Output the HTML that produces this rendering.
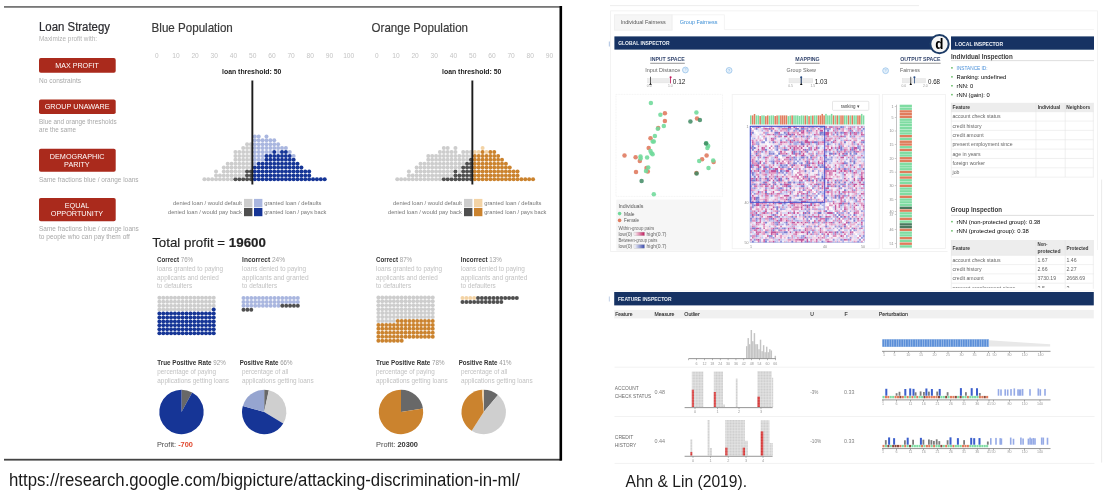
<!DOCTYPE html>
<html><head><meta charset="utf-8"><title>Fairness visualizations</title>
<style>
html,body{margin:0;padding:0;background:#fff;}
body{width:1115px;height:496px;overflow:hidden;}
svg{display:block;font-family:"Liberation Sans",Arial,sans-serif;}
</style></head><body>
<svg width="1115" height="496" viewBox="0 0 1115 496">
<rect x="4.00" y="6.00" width="557.50" height="1.80" fill="#777"/>
<rect x="4.00" y="458.80" width="557.50" height="1.80" fill="#444"/>
<rect x="559.50" y="6.00" width="2.60" height="454.60" fill="#000"/>
<defs><filter id="bL" x="-2%" y="-2%" width="104%" height="104%"><feGaussianBlur stdDeviation="0.22"/></filter><filter id="bR" x="-2%" y="-2%" width="104%" height="104%"><feGaussianBlur stdDeviation="0.32"/></filter></defs><g filter="url(#bL)">
<text x="39.0" y="31.4" font-size="12.3" fill="#2c2c30" textLength="71.0" lengthAdjust="spacingAndGlyphs" stroke="#2c2c30" stroke-width="0.22">Loan Strategy</text>
<text x="39.0" y="40.5" font-size="6.7" fill="#b0b0b0" textLength="58.0" lengthAdjust="spacingAndGlyphs">Maximize profit with:</text>
<rect x="39" y="58.1" width="76.7" height="14.7" rx="1.8" fill="#aa291b"/>
<text x="55.2" y="68.2" font-size="7.8" fill="#fff" textLength="43.7" lengthAdjust="spacingAndGlyphs">MAX PROFIT</text>
<text x="39.0" y="83.0" font-size="6.6" fill="#a8a8a8" textLength="42.0" lengthAdjust="spacingAndGlyphs">No constraints</text>
<rect x="39" y="99.6" width="76.7" height="14.5" rx="1.8" fill="#aa291b"/>
<text x="44.7" y="109.3" font-size="7.8" fill="#fff" textLength="65.0" lengthAdjust="spacingAndGlyphs">GROUP UNAWARE</text>
<text x="39.0" y="123.8" font-size="6.4" fill="#a8a8a8" textLength="77.6" lengthAdjust="spacingAndGlyphs">Blue and orange thresholds</text>
<text x="39.0" y="131.5" font-size="6.4" fill="#a8a8a8" textLength="37.0" lengthAdjust="spacingAndGlyphs">are the same</text>
<rect x="39" y="148.7" width="76.7" height="23.1" rx="1.8" fill="#aa291b"/>
<text x="49.8" y="158.8" font-size="7.8" fill="#fff" textLength="54.7" lengthAdjust="spacingAndGlyphs">DEMOGRAPHIC</text>
<text x="64.1" y="166.9" font-size="7.8" fill="#fff" textLength="25.6" lengthAdjust="spacingAndGlyphs">PARITY</text>
<text x="39.0" y="181.7" font-size="6.6" fill="#a8a8a8" textLength="99.6" lengthAdjust="spacingAndGlyphs">Same fractions blue / orange loans</text>
<rect x="39" y="198" width="76.7" height="23.3" rx="1.8" fill="#aa291b"/>
<text x="64.8" y="208.0" font-size="7.8" fill="#fff" textLength="24.5" lengthAdjust="spacingAndGlyphs">EQUAL</text>
<text x="50.8" y="216.4" font-size="7.8" fill="#fff" textLength="52.4" lengthAdjust="spacingAndGlyphs">OPPORTUNITY</text>
<text x="39.0" y="231.0" font-size="6.6" fill="#a8a8a8" textLength="99.8" lengthAdjust="spacingAndGlyphs">Same fractions blue / orange loans</text>
<text x="39.0" y="238.8" font-size="6.6" fill="#a8a8a8" textLength="90.8" lengthAdjust="spacingAndGlyphs">to people who can pay them off</text>
<text x="151.6" y="32.1" font-size="12.2" fill="#3a3a3a" textLength="81.2" lengthAdjust="spacingAndGlyphs" stroke="#3a3a3a" stroke-width="0.2">Blue Population</text>
<text x="156.7" y="57.9" font-size="7.4" fill="#c4c4c4" text-anchor="middle" textLength="3.6" lengthAdjust="spacingAndGlyphs">0</text>
<text x="175.9" y="57.9" font-size="7.4" fill="#c4c4c4" text-anchor="middle" textLength="7.4" lengthAdjust="spacingAndGlyphs">10</text>
<text x="195.1" y="57.9" font-size="7.4" fill="#c4c4c4" text-anchor="middle" textLength="7.4" lengthAdjust="spacingAndGlyphs">20</text>
<text x="214.3" y="57.9" font-size="7.4" fill="#c4c4c4" text-anchor="middle" textLength="7.4" lengthAdjust="spacingAndGlyphs">30</text>
<text x="233.5" y="57.9" font-size="7.4" fill="#c4c4c4" text-anchor="middle" textLength="7.4" lengthAdjust="spacingAndGlyphs">40</text>
<text x="252.7" y="57.9" font-size="7.4" fill="#c4c4c4" text-anchor="middle" textLength="7.4" lengthAdjust="spacingAndGlyphs">50</text>
<text x="271.9" y="57.9" font-size="7.4" fill="#c4c4c4" text-anchor="middle" textLength="7.4" lengthAdjust="spacingAndGlyphs">60</text>
<text x="291.1" y="57.9" font-size="7.4" fill="#c4c4c4" text-anchor="middle" textLength="7.4" lengthAdjust="spacingAndGlyphs">70</text>
<text x="310.3" y="57.9" font-size="7.4" fill="#c4c4c4" text-anchor="middle" textLength="7.4" lengthAdjust="spacingAndGlyphs">80</text>
<text x="329.5" y="57.9" font-size="7.4" fill="#c4c4c4" text-anchor="middle" textLength="7.4" lengthAdjust="spacingAndGlyphs">90</text>
<text x="348.7" y="57.9" font-size="7.4" fill="#c4c4c4" text-anchor="middle" textLength="11.0" lengthAdjust="spacingAndGlyphs">100</text>
<text x="251.7" y="74.1" font-size="7.4" fill="#222" font-weight="bold" text-anchor="middle" textLength="59.4" lengthAdjust="spacingAndGlyphs">loan threshold: 50</text>
<circle cx="204.40" cy="179.30" r="2.0" fill="#cdcdcd"/>
<circle cx="208.28" cy="179.30" r="2.0" fill="#cdcdcd"/>
<circle cx="212.16" cy="179.30" r="2.0" fill="#cdcdcd"/>
<circle cx="216.04" cy="179.30" r="2.0" fill="#cdcdcd"/>
<circle cx="216.04" cy="175.40" r="2.0" fill="#cdcdcd"/>
<circle cx="216.04" cy="171.50" r="2.0" fill="#cdcdcd"/>
<circle cx="219.92" cy="179.30" r="2.0" fill="#cdcdcd"/>
<circle cx="219.92" cy="175.40" r="2.0" fill="#cdcdcd"/>
<circle cx="223.80" cy="179.30" r="2.0" fill="#cdcdcd"/>
<circle cx="223.80" cy="175.40" r="2.0" fill="#cdcdcd"/>
<circle cx="223.80" cy="171.50" r="2.0" fill="#cdcdcd"/>
<circle cx="223.80" cy="167.60" r="2.0" fill="#cdcdcd"/>
<circle cx="227.68" cy="179.30" r="2.0" fill="#cdcdcd"/>
<circle cx="227.68" cy="175.40" r="2.0" fill="#cdcdcd"/>
<circle cx="227.68" cy="171.50" r="2.0" fill="#cdcdcd"/>
<circle cx="227.68" cy="167.60" r="2.0" fill="#cdcdcd"/>
<circle cx="227.68" cy="163.70" r="2.0" fill="#cdcdcd"/>
<circle cx="231.56" cy="179.30" r="2.0" fill="#cdcdcd"/>
<circle cx="231.56" cy="175.40" r="2.0" fill="#cdcdcd"/>
<circle cx="231.56" cy="171.50" r="2.0" fill="#cdcdcd"/>
<circle cx="231.56" cy="167.60" r="2.0" fill="#cdcdcd"/>
<circle cx="231.56" cy="163.70" r="2.0" fill="#cdcdcd"/>
<circle cx="235.44" cy="179.30" r="2.0" fill="#505050"/>
<circle cx="235.44" cy="175.40" r="2.0" fill="#cdcdcd"/>
<circle cx="235.44" cy="171.50" r="2.0" fill="#cdcdcd"/>
<circle cx="235.44" cy="167.60" r="2.0" fill="#cdcdcd"/>
<circle cx="235.44" cy="163.70" r="2.0" fill="#cdcdcd"/>
<circle cx="235.44" cy="159.80" r="2.0" fill="#cdcdcd"/>
<circle cx="235.44" cy="155.90" r="2.0" fill="#cdcdcd"/>
<circle cx="235.44" cy="152.00" r="2.0" fill="#cdcdcd"/>
<circle cx="239.32" cy="179.30" r="2.0" fill="#505050"/>
<circle cx="239.32" cy="175.40" r="2.0" fill="#cdcdcd"/>
<circle cx="239.32" cy="171.50" r="2.0" fill="#cdcdcd"/>
<circle cx="239.32" cy="167.60" r="2.0" fill="#cdcdcd"/>
<circle cx="239.32" cy="163.70" r="2.0" fill="#cdcdcd"/>
<circle cx="239.32" cy="159.80" r="2.0" fill="#cdcdcd"/>
<circle cx="239.32" cy="155.90" r="2.0" fill="#cdcdcd"/>
<circle cx="239.32" cy="152.00" r="2.0" fill="#cdcdcd"/>
<circle cx="243.20" cy="179.30" r="2.0" fill="#505050"/>
<circle cx="243.20" cy="175.40" r="2.0" fill="#cdcdcd"/>
<circle cx="243.20" cy="171.50" r="2.0" fill="#cdcdcd"/>
<circle cx="243.20" cy="167.60" r="2.0" fill="#cdcdcd"/>
<circle cx="243.20" cy="163.70" r="2.0" fill="#cdcdcd"/>
<circle cx="243.20" cy="159.80" r="2.0" fill="#cdcdcd"/>
<circle cx="243.20" cy="155.90" r="2.0" fill="#cdcdcd"/>
<circle cx="243.20" cy="152.00" r="2.0" fill="#cdcdcd"/>
<circle cx="243.20" cy="148.10" r="2.0" fill="#cdcdcd"/>
<circle cx="247.08" cy="179.30" r="2.0" fill="#505050"/>
<circle cx="247.08" cy="175.40" r="2.0" fill="#505050"/>
<circle cx="247.08" cy="171.50" r="2.0" fill="#505050"/>
<circle cx="247.08" cy="167.60" r="2.0" fill="#cdcdcd"/>
<circle cx="247.08" cy="163.70" r="2.0" fill="#cdcdcd"/>
<circle cx="247.08" cy="159.80" r="2.0" fill="#cdcdcd"/>
<circle cx="247.08" cy="155.90" r="2.0" fill="#cdcdcd"/>
<circle cx="247.08" cy="152.00" r="2.0" fill="#cdcdcd"/>
<circle cx="247.08" cy="148.10" r="2.0" fill="#cdcdcd"/>
<circle cx="247.08" cy="144.20" r="2.0" fill="#cdcdcd"/>
<circle cx="250.96" cy="179.30" r="2.0" fill="#505050"/>
<circle cx="250.96" cy="175.40" r="2.0" fill="#505050"/>
<circle cx="250.96" cy="171.50" r="2.0" fill="#505050"/>
<circle cx="250.96" cy="167.60" r="2.0" fill="#cdcdcd"/>
<circle cx="250.96" cy="163.70" r="2.0" fill="#cdcdcd"/>
<circle cx="250.96" cy="159.80" r="2.0" fill="#cdcdcd"/>
<circle cx="250.96" cy="155.90" r="2.0" fill="#cdcdcd"/>
<circle cx="250.96" cy="152.00" r="2.0" fill="#cdcdcd"/>
<circle cx="250.96" cy="148.10" r="2.0" fill="#cdcdcd"/>
<circle cx="250.96" cy="144.20" r="2.0" fill="#cdcdcd"/>
<circle cx="254.84" cy="179.30" r="2.0" fill="#143496"/>
<circle cx="254.84" cy="175.40" r="2.0" fill="#143496"/>
<circle cx="254.84" cy="171.50" r="2.0" fill="#143496"/>
<circle cx="254.84" cy="167.60" r="2.0" fill="#143496"/>
<circle cx="254.84" cy="163.70" r="2.0" fill="#a9b6df"/>
<circle cx="254.84" cy="159.80" r="2.0" fill="#a9b6df"/>
<circle cx="254.84" cy="155.90" r="2.0" fill="#a9b6df"/>
<circle cx="254.84" cy="152.00" r="2.0" fill="#a9b6df"/>
<circle cx="254.84" cy="148.10" r="2.0" fill="#a9b6df"/>
<circle cx="254.84" cy="144.20" r="2.0" fill="#a9b6df"/>
<circle cx="254.84" cy="140.30" r="2.0" fill="#a9b6df"/>
<circle cx="254.84" cy="136.40" r="2.0" fill="#a9b6df"/>
<circle cx="258.72" cy="179.30" r="2.0" fill="#143496"/>
<circle cx="258.72" cy="175.40" r="2.0" fill="#143496"/>
<circle cx="258.72" cy="171.50" r="2.0" fill="#143496"/>
<circle cx="258.72" cy="167.60" r="2.0" fill="#143496"/>
<circle cx="258.72" cy="163.70" r="2.0" fill="#143496"/>
<circle cx="258.72" cy="159.80" r="2.0" fill="#a9b6df"/>
<circle cx="258.72" cy="155.90" r="2.0" fill="#a9b6df"/>
<circle cx="258.72" cy="152.00" r="2.0" fill="#a9b6df"/>
<circle cx="258.72" cy="148.10" r="2.0" fill="#a9b6df"/>
<circle cx="258.72" cy="144.20" r="2.0" fill="#a9b6df"/>
<circle cx="258.72" cy="140.30" r="2.0" fill="#a9b6df"/>
<circle cx="258.72" cy="136.40" r="2.0" fill="#a9b6df"/>
<circle cx="262.60" cy="179.30" r="2.0" fill="#143496"/>
<circle cx="262.60" cy="175.40" r="2.0" fill="#143496"/>
<circle cx="262.60" cy="171.50" r="2.0" fill="#143496"/>
<circle cx="262.60" cy="167.60" r="2.0" fill="#143496"/>
<circle cx="262.60" cy="163.70" r="2.0" fill="#143496"/>
<circle cx="262.60" cy="159.80" r="2.0" fill="#a9b6df"/>
<circle cx="262.60" cy="155.90" r="2.0" fill="#a9b6df"/>
<circle cx="262.60" cy="152.00" r="2.0" fill="#a9b6df"/>
<circle cx="262.60" cy="148.10" r="2.0" fill="#a9b6df"/>
<circle cx="262.60" cy="144.20" r="2.0" fill="#a9b6df"/>
<circle cx="262.60" cy="140.30" r="2.0" fill="#a9b6df"/>
<circle cx="266.48" cy="179.30" r="2.0" fill="#143496"/>
<circle cx="266.48" cy="175.40" r="2.0" fill="#143496"/>
<circle cx="266.48" cy="171.50" r="2.0" fill="#143496"/>
<circle cx="266.48" cy="167.60" r="2.0" fill="#143496"/>
<circle cx="266.48" cy="163.70" r="2.0" fill="#143496"/>
<circle cx="266.48" cy="159.80" r="2.0" fill="#143496"/>
<circle cx="266.48" cy="155.90" r="2.0" fill="#143496"/>
<circle cx="266.48" cy="152.00" r="2.0" fill="#a9b6df"/>
<circle cx="266.48" cy="148.10" r="2.0" fill="#a9b6df"/>
<circle cx="266.48" cy="144.20" r="2.0" fill="#a9b6df"/>
<circle cx="266.48" cy="140.30" r="2.0" fill="#a9b6df"/>
<circle cx="266.48" cy="136.40" r="2.0" fill="#a9b6df"/>
<circle cx="270.36" cy="179.30" r="2.0" fill="#143496"/>
<circle cx="270.36" cy="175.40" r="2.0" fill="#143496"/>
<circle cx="270.36" cy="171.50" r="2.0" fill="#143496"/>
<circle cx="270.36" cy="167.60" r="2.0" fill="#143496"/>
<circle cx="270.36" cy="163.70" r="2.0" fill="#143496"/>
<circle cx="270.36" cy="159.80" r="2.0" fill="#143496"/>
<circle cx="270.36" cy="155.90" r="2.0" fill="#143496"/>
<circle cx="270.36" cy="152.00" r="2.0" fill="#a9b6df"/>
<circle cx="270.36" cy="148.10" r="2.0" fill="#a9b6df"/>
<circle cx="270.36" cy="144.20" r="2.0" fill="#a9b6df"/>
<circle cx="270.36" cy="140.30" r="2.0" fill="#a9b6df"/>
<circle cx="274.24" cy="179.30" r="2.0" fill="#143496"/>
<circle cx="274.24" cy="175.40" r="2.0" fill="#143496"/>
<circle cx="274.24" cy="171.50" r="2.0" fill="#143496"/>
<circle cx="274.24" cy="167.60" r="2.0" fill="#143496"/>
<circle cx="274.24" cy="163.70" r="2.0" fill="#143496"/>
<circle cx="274.24" cy="159.80" r="2.0" fill="#143496"/>
<circle cx="274.24" cy="155.90" r="2.0" fill="#143496"/>
<circle cx="274.24" cy="152.00" r="2.0" fill="#143496"/>
<circle cx="274.24" cy="148.10" r="2.0" fill="#a9b6df"/>
<circle cx="274.24" cy="144.20" r="2.0" fill="#a9b6df"/>
<circle cx="274.24" cy="140.30" r="2.0" fill="#a9b6df"/>
<circle cx="278.12" cy="179.30" r="2.0" fill="#143496"/>
<circle cx="278.12" cy="175.40" r="2.0" fill="#143496"/>
<circle cx="278.12" cy="171.50" r="2.0" fill="#143496"/>
<circle cx="278.12" cy="167.60" r="2.0" fill="#143496"/>
<circle cx="278.12" cy="163.70" r="2.0" fill="#143496"/>
<circle cx="278.12" cy="159.80" r="2.0" fill="#143496"/>
<circle cx="278.12" cy="155.90" r="2.0" fill="#143496"/>
<circle cx="278.12" cy="152.00" r="2.0" fill="#a9b6df"/>
<circle cx="278.12" cy="148.10" r="2.0" fill="#a9b6df"/>
<circle cx="278.12" cy="144.20" r="2.0" fill="#a9b6df"/>
<circle cx="282.00" cy="179.30" r="2.0" fill="#143496"/>
<circle cx="282.00" cy="175.40" r="2.0" fill="#143496"/>
<circle cx="282.00" cy="171.50" r="2.0" fill="#143496"/>
<circle cx="282.00" cy="167.60" r="2.0" fill="#143496"/>
<circle cx="282.00" cy="163.70" r="2.0" fill="#143496"/>
<circle cx="282.00" cy="159.80" r="2.0" fill="#143496"/>
<circle cx="282.00" cy="155.90" r="2.0" fill="#143496"/>
<circle cx="282.00" cy="152.00" r="2.0" fill="#143496"/>
<circle cx="282.00" cy="148.10" r="2.0" fill="#a9b6df"/>
<circle cx="285.88" cy="179.30" r="2.0" fill="#143496"/>
<circle cx="285.88" cy="175.40" r="2.0" fill="#143496"/>
<circle cx="285.88" cy="171.50" r="2.0" fill="#143496"/>
<circle cx="285.88" cy="167.60" r="2.0" fill="#143496"/>
<circle cx="285.88" cy="163.70" r="2.0" fill="#143496"/>
<circle cx="285.88" cy="159.80" r="2.0" fill="#143496"/>
<circle cx="285.88" cy="155.90" r="2.0" fill="#143496"/>
<circle cx="285.88" cy="152.00" r="2.0" fill="#143496"/>
<circle cx="285.88" cy="148.10" r="2.0" fill="#a9b6df"/>
<circle cx="289.76" cy="179.30" r="2.0" fill="#143496"/>
<circle cx="289.76" cy="175.40" r="2.0" fill="#143496"/>
<circle cx="289.76" cy="171.50" r="2.0" fill="#143496"/>
<circle cx="289.76" cy="167.60" r="2.0" fill="#143496"/>
<circle cx="289.76" cy="163.70" r="2.0" fill="#143496"/>
<circle cx="289.76" cy="159.80" r="2.0" fill="#143496"/>
<circle cx="289.76" cy="155.90" r="2.0" fill="#143496"/>
<circle cx="289.76" cy="152.00" r="2.0" fill="#a9b6df"/>
<circle cx="293.64" cy="179.30" r="2.0" fill="#143496"/>
<circle cx="293.64" cy="175.40" r="2.0" fill="#143496"/>
<circle cx="293.64" cy="171.50" r="2.0" fill="#143496"/>
<circle cx="293.64" cy="167.60" r="2.0" fill="#143496"/>
<circle cx="293.64" cy="163.70" r="2.0" fill="#143496"/>
<circle cx="293.64" cy="159.80" r="2.0" fill="#143496"/>
<circle cx="293.64" cy="155.90" r="2.0" fill="#a9b6df"/>
<circle cx="297.52" cy="179.30" r="2.0" fill="#143496"/>
<circle cx="297.52" cy="175.40" r="2.0" fill="#143496"/>
<circle cx="297.52" cy="171.50" r="2.0" fill="#143496"/>
<circle cx="297.52" cy="167.60" r="2.0" fill="#143496"/>
<circle cx="297.52" cy="163.70" r="2.0" fill="#143496"/>
<circle cx="301.40" cy="179.30" r="2.0" fill="#143496"/>
<circle cx="301.40" cy="175.40" r="2.0" fill="#143496"/>
<circle cx="301.40" cy="171.50" r="2.0" fill="#143496"/>
<circle cx="301.40" cy="167.60" r="2.0" fill="#143496"/>
<circle cx="305.28" cy="179.30" r="2.0" fill="#143496"/>
<circle cx="305.28" cy="175.40" r="2.0" fill="#143496"/>
<circle cx="305.28" cy="171.50" r="2.0" fill="#143496"/>
<circle cx="309.16" cy="179.30" r="2.0" fill="#143496"/>
<circle cx="309.16" cy="175.40" r="2.0" fill="#143496"/>
<circle cx="309.16" cy="171.50" r="2.0" fill="#143496"/>
<circle cx="313.04" cy="179.30" r="2.0" fill="#143496"/>
<circle cx="316.92" cy="179.30" r="2.0" fill="#143496"/>
<circle cx="320.80" cy="179.30" r="2.0" fill="#143496"/>
<circle cx="324.68" cy="179.30" r="2.0" fill="#143496"/>
<rect x="251.40" y="80.50" width="1.90" height="104.00" fill="#1e1e1e"/>
<text x="241.8" y="205.2" font-size="6.1" fill="#777" text-anchor="end" textLength="68.7" lengthAdjust="spacingAndGlyphs">denied loan / would default</text>
<text x="241.8" y="214.1" font-size="6.1" fill="#777" text-anchor="end" textLength="73.8" lengthAdjust="spacingAndGlyphs">denied loan / would pay back</text>
<rect x="244.00" y="198.90" width="8.40" height="8.10" fill="#cdcdcd"/>
<rect x="254.00" y="198.90" width="8.40" height="8.10" fill="#a9b6df"/>
<rect x="244.00" y="207.90" width="8.40" height="8.30" fill="#505050"/>
<rect x="254.00" y="207.90" width="8.40" height="8.30" fill="#143496"/>
<text x="264.2" y="205.2" font-size="6.1" fill="#777" textLength="57.3" lengthAdjust="spacingAndGlyphs">granted loan / defaults</text>
<text x="264.2" y="214.1" font-size="6.1" fill="#777" textLength="62.2" lengthAdjust="spacingAndGlyphs">granted loan / pays back</text>
<text x="371.6" y="32.1" font-size="12.2" fill="#3a3a3a" textLength="96.4" lengthAdjust="spacingAndGlyphs" stroke="#3a3a3a" stroke-width="0.2">Orange Population</text>
<text x="376.7" y="57.9" font-size="7.4" fill="#c4c4c4" text-anchor="middle" textLength="3.6" lengthAdjust="spacingAndGlyphs">0</text>
<text x="395.9" y="57.9" font-size="7.4" fill="#c4c4c4" text-anchor="middle" textLength="7.4" lengthAdjust="spacingAndGlyphs">10</text>
<text x="415.1" y="57.9" font-size="7.4" fill="#c4c4c4" text-anchor="middle" textLength="7.4" lengthAdjust="spacingAndGlyphs">20</text>
<text x="434.3" y="57.9" font-size="7.4" fill="#c4c4c4" text-anchor="middle" textLength="7.4" lengthAdjust="spacingAndGlyphs">30</text>
<text x="453.5" y="57.9" font-size="7.4" fill="#c4c4c4" text-anchor="middle" textLength="7.4" lengthAdjust="spacingAndGlyphs">40</text>
<text x="472.7" y="57.9" font-size="7.4" fill="#c4c4c4" text-anchor="middle" textLength="7.4" lengthAdjust="spacingAndGlyphs">50</text>
<text x="491.9" y="57.9" font-size="7.4" fill="#c4c4c4" text-anchor="middle" textLength="7.4" lengthAdjust="spacingAndGlyphs">60</text>
<text x="511.1" y="57.9" font-size="7.4" fill="#c4c4c4" text-anchor="middle" textLength="7.4" lengthAdjust="spacingAndGlyphs">70</text>
<text x="530.3" y="57.9" font-size="7.4" fill="#c4c4c4" text-anchor="middle" textLength="7.4" lengthAdjust="spacingAndGlyphs">80</text>
<text x="549.5" y="57.9" font-size="7.4" fill="#c4c4c4" text-anchor="middle" textLength="7.4" lengthAdjust="spacingAndGlyphs">90</text>
<text x="471.7" y="74.1" font-size="7.4" fill="#222" font-weight="bold" text-anchor="middle" textLength="59.4" lengthAdjust="spacingAndGlyphs">loan threshold: 50</text>
<circle cx="397.24" cy="179.30" r="2.0" fill="#cdcdcd"/>
<circle cx="401.12" cy="179.30" r="2.0" fill="#cdcdcd"/>
<circle cx="405.00" cy="179.30" r="2.0" fill="#cdcdcd"/>
<circle cx="408.88" cy="179.30" r="2.0" fill="#cdcdcd"/>
<circle cx="408.88" cy="175.40" r="2.0" fill="#cdcdcd"/>
<circle cx="408.88" cy="171.50" r="2.0" fill="#cdcdcd"/>
<circle cx="412.76" cy="179.30" r="2.0" fill="#cdcdcd"/>
<circle cx="412.76" cy="175.40" r="2.0" fill="#cdcdcd"/>
<circle cx="416.64" cy="179.30" r="2.0" fill="#cdcdcd"/>
<circle cx="416.64" cy="175.40" r="2.0" fill="#cdcdcd"/>
<circle cx="416.64" cy="171.50" r="2.0" fill="#cdcdcd"/>
<circle cx="416.64" cy="167.60" r="2.0" fill="#cdcdcd"/>
<circle cx="420.52" cy="179.30" r="2.0" fill="#cdcdcd"/>
<circle cx="420.52" cy="175.40" r="2.0" fill="#cdcdcd"/>
<circle cx="420.52" cy="171.50" r="2.0" fill="#cdcdcd"/>
<circle cx="420.52" cy="167.60" r="2.0" fill="#cdcdcd"/>
<circle cx="420.52" cy="163.70" r="2.0" fill="#cdcdcd"/>
<circle cx="424.40" cy="179.30" r="2.0" fill="#cdcdcd"/>
<circle cx="424.40" cy="175.40" r="2.0" fill="#cdcdcd"/>
<circle cx="424.40" cy="171.50" r="2.0" fill="#cdcdcd"/>
<circle cx="424.40" cy="167.60" r="2.0" fill="#cdcdcd"/>
<circle cx="424.40" cy="163.70" r="2.0" fill="#cdcdcd"/>
<circle cx="428.28" cy="179.30" r="2.0" fill="#cdcdcd"/>
<circle cx="428.28" cy="175.40" r="2.0" fill="#cdcdcd"/>
<circle cx="428.28" cy="171.50" r="2.0" fill="#cdcdcd"/>
<circle cx="428.28" cy="167.60" r="2.0" fill="#cdcdcd"/>
<circle cx="428.28" cy="163.70" r="2.0" fill="#cdcdcd"/>
<circle cx="428.28" cy="159.80" r="2.0" fill="#cdcdcd"/>
<circle cx="428.28" cy="155.90" r="2.0" fill="#cdcdcd"/>
<circle cx="432.16" cy="179.30" r="2.0" fill="#cdcdcd"/>
<circle cx="432.16" cy="175.40" r="2.0" fill="#cdcdcd"/>
<circle cx="432.16" cy="171.50" r="2.0" fill="#cdcdcd"/>
<circle cx="432.16" cy="167.60" r="2.0" fill="#cdcdcd"/>
<circle cx="432.16" cy="163.70" r="2.0" fill="#cdcdcd"/>
<circle cx="432.16" cy="159.80" r="2.0" fill="#cdcdcd"/>
<circle cx="432.16" cy="155.90" r="2.0" fill="#cdcdcd"/>
<circle cx="436.04" cy="179.30" r="2.0" fill="#cdcdcd"/>
<circle cx="436.04" cy="175.40" r="2.0" fill="#cdcdcd"/>
<circle cx="436.04" cy="171.50" r="2.0" fill="#cdcdcd"/>
<circle cx="436.04" cy="167.60" r="2.0" fill="#cdcdcd"/>
<circle cx="436.04" cy="163.70" r="2.0" fill="#cdcdcd"/>
<circle cx="436.04" cy="159.80" r="2.0" fill="#cdcdcd"/>
<circle cx="436.04" cy="155.90" r="2.0" fill="#cdcdcd"/>
<circle cx="439.92" cy="179.30" r="2.0" fill="#cdcdcd"/>
<circle cx="439.92" cy="175.40" r="2.0" fill="#cdcdcd"/>
<circle cx="439.92" cy="171.50" r="2.0" fill="#cdcdcd"/>
<circle cx="439.92" cy="167.60" r="2.0" fill="#cdcdcd"/>
<circle cx="439.92" cy="163.70" r="2.0" fill="#cdcdcd"/>
<circle cx="439.92" cy="159.80" r="2.0" fill="#cdcdcd"/>
<circle cx="439.92" cy="155.90" r="2.0" fill="#cdcdcd"/>
<circle cx="439.92" cy="152.00" r="2.0" fill="#cdcdcd"/>
<circle cx="443.80" cy="179.30" r="2.0" fill="#505050"/>
<circle cx="443.80" cy="175.40" r="2.0" fill="#cdcdcd"/>
<circle cx="443.80" cy="171.50" r="2.0" fill="#cdcdcd"/>
<circle cx="443.80" cy="167.60" r="2.0" fill="#cdcdcd"/>
<circle cx="443.80" cy="163.70" r="2.0" fill="#cdcdcd"/>
<circle cx="443.80" cy="159.80" r="2.0" fill="#cdcdcd"/>
<circle cx="443.80" cy="155.90" r="2.0" fill="#cdcdcd"/>
<circle cx="443.80" cy="152.00" r="2.0" fill="#cdcdcd"/>
<circle cx="443.80" cy="148.10" r="2.0" fill="#cdcdcd"/>
<circle cx="447.68" cy="179.30" r="2.0" fill="#505050"/>
<circle cx="447.68" cy="175.40" r="2.0" fill="#cdcdcd"/>
<circle cx="447.68" cy="171.50" r="2.0" fill="#cdcdcd"/>
<circle cx="447.68" cy="167.60" r="2.0" fill="#cdcdcd"/>
<circle cx="447.68" cy="163.70" r="2.0" fill="#cdcdcd"/>
<circle cx="447.68" cy="159.80" r="2.0" fill="#cdcdcd"/>
<circle cx="447.68" cy="155.90" r="2.0" fill="#cdcdcd"/>
<circle cx="447.68" cy="152.00" r="2.0" fill="#cdcdcd"/>
<circle cx="447.68" cy="148.10" r="2.0" fill="#cdcdcd"/>
<circle cx="451.56" cy="179.30" r="2.0" fill="#505050"/>
<circle cx="451.56" cy="175.40" r="2.0" fill="#cdcdcd"/>
<circle cx="451.56" cy="171.50" r="2.0" fill="#cdcdcd"/>
<circle cx="451.56" cy="167.60" r="2.0" fill="#cdcdcd"/>
<circle cx="451.56" cy="163.70" r="2.0" fill="#cdcdcd"/>
<circle cx="451.56" cy="159.80" r="2.0" fill="#cdcdcd"/>
<circle cx="451.56" cy="155.90" r="2.0" fill="#cdcdcd"/>
<circle cx="451.56" cy="152.00" r="2.0" fill="#cdcdcd"/>
<circle cx="455.44" cy="179.30" r="2.0" fill="#505050"/>
<circle cx="455.44" cy="175.40" r="2.0" fill="#505050"/>
<circle cx="455.44" cy="171.50" r="2.0" fill="#505050"/>
<circle cx="455.44" cy="167.60" r="2.0" fill="#cdcdcd"/>
<circle cx="455.44" cy="163.70" r="2.0" fill="#cdcdcd"/>
<circle cx="455.44" cy="159.80" r="2.0" fill="#cdcdcd"/>
<circle cx="455.44" cy="155.90" r="2.0" fill="#cdcdcd"/>
<circle cx="455.44" cy="152.00" r="2.0" fill="#cdcdcd"/>
<circle cx="455.44" cy="148.10" r="2.0" fill="#cdcdcd"/>
<circle cx="459.32" cy="179.30" r="2.0" fill="#505050"/>
<circle cx="459.32" cy="175.40" r="2.0" fill="#505050"/>
<circle cx="459.32" cy="171.50" r="2.0" fill="#cdcdcd"/>
<circle cx="459.32" cy="167.60" r="2.0" fill="#cdcdcd"/>
<circle cx="459.32" cy="163.70" r="2.0" fill="#cdcdcd"/>
<circle cx="459.32" cy="159.80" r="2.0" fill="#cdcdcd"/>
<circle cx="459.32" cy="155.90" r="2.0" fill="#cdcdcd"/>
<circle cx="463.20" cy="179.30" r="2.0" fill="#505050"/>
<circle cx="463.20" cy="175.40" r="2.0" fill="#505050"/>
<circle cx="463.20" cy="171.50" r="2.0" fill="#505050"/>
<circle cx="463.20" cy="167.60" r="2.0" fill="#505050"/>
<circle cx="463.20" cy="163.70" r="2.0" fill="#cdcdcd"/>
<circle cx="463.20" cy="159.80" r="2.0" fill="#cdcdcd"/>
<circle cx="463.20" cy="155.90" r="2.0" fill="#cdcdcd"/>
<circle cx="463.20" cy="152.00" r="2.0" fill="#cdcdcd"/>
<circle cx="467.08" cy="179.30" r="2.0" fill="#505050"/>
<circle cx="467.08" cy="175.40" r="2.0" fill="#505050"/>
<circle cx="467.08" cy="171.50" r="2.0" fill="#505050"/>
<circle cx="467.08" cy="167.60" r="2.0" fill="#505050"/>
<circle cx="467.08" cy="163.70" r="2.0" fill="#505050"/>
<circle cx="467.08" cy="159.80" r="2.0" fill="#cdcdcd"/>
<circle cx="467.08" cy="155.90" r="2.0" fill="#cdcdcd"/>
<circle cx="467.08" cy="152.00" r="2.0" fill="#cdcdcd"/>
<circle cx="470.96" cy="179.30" r="2.0" fill="#505050"/>
<circle cx="470.96" cy="175.40" r="2.0" fill="#505050"/>
<circle cx="470.96" cy="171.50" r="2.0" fill="#505050"/>
<circle cx="470.96" cy="167.60" r="2.0" fill="#505050"/>
<circle cx="470.96" cy="163.70" r="2.0" fill="#505050"/>
<circle cx="470.96" cy="159.80" r="2.0" fill="#505050"/>
<circle cx="470.96" cy="155.90" r="2.0" fill="#cdcdcd"/>
<circle cx="470.96" cy="152.00" r="2.0" fill="#cdcdcd"/>
<circle cx="474.84" cy="179.30" r="2.0" fill="#cb832e"/>
<circle cx="474.84" cy="175.40" r="2.0" fill="#cb832e"/>
<circle cx="474.84" cy="171.50" r="2.0" fill="#cb832e"/>
<circle cx="474.84" cy="167.60" r="2.0" fill="#cb832e"/>
<circle cx="474.84" cy="163.70" r="2.0" fill="#cb832e"/>
<circle cx="474.84" cy="159.80" r="2.0" fill="#cb832e"/>
<circle cx="474.84" cy="155.90" r="2.0" fill="#cb832e"/>
<circle cx="474.84" cy="152.00" r="2.0" fill="#f3d3a5"/>
<circle cx="478.72" cy="179.30" r="2.0" fill="#cb832e"/>
<circle cx="478.72" cy="175.40" r="2.0" fill="#cb832e"/>
<circle cx="478.72" cy="171.50" r="2.0" fill="#cb832e"/>
<circle cx="478.72" cy="167.60" r="2.0" fill="#cb832e"/>
<circle cx="478.72" cy="163.70" r="2.0" fill="#cb832e"/>
<circle cx="478.72" cy="159.80" r="2.0" fill="#cb832e"/>
<circle cx="478.72" cy="155.90" r="2.0" fill="#cb832e"/>
<circle cx="478.72" cy="152.00" r="2.0" fill="#f3d3a5"/>
<circle cx="482.60" cy="179.30" r="2.0" fill="#cb832e"/>
<circle cx="482.60" cy="175.40" r="2.0" fill="#cb832e"/>
<circle cx="482.60" cy="171.50" r="2.0" fill="#cb832e"/>
<circle cx="482.60" cy="167.60" r="2.0" fill="#cb832e"/>
<circle cx="482.60" cy="163.70" r="2.0" fill="#cb832e"/>
<circle cx="482.60" cy="159.80" r="2.0" fill="#cb832e"/>
<circle cx="482.60" cy="155.90" r="2.0" fill="#cb832e"/>
<circle cx="482.60" cy="152.00" r="2.0" fill="#cb832e"/>
<circle cx="482.60" cy="148.10" r="2.0" fill="#f3d3a5"/>
<circle cx="486.48" cy="179.30" r="2.0" fill="#cb832e"/>
<circle cx="486.48" cy="175.40" r="2.0" fill="#cb832e"/>
<circle cx="486.48" cy="171.50" r="2.0" fill="#cb832e"/>
<circle cx="486.48" cy="167.60" r="2.0" fill="#cb832e"/>
<circle cx="486.48" cy="163.70" r="2.0" fill="#cb832e"/>
<circle cx="486.48" cy="159.80" r="2.0" fill="#cb832e"/>
<circle cx="486.48" cy="155.90" r="2.0" fill="#cb832e"/>
<circle cx="486.48" cy="152.00" r="2.0" fill="#f3d3a5"/>
<circle cx="490.36" cy="179.30" r="2.0" fill="#cb832e"/>
<circle cx="490.36" cy="175.40" r="2.0" fill="#cb832e"/>
<circle cx="490.36" cy="171.50" r="2.0" fill="#cb832e"/>
<circle cx="490.36" cy="167.60" r="2.0" fill="#cb832e"/>
<circle cx="490.36" cy="163.70" r="2.0" fill="#cb832e"/>
<circle cx="490.36" cy="159.80" r="2.0" fill="#cb832e"/>
<circle cx="490.36" cy="155.90" r="2.0" fill="#cb832e"/>
<circle cx="490.36" cy="152.00" r="2.0" fill="#cb832e"/>
<circle cx="494.24" cy="179.30" r="2.0" fill="#cb832e"/>
<circle cx="494.24" cy="175.40" r="2.0" fill="#cb832e"/>
<circle cx="494.24" cy="171.50" r="2.0" fill="#cb832e"/>
<circle cx="494.24" cy="167.60" r="2.0" fill="#cb832e"/>
<circle cx="494.24" cy="163.70" r="2.0" fill="#cb832e"/>
<circle cx="494.24" cy="159.80" r="2.0" fill="#cb832e"/>
<circle cx="494.24" cy="155.90" r="2.0" fill="#cb832e"/>
<circle cx="494.24" cy="152.00" r="2.0" fill="#cb832e"/>
<circle cx="498.12" cy="179.30" r="2.0" fill="#cb832e"/>
<circle cx="498.12" cy="175.40" r="2.0" fill="#cb832e"/>
<circle cx="498.12" cy="171.50" r="2.0" fill="#cb832e"/>
<circle cx="498.12" cy="167.60" r="2.0" fill="#cb832e"/>
<circle cx="498.12" cy="163.70" r="2.0" fill="#cb832e"/>
<circle cx="498.12" cy="159.80" r="2.0" fill="#cb832e"/>
<circle cx="498.12" cy="155.90" r="2.0" fill="#cb832e"/>
<circle cx="502.00" cy="179.30" r="2.0" fill="#cb832e"/>
<circle cx="502.00" cy="175.40" r="2.0" fill="#cb832e"/>
<circle cx="502.00" cy="171.50" r="2.0" fill="#cb832e"/>
<circle cx="502.00" cy="167.60" r="2.0" fill="#cb832e"/>
<circle cx="502.00" cy="163.70" r="2.0" fill="#cb832e"/>
<circle cx="502.00" cy="159.80" r="2.0" fill="#cb832e"/>
<circle cx="505.88" cy="179.30" r="2.0" fill="#cb832e"/>
<circle cx="505.88" cy="175.40" r="2.0" fill="#cb832e"/>
<circle cx="505.88" cy="171.50" r="2.0" fill="#cb832e"/>
<circle cx="505.88" cy="167.60" r="2.0" fill="#cb832e"/>
<circle cx="505.88" cy="163.70" r="2.0" fill="#cb832e"/>
<circle cx="509.76" cy="179.30" r="2.0" fill="#cb832e"/>
<circle cx="509.76" cy="175.40" r="2.0" fill="#cb832e"/>
<circle cx="509.76" cy="171.50" r="2.0" fill="#cb832e"/>
<circle cx="509.76" cy="167.60" r="2.0" fill="#cb832e"/>
<circle cx="513.64" cy="179.30" r="2.0" fill="#cb832e"/>
<circle cx="513.64" cy="175.40" r="2.0" fill="#cb832e"/>
<circle cx="513.64" cy="171.50" r="2.0" fill="#cb832e"/>
<circle cx="517.52" cy="179.30" r="2.0" fill="#cb832e"/>
<circle cx="517.52" cy="175.40" r="2.0" fill="#cb832e"/>
<circle cx="517.52" cy="171.50" r="2.0" fill="#cb832e"/>
<circle cx="521.40" cy="179.30" r="2.0" fill="#cb832e"/>
<circle cx="525.28" cy="179.30" r="2.0" fill="#cb832e"/>
<circle cx="529.16" cy="179.30" r="2.0" fill="#cb832e"/>
<circle cx="533.04" cy="179.30" r="2.0" fill="#cb832e"/>
<rect x="471.40" y="80.50" width="1.90" height="104.00" fill="#1e1e1e"/>
<text x="461.8" y="205.2" font-size="6.1" fill="#777" text-anchor="end" textLength="68.7" lengthAdjust="spacingAndGlyphs">denied loan / would default</text>
<text x="461.8" y="214.1" font-size="6.1" fill="#777" text-anchor="end" textLength="73.8" lengthAdjust="spacingAndGlyphs">denied loan / would pay back</text>
<rect x="464.00" y="198.90" width="8.40" height="8.10" fill="#cdcdcd"/>
<rect x="474.00" y="198.90" width="8.40" height="8.10" fill="#f3d3a5"/>
<rect x="464.00" y="207.90" width="8.40" height="8.30" fill="#505050"/>
<rect x="474.00" y="207.90" width="8.40" height="8.30" fill="#cb832e"/>
<text x="484.2" y="205.2" font-size="6.1" fill="#777" textLength="57.3" lengthAdjust="spacingAndGlyphs">granted loan / defaults</text>
<text x="484.2" y="214.1" font-size="6.1" fill="#777" textLength="62.2" lengthAdjust="spacingAndGlyphs">granted loan / pays back</text>
<text x="152.2" y="246.6" font-size="13" fill="#222" textLength="113.7" lengthAdjust="spacingAndGlyphs" stroke="#222" stroke-width="0.15">Total profit = <tspan font-weight="bold">19600</tspan></text>
<text x="157.1" y="262.0" font-size="6.4" fill="#a0a0a0" textLength="36.0" lengthAdjust="spacingAndGlyphs"><tspan font-weight="bold" fill="#333">Correct</tspan> 76%</text>
<text x="157.1" y="271.3" font-size="6.6" fill="#c2c2c2" textLength="66.0" lengthAdjust="spacingAndGlyphs">loans granted to paying</text>
<text x="157.1" y="279.6" font-size="6.6" fill="#c2c2c2" textLength="61.7" lengthAdjust="spacingAndGlyphs">applicants and denied</text>
<text x="157.1" y="287.9" font-size="6.6" fill="#c2c2c2" textLength="35.0" lengthAdjust="spacingAndGlyphs">to defaulters</text>
<text x="242.1" y="262.0" font-size="6.4" fill="#a0a0a0" textLength="43.0" lengthAdjust="spacingAndGlyphs"><tspan font-weight="bold" fill="#333">Incorrect</tspan> 24%</text>
<text x="242.1" y="271.3" font-size="6.6" fill="#c2c2c2" textLength="64.0" lengthAdjust="spacingAndGlyphs">loans denied to paying</text>
<text x="242.1" y="279.6" font-size="6.6" fill="#c2c2c2" textLength="66.5" lengthAdjust="spacingAndGlyphs">applicants and granted</text>
<text x="242.1" y="287.9" font-size="6.6" fill="#c2c2c2" textLength="35.0" lengthAdjust="spacingAndGlyphs">to defaulters</text>
<text x="376.1" y="262.0" font-size="6.4" fill="#a0a0a0" textLength="36.0" lengthAdjust="spacingAndGlyphs"><tspan font-weight="bold" fill="#333">Correct</tspan> 87%</text>
<text x="376.1" y="271.3" font-size="6.6" fill="#c2c2c2" textLength="66.0" lengthAdjust="spacingAndGlyphs">loans granted to paying</text>
<text x="376.1" y="279.6" font-size="6.6" fill="#c2c2c2" textLength="61.7" lengthAdjust="spacingAndGlyphs">applicants and denied</text>
<text x="376.1" y="287.9" font-size="6.6" fill="#c2c2c2" textLength="35.0" lengthAdjust="spacingAndGlyphs">to defaulters</text>
<text x="460.8" y="262.0" font-size="6.4" fill="#a0a0a0" textLength="41.0" lengthAdjust="spacingAndGlyphs"><tspan font-weight="bold" fill="#333">Incorrect</tspan> 13%</text>
<text x="460.8" y="271.3" font-size="6.6" fill="#c2c2c2" textLength="64.0" lengthAdjust="spacingAndGlyphs">loans denied to paying</text>
<text x="460.8" y="279.6" font-size="6.6" fill="#c2c2c2" textLength="66.5" lengthAdjust="spacingAndGlyphs">applicants and granted</text>
<text x="460.8" y="287.9" font-size="6.6" fill="#c2c2c2" textLength="35.0" lengthAdjust="spacingAndGlyphs">to defaulters</text>
<circle cx="159.40" cy="297.80" r="2.0" fill="#cdcdcd"/>
<circle cx="163.28" cy="297.80" r="2.0" fill="#cdcdcd"/>
<circle cx="167.16" cy="297.80" r="2.0" fill="#cdcdcd"/>
<circle cx="171.04" cy="297.80" r="2.0" fill="#cdcdcd"/>
<circle cx="174.92" cy="297.80" r="2.0" fill="#cdcdcd"/>
<circle cx="178.80" cy="297.80" r="2.0" fill="#cdcdcd"/>
<circle cx="182.68" cy="297.80" r="2.0" fill="#cdcdcd"/>
<circle cx="186.56" cy="297.80" r="2.0" fill="#cdcdcd"/>
<circle cx="190.44" cy="297.80" r="2.0" fill="#cdcdcd"/>
<circle cx="194.32" cy="297.80" r="2.0" fill="#cdcdcd"/>
<circle cx="198.20" cy="297.80" r="2.0" fill="#cdcdcd"/>
<circle cx="202.08" cy="297.80" r="2.0" fill="#cdcdcd"/>
<circle cx="205.96" cy="297.80" r="2.0" fill="#cdcdcd"/>
<circle cx="209.84" cy="297.80" r="2.0" fill="#cdcdcd"/>
<circle cx="213.72" cy="297.80" r="2.0" fill="#cdcdcd"/>
<circle cx="159.40" cy="301.73" r="2.0" fill="#cdcdcd"/>
<circle cx="163.28" cy="301.73" r="2.0" fill="#cdcdcd"/>
<circle cx="167.16" cy="301.73" r="2.0" fill="#cdcdcd"/>
<circle cx="171.04" cy="301.73" r="2.0" fill="#cdcdcd"/>
<circle cx="174.92" cy="301.73" r="2.0" fill="#cdcdcd"/>
<circle cx="178.80" cy="301.73" r="2.0" fill="#cdcdcd"/>
<circle cx="182.68" cy="301.73" r="2.0" fill="#cdcdcd"/>
<circle cx="186.56" cy="301.73" r="2.0" fill="#cdcdcd"/>
<circle cx="190.44" cy="301.73" r="2.0" fill="#cdcdcd"/>
<circle cx="194.32" cy="301.73" r="2.0" fill="#cdcdcd"/>
<circle cx="198.20" cy="301.73" r="2.0" fill="#cdcdcd"/>
<circle cx="202.08" cy="301.73" r="2.0" fill="#cdcdcd"/>
<circle cx="205.96" cy="301.73" r="2.0" fill="#cdcdcd"/>
<circle cx="209.84" cy="301.73" r="2.0" fill="#cdcdcd"/>
<circle cx="213.72" cy="301.73" r="2.0" fill="#cdcdcd"/>
<circle cx="159.40" cy="305.66" r="2.0" fill="#cdcdcd"/>
<circle cx="163.28" cy="305.66" r="2.0" fill="#cdcdcd"/>
<circle cx="167.16" cy="305.66" r="2.0" fill="#cdcdcd"/>
<circle cx="171.04" cy="305.66" r="2.0" fill="#cdcdcd"/>
<circle cx="174.92" cy="305.66" r="2.0" fill="#cdcdcd"/>
<circle cx="178.80" cy="305.66" r="2.0" fill="#cdcdcd"/>
<circle cx="182.68" cy="305.66" r="2.0" fill="#cdcdcd"/>
<circle cx="186.56" cy="305.66" r="2.0" fill="#cdcdcd"/>
<circle cx="190.44" cy="305.66" r="2.0" fill="#cdcdcd"/>
<circle cx="194.32" cy="305.66" r="2.0" fill="#cdcdcd"/>
<circle cx="198.20" cy="305.66" r="2.0" fill="#cdcdcd"/>
<circle cx="202.08" cy="305.66" r="2.0" fill="#cdcdcd"/>
<circle cx="205.96" cy="305.66" r="2.0" fill="#cdcdcd"/>
<circle cx="209.84" cy="305.66" r="2.0" fill="#cdcdcd"/>
<circle cx="213.72" cy="305.66" r="2.0" fill="#cdcdcd"/>
<circle cx="159.40" cy="309.59" r="2.0" fill="#cdcdcd"/>
<circle cx="163.28" cy="309.59" r="2.0" fill="#cdcdcd"/>
<circle cx="167.16" cy="309.59" r="2.0" fill="#cdcdcd"/>
<circle cx="171.04" cy="309.59" r="2.0" fill="#cdcdcd"/>
<circle cx="174.92" cy="309.59" r="2.0" fill="#cdcdcd"/>
<circle cx="178.80" cy="309.59" r="2.0" fill="#cdcdcd"/>
<circle cx="182.68" cy="309.59" r="2.0" fill="#cdcdcd"/>
<circle cx="186.56" cy="309.59" r="2.0" fill="#cdcdcd"/>
<circle cx="190.44" cy="309.59" r="2.0" fill="#cdcdcd"/>
<circle cx="194.32" cy="309.59" r="2.0" fill="#cdcdcd"/>
<circle cx="198.20" cy="309.59" r="2.0" fill="#cdcdcd"/>
<circle cx="202.08" cy="309.59" r="2.0" fill="#cdcdcd"/>
<circle cx="205.96" cy="309.59" r="2.0" fill="#cdcdcd"/>
<circle cx="209.84" cy="309.59" r="2.0" fill="#cdcdcd"/>
<circle cx="213.72" cy="309.59" r="2.0" fill="#143496"/>
<circle cx="159.40" cy="313.52" r="2.0" fill="#143496"/>
<circle cx="163.28" cy="313.52" r="2.0" fill="#143496"/>
<circle cx="167.16" cy="313.52" r="2.0" fill="#143496"/>
<circle cx="171.04" cy="313.52" r="2.0" fill="#143496"/>
<circle cx="174.92" cy="313.52" r="2.0" fill="#143496"/>
<circle cx="178.80" cy="313.52" r="2.0" fill="#143496"/>
<circle cx="182.68" cy="313.52" r="2.0" fill="#143496"/>
<circle cx="186.56" cy="313.52" r="2.0" fill="#143496"/>
<circle cx="190.44" cy="313.52" r="2.0" fill="#143496"/>
<circle cx="194.32" cy="313.52" r="2.0" fill="#143496"/>
<circle cx="198.20" cy="313.52" r="2.0" fill="#143496"/>
<circle cx="202.08" cy="313.52" r="2.0" fill="#143496"/>
<circle cx="205.96" cy="313.52" r="2.0" fill="#143496"/>
<circle cx="209.84" cy="313.52" r="2.0" fill="#143496"/>
<circle cx="213.72" cy="313.52" r="2.0" fill="#143496"/>
<circle cx="159.40" cy="317.45" r="2.0" fill="#143496"/>
<circle cx="163.28" cy="317.45" r="2.0" fill="#143496"/>
<circle cx="167.16" cy="317.45" r="2.0" fill="#143496"/>
<circle cx="171.04" cy="317.45" r="2.0" fill="#143496"/>
<circle cx="174.92" cy="317.45" r="2.0" fill="#143496"/>
<circle cx="178.80" cy="317.45" r="2.0" fill="#143496"/>
<circle cx="182.68" cy="317.45" r="2.0" fill="#143496"/>
<circle cx="186.56" cy="317.45" r="2.0" fill="#143496"/>
<circle cx="190.44" cy="317.45" r="2.0" fill="#143496"/>
<circle cx="194.32" cy="317.45" r="2.0" fill="#143496"/>
<circle cx="198.20" cy="317.45" r="2.0" fill="#143496"/>
<circle cx="202.08" cy="317.45" r="2.0" fill="#143496"/>
<circle cx="205.96" cy="317.45" r="2.0" fill="#143496"/>
<circle cx="209.84" cy="317.45" r="2.0" fill="#143496"/>
<circle cx="213.72" cy="317.45" r="2.0" fill="#143496"/>
<circle cx="159.40" cy="321.38" r="2.0" fill="#143496"/>
<circle cx="163.28" cy="321.38" r="2.0" fill="#143496"/>
<circle cx="167.16" cy="321.38" r="2.0" fill="#143496"/>
<circle cx="171.04" cy="321.38" r="2.0" fill="#143496"/>
<circle cx="174.92" cy="321.38" r="2.0" fill="#143496"/>
<circle cx="178.80" cy="321.38" r="2.0" fill="#143496"/>
<circle cx="182.68" cy="321.38" r="2.0" fill="#143496"/>
<circle cx="186.56" cy="321.38" r="2.0" fill="#143496"/>
<circle cx="190.44" cy="321.38" r="2.0" fill="#143496"/>
<circle cx="194.32" cy="321.38" r="2.0" fill="#143496"/>
<circle cx="198.20" cy="321.38" r="2.0" fill="#143496"/>
<circle cx="202.08" cy="321.38" r="2.0" fill="#143496"/>
<circle cx="205.96" cy="321.38" r="2.0" fill="#143496"/>
<circle cx="209.84" cy="321.38" r="2.0" fill="#143496"/>
<circle cx="213.72" cy="321.38" r="2.0" fill="#143496"/>
<circle cx="159.40" cy="325.31" r="2.0" fill="#143496"/>
<circle cx="163.28" cy="325.31" r="2.0" fill="#143496"/>
<circle cx="167.16" cy="325.31" r="2.0" fill="#143496"/>
<circle cx="171.04" cy="325.31" r="2.0" fill="#143496"/>
<circle cx="174.92" cy="325.31" r="2.0" fill="#143496"/>
<circle cx="178.80" cy="325.31" r="2.0" fill="#143496"/>
<circle cx="182.68" cy="325.31" r="2.0" fill="#143496"/>
<circle cx="186.56" cy="325.31" r="2.0" fill="#143496"/>
<circle cx="190.44" cy="325.31" r="2.0" fill="#143496"/>
<circle cx="194.32" cy="325.31" r="2.0" fill="#143496"/>
<circle cx="198.20" cy="325.31" r="2.0" fill="#143496"/>
<circle cx="202.08" cy="325.31" r="2.0" fill="#143496"/>
<circle cx="205.96" cy="325.31" r="2.0" fill="#143496"/>
<circle cx="209.84" cy="325.31" r="2.0" fill="#143496"/>
<circle cx="213.72" cy="325.31" r="2.0" fill="#143496"/>
<circle cx="159.40" cy="329.24" r="2.0" fill="#143496"/>
<circle cx="163.28" cy="329.24" r="2.0" fill="#143496"/>
<circle cx="167.16" cy="329.24" r="2.0" fill="#143496"/>
<circle cx="171.04" cy="329.24" r="2.0" fill="#143496"/>
<circle cx="174.92" cy="329.24" r="2.0" fill="#143496"/>
<circle cx="178.80" cy="329.24" r="2.0" fill="#143496"/>
<circle cx="182.68" cy="329.24" r="2.0" fill="#143496"/>
<circle cx="186.56" cy="329.24" r="2.0" fill="#143496"/>
<circle cx="190.44" cy="329.24" r="2.0" fill="#143496"/>
<circle cx="194.32" cy="329.24" r="2.0" fill="#143496"/>
<circle cx="198.20" cy="329.24" r="2.0" fill="#143496"/>
<circle cx="202.08" cy="329.24" r="2.0" fill="#143496"/>
<circle cx="205.96" cy="329.24" r="2.0" fill="#143496"/>
<circle cx="209.84" cy="329.24" r="2.0" fill="#143496"/>
<circle cx="213.72" cy="329.24" r="2.0" fill="#143496"/>
<circle cx="159.40" cy="333.17" r="2.0" fill="#143496"/>
<circle cx="163.28" cy="333.17" r="2.0" fill="#143496"/>
<circle cx="167.16" cy="333.17" r="2.0" fill="#143496"/>
<circle cx="171.04" cy="333.17" r="2.0" fill="#143496"/>
<circle cx="174.92" cy="333.17" r="2.0" fill="#143496"/>
<circle cx="178.80" cy="333.17" r="2.0" fill="#143496"/>
<circle cx="182.68" cy="333.17" r="2.0" fill="#143496"/>
<circle cx="186.56" cy="333.17" r="2.0" fill="#143496"/>
<circle cx="190.44" cy="333.17" r="2.0" fill="#143496"/>
<circle cx="194.32" cy="333.17" r="2.0" fill="#143496"/>
<circle cx="198.20" cy="333.17" r="2.0" fill="#143496"/>
<circle cx="202.08" cy="333.17" r="2.0" fill="#143496"/>
<circle cx="205.96" cy="333.17" r="2.0" fill="#143496"/>
<circle cx="209.84" cy="333.17" r="2.0" fill="#143496"/>
<circle cx="213.72" cy="333.17" r="2.0" fill="#143496"/>
<circle cx="243.50" cy="298.00" r="2.0" fill="#a9b6df"/>
<circle cx="247.38" cy="298.00" r="2.0" fill="#a9b6df"/>
<circle cx="251.26" cy="298.00" r="2.0" fill="#a9b6df"/>
<circle cx="255.14" cy="298.00" r="2.0" fill="#a9b6df"/>
<circle cx="259.02" cy="298.00" r="2.0" fill="#a9b6df"/>
<circle cx="262.90" cy="298.00" r="2.0" fill="#a9b6df"/>
<circle cx="266.78" cy="298.00" r="2.0" fill="#a9b6df"/>
<circle cx="270.66" cy="298.00" r="2.0" fill="#a9b6df"/>
<circle cx="274.54" cy="298.00" r="2.0" fill="#a9b6df"/>
<circle cx="278.42" cy="298.00" r="2.0" fill="#a9b6df"/>
<circle cx="282.30" cy="298.00" r="2.0" fill="#a9b6df"/>
<circle cx="286.18" cy="298.00" r="2.0" fill="#a9b6df"/>
<circle cx="290.06" cy="298.00" r="2.0" fill="#a9b6df"/>
<circle cx="293.94" cy="298.00" r="2.0" fill="#a9b6df"/>
<circle cx="297.82" cy="298.00" r="2.0" fill="#a9b6df"/>
<circle cx="243.50" cy="301.93" r="2.0" fill="#a9b6df"/>
<circle cx="247.38" cy="301.93" r="2.0" fill="#a9b6df"/>
<circle cx="251.26" cy="301.93" r="2.0" fill="#a9b6df"/>
<circle cx="255.14" cy="301.93" r="2.0" fill="#a9b6df"/>
<circle cx="259.02" cy="301.93" r="2.0" fill="#a9b6df"/>
<circle cx="262.90" cy="301.93" r="2.0" fill="#a9b6df"/>
<circle cx="266.78" cy="301.93" r="2.0" fill="#a9b6df"/>
<circle cx="270.66" cy="301.93" r="2.0" fill="#a9b6df"/>
<circle cx="274.54" cy="301.93" r="2.0" fill="#a9b6df"/>
<circle cx="278.42" cy="301.93" r="2.0" fill="#a9b6df"/>
<circle cx="282.30" cy="301.93" r="2.0" fill="#a9b6df"/>
<circle cx="286.18" cy="301.93" r="2.0" fill="#a9b6df"/>
<circle cx="290.06" cy="301.93" r="2.0" fill="#a9b6df"/>
<circle cx="293.94" cy="301.93" r="2.0" fill="#a9b6df"/>
<circle cx="297.82" cy="301.93" r="2.0" fill="#a9b6df"/>
<circle cx="243.50" cy="305.86" r="2.0" fill="#a9b6df"/>
<circle cx="247.38" cy="305.86" r="2.0" fill="#a9b6df"/>
<circle cx="251.26" cy="305.86" r="2.0" fill="#a9b6df"/>
<circle cx="255.14" cy="305.86" r="2.0" fill="#a9b6df"/>
<circle cx="259.02" cy="305.86" r="2.0" fill="#a9b6df"/>
<circle cx="262.90" cy="305.86" r="2.0" fill="#a9b6df"/>
<circle cx="266.78" cy="305.86" r="2.0" fill="#a9b6df"/>
<circle cx="270.66" cy="305.86" r="2.0" fill="#a9b6df"/>
<circle cx="274.54" cy="305.86" r="2.0" fill="#a9b6df"/>
<circle cx="278.42" cy="305.86" r="2.0" fill="#a9b6df"/>
<circle cx="282.30" cy="305.86" r="2.0" fill="#505050"/>
<circle cx="286.18" cy="305.86" r="2.0" fill="#505050"/>
<circle cx="290.06" cy="305.86" r="2.0" fill="#505050"/>
<circle cx="293.94" cy="305.86" r="2.0" fill="#505050"/>
<circle cx="297.82" cy="305.86" r="2.0" fill="#505050"/>
<circle cx="243.50" cy="309.79" r="2.0" fill="#505050"/>
<circle cx="247.38" cy="309.79" r="2.0" fill="#505050"/>
<circle cx="251.26" cy="309.79" r="2.0" fill="#505050"/>
<circle cx="378.40" cy="297.40" r="2.0" fill="#cdcdcd"/>
<circle cx="382.28" cy="297.40" r="2.0" fill="#cdcdcd"/>
<circle cx="386.16" cy="297.40" r="2.0" fill="#cdcdcd"/>
<circle cx="390.04" cy="297.40" r="2.0" fill="#cdcdcd"/>
<circle cx="393.92" cy="297.40" r="2.0" fill="#cdcdcd"/>
<circle cx="397.80" cy="297.40" r="2.0" fill="#cdcdcd"/>
<circle cx="401.68" cy="297.40" r="2.0" fill="#cdcdcd"/>
<circle cx="405.56" cy="297.40" r="2.0" fill="#cdcdcd"/>
<circle cx="409.44" cy="297.40" r="2.0" fill="#cdcdcd"/>
<circle cx="413.32" cy="297.40" r="2.0" fill="#cdcdcd"/>
<circle cx="417.20" cy="297.40" r="2.0" fill="#cdcdcd"/>
<circle cx="421.08" cy="297.40" r="2.0" fill="#cdcdcd"/>
<circle cx="424.96" cy="297.40" r="2.0" fill="#cdcdcd"/>
<circle cx="428.84" cy="297.40" r="2.0" fill="#cdcdcd"/>
<circle cx="432.72" cy="297.40" r="2.0" fill="#cdcdcd"/>
<circle cx="378.40" cy="301.33" r="2.0" fill="#cdcdcd"/>
<circle cx="382.28" cy="301.33" r="2.0" fill="#cdcdcd"/>
<circle cx="386.16" cy="301.33" r="2.0" fill="#cdcdcd"/>
<circle cx="390.04" cy="301.33" r="2.0" fill="#cdcdcd"/>
<circle cx="393.92" cy="301.33" r="2.0" fill="#cdcdcd"/>
<circle cx="397.80" cy="301.33" r="2.0" fill="#cdcdcd"/>
<circle cx="401.68" cy="301.33" r="2.0" fill="#cdcdcd"/>
<circle cx="405.56" cy="301.33" r="2.0" fill="#cdcdcd"/>
<circle cx="409.44" cy="301.33" r="2.0" fill="#cdcdcd"/>
<circle cx="413.32" cy="301.33" r="2.0" fill="#cdcdcd"/>
<circle cx="417.20" cy="301.33" r="2.0" fill="#cdcdcd"/>
<circle cx="421.08" cy="301.33" r="2.0" fill="#cdcdcd"/>
<circle cx="424.96" cy="301.33" r="2.0" fill="#cdcdcd"/>
<circle cx="428.84" cy="301.33" r="2.0" fill="#cdcdcd"/>
<circle cx="432.72" cy="301.33" r="2.0" fill="#cdcdcd"/>
<circle cx="378.40" cy="305.26" r="2.0" fill="#cdcdcd"/>
<circle cx="382.28" cy="305.26" r="2.0" fill="#cdcdcd"/>
<circle cx="386.16" cy="305.26" r="2.0" fill="#cdcdcd"/>
<circle cx="390.04" cy="305.26" r="2.0" fill="#cdcdcd"/>
<circle cx="393.92" cy="305.26" r="2.0" fill="#cdcdcd"/>
<circle cx="397.80" cy="305.26" r="2.0" fill="#cdcdcd"/>
<circle cx="401.68" cy="305.26" r="2.0" fill="#cdcdcd"/>
<circle cx="405.56" cy="305.26" r="2.0" fill="#cdcdcd"/>
<circle cx="409.44" cy="305.26" r="2.0" fill="#cdcdcd"/>
<circle cx="413.32" cy="305.26" r="2.0" fill="#cdcdcd"/>
<circle cx="417.20" cy="305.26" r="2.0" fill="#cdcdcd"/>
<circle cx="421.08" cy="305.26" r="2.0" fill="#cdcdcd"/>
<circle cx="424.96" cy="305.26" r="2.0" fill="#cdcdcd"/>
<circle cx="428.84" cy="305.26" r="2.0" fill="#cdcdcd"/>
<circle cx="432.72" cy="305.26" r="2.0" fill="#cdcdcd"/>
<circle cx="378.40" cy="309.19" r="2.0" fill="#cdcdcd"/>
<circle cx="382.28" cy="309.19" r="2.0" fill="#cdcdcd"/>
<circle cx="386.16" cy="309.19" r="2.0" fill="#cdcdcd"/>
<circle cx="390.04" cy="309.19" r="2.0" fill="#cdcdcd"/>
<circle cx="393.92" cy="309.19" r="2.0" fill="#cdcdcd"/>
<circle cx="397.80" cy="309.19" r="2.0" fill="#cdcdcd"/>
<circle cx="401.68" cy="309.19" r="2.0" fill="#cdcdcd"/>
<circle cx="405.56" cy="309.19" r="2.0" fill="#cdcdcd"/>
<circle cx="409.44" cy="309.19" r="2.0" fill="#cdcdcd"/>
<circle cx="413.32" cy="309.19" r="2.0" fill="#cdcdcd"/>
<circle cx="417.20" cy="309.19" r="2.0" fill="#cdcdcd"/>
<circle cx="421.08" cy="309.19" r="2.0" fill="#cdcdcd"/>
<circle cx="424.96" cy="309.19" r="2.0" fill="#cdcdcd"/>
<circle cx="428.84" cy="309.19" r="2.0" fill="#cdcdcd"/>
<circle cx="432.72" cy="309.19" r="2.0" fill="#cdcdcd"/>
<circle cx="378.40" cy="313.12" r="2.0" fill="#cdcdcd"/>
<circle cx="382.28" cy="313.12" r="2.0" fill="#cdcdcd"/>
<circle cx="386.16" cy="313.12" r="2.0" fill="#cdcdcd"/>
<circle cx="390.04" cy="313.12" r="2.0" fill="#cdcdcd"/>
<circle cx="393.92" cy="313.12" r="2.0" fill="#cdcdcd"/>
<circle cx="397.80" cy="313.12" r="2.0" fill="#cdcdcd"/>
<circle cx="401.68" cy="313.12" r="2.0" fill="#cdcdcd"/>
<circle cx="405.56" cy="313.12" r="2.0" fill="#cdcdcd"/>
<circle cx="409.44" cy="313.12" r="2.0" fill="#cdcdcd"/>
<circle cx="413.32" cy="313.12" r="2.0" fill="#cdcdcd"/>
<circle cx="417.20" cy="313.12" r="2.0" fill="#cdcdcd"/>
<circle cx="421.08" cy="313.12" r="2.0" fill="#cdcdcd"/>
<circle cx="424.96" cy="313.12" r="2.0" fill="#cdcdcd"/>
<circle cx="428.84" cy="313.12" r="2.0" fill="#cdcdcd"/>
<circle cx="432.72" cy="313.12" r="2.0" fill="#cdcdcd"/>
<circle cx="378.40" cy="317.05" r="2.0" fill="#cdcdcd"/>
<circle cx="382.28" cy="317.05" r="2.0" fill="#cdcdcd"/>
<circle cx="386.16" cy="317.05" r="2.0" fill="#cdcdcd"/>
<circle cx="390.04" cy="317.05" r="2.0" fill="#cdcdcd"/>
<circle cx="393.92" cy="317.05" r="2.0" fill="#cdcdcd"/>
<circle cx="397.80" cy="317.05" r="2.0" fill="#cdcdcd"/>
<circle cx="401.68" cy="317.05" r="2.0" fill="#cdcdcd"/>
<circle cx="405.56" cy="317.05" r="2.0" fill="#cdcdcd"/>
<circle cx="409.44" cy="317.05" r="2.0" fill="#cdcdcd"/>
<circle cx="413.32" cy="317.05" r="2.0" fill="#cdcdcd"/>
<circle cx="417.20" cy="317.05" r="2.0" fill="#cdcdcd"/>
<circle cx="421.08" cy="317.05" r="2.0" fill="#cdcdcd"/>
<circle cx="424.96" cy="317.05" r="2.0" fill="#cdcdcd"/>
<circle cx="428.84" cy="317.05" r="2.0" fill="#cdcdcd"/>
<circle cx="432.72" cy="317.05" r="2.0" fill="#cdcdcd"/>
<circle cx="378.40" cy="320.98" r="2.0" fill="#cdcdcd"/>
<circle cx="382.28" cy="320.98" r="2.0" fill="#cdcdcd"/>
<circle cx="386.16" cy="320.98" r="2.0" fill="#cdcdcd"/>
<circle cx="390.04" cy="320.98" r="2.0" fill="#cdcdcd"/>
<circle cx="393.92" cy="320.98" r="2.0" fill="#cdcdcd"/>
<circle cx="397.80" cy="320.98" r="2.0" fill="#cb832e"/>
<circle cx="401.68" cy="320.98" r="2.0" fill="#cb832e"/>
<circle cx="405.56" cy="320.98" r="2.0" fill="#cb832e"/>
<circle cx="409.44" cy="320.98" r="2.0" fill="#cb832e"/>
<circle cx="413.32" cy="320.98" r="2.0" fill="#cb832e"/>
<circle cx="417.20" cy="320.98" r="2.0" fill="#cb832e"/>
<circle cx="421.08" cy="320.98" r="2.0" fill="#cb832e"/>
<circle cx="424.96" cy="320.98" r="2.0" fill="#cb832e"/>
<circle cx="428.84" cy="320.98" r="2.0" fill="#cb832e"/>
<circle cx="432.72" cy="320.98" r="2.0" fill="#cb832e"/>
<circle cx="378.40" cy="324.91" r="2.0" fill="#cb832e"/>
<circle cx="382.28" cy="324.91" r="2.0" fill="#cb832e"/>
<circle cx="386.16" cy="324.91" r="2.0" fill="#cb832e"/>
<circle cx="390.04" cy="324.91" r="2.0" fill="#cb832e"/>
<circle cx="393.92" cy="324.91" r="2.0" fill="#cb832e"/>
<circle cx="397.80" cy="324.91" r="2.0" fill="#cb832e"/>
<circle cx="401.68" cy="324.91" r="2.0" fill="#cb832e"/>
<circle cx="405.56" cy="324.91" r="2.0" fill="#cb832e"/>
<circle cx="409.44" cy="324.91" r="2.0" fill="#cb832e"/>
<circle cx="413.32" cy="324.91" r="2.0" fill="#cb832e"/>
<circle cx="417.20" cy="324.91" r="2.0" fill="#cb832e"/>
<circle cx="421.08" cy="324.91" r="2.0" fill="#cb832e"/>
<circle cx="424.96" cy="324.91" r="2.0" fill="#cb832e"/>
<circle cx="428.84" cy="324.91" r="2.0" fill="#cb832e"/>
<circle cx="432.72" cy="324.91" r="2.0" fill="#cb832e"/>
<circle cx="378.40" cy="328.84" r="2.0" fill="#cb832e"/>
<circle cx="382.28" cy="328.84" r="2.0" fill="#cb832e"/>
<circle cx="386.16" cy="328.84" r="2.0" fill="#cb832e"/>
<circle cx="390.04" cy="328.84" r="2.0" fill="#cb832e"/>
<circle cx="393.92" cy="328.84" r="2.0" fill="#cb832e"/>
<circle cx="397.80" cy="328.84" r="2.0" fill="#cb832e"/>
<circle cx="401.68" cy="328.84" r="2.0" fill="#cb832e"/>
<circle cx="405.56" cy="328.84" r="2.0" fill="#cb832e"/>
<circle cx="409.44" cy="328.84" r="2.0" fill="#cb832e"/>
<circle cx="413.32" cy="328.84" r="2.0" fill="#cb832e"/>
<circle cx="417.20" cy="328.84" r="2.0" fill="#cb832e"/>
<circle cx="421.08" cy="328.84" r="2.0" fill="#cb832e"/>
<circle cx="424.96" cy="328.84" r="2.0" fill="#cb832e"/>
<circle cx="428.84" cy="328.84" r="2.0" fill="#cb832e"/>
<circle cx="432.72" cy="328.84" r="2.0" fill="#cb832e"/>
<circle cx="378.40" cy="332.77" r="2.0" fill="#cb832e"/>
<circle cx="382.28" cy="332.77" r="2.0" fill="#cb832e"/>
<circle cx="386.16" cy="332.77" r="2.0" fill="#cb832e"/>
<circle cx="390.04" cy="332.77" r="2.0" fill="#cb832e"/>
<circle cx="393.92" cy="332.77" r="2.0" fill="#cb832e"/>
<circle cx="397.80" cy="332.77" r="2.0" fill="#cb832e"/>
<circle cx="401.68" cy="332.77" r="2.0" fill="#cb832e"/>
<circle cx="405.56" cy="332.77" r="2.0" fill="#cb832e"/>
<circle cx="409.44" cy="332.77" r="2.0" fill="#cb832e"/>
<circle cx="413.32" cy="332.77" r="2.0" fill="#cb832e"/>
<circle cx="417.20" cy="332.77" r="2.0" fill="#cb832e"/>
<circle cx="421.08" cy="332.77" r="2.0" fill="#cb832e"/>
<circle cx="424.96" cy="332.77" r="2.0" fill="#cb832e"/>
<circle cx="428.84" cy="332.77" r="2.0" fill="#cb832e"/>
<circle cx="432.72" cy="332.77" r="2.0" fill="#cb832e"/>
<circle cx="378.40" cy="336.70" r="2.0" fill="#cb832e"/>
<circle cx="382.28" cy="336.70" r="2.0" fill="#cb832e"/>
<circle cx="386.16" cy="336.70" r="2.0" fill="#cb832e"/>
<circle cx="390.04" cy="336.70" r="2.0" fill="#cb832e"/>
<circle cx="393.92" cy="336.70" r="2.0" fill="#cb832e"/>
<circle cx="397.80" cy="336.70" r="2.0" fill="#cb832e"/>
<circle cx="401.68" cy="336.70" r="2.0" fill="#cb832e"/>
<circle cx="405.56" cy="336.70" r="2.0" fill="#cb832e"/>
<circle cx="409.44" cy="336.70" r="2.0" fill="#cb832e"/>
<circle cx="413.32" cy="336.70" r="2.0" fill="#cb832e"/>
<circle cx="417.20" cy="336.70" r="2.0" fill="#cb832e"/>
<circle cx="421.08" cy="336.70" r="2.0" fill="#cb832e"/>
<circle cx="424.96" cy="336.70" r="2.0" fill="#cb832e"/>
<circle cx="428.84" cy="336.70" r="2.0" fill="#cb832e"/>
<circle cx="432.72" cy="336.70" r="2.0" fill="#cb832e"/>
<circle cx="378.40" cy="340.63" r="2.0" fill="#cb832e"/>
<circle cx="382.28" cy="340.63" r="2.0" fill="#cb832e"/>
<circle cx="386.16" cy="340.63" r="2.0" fill="#cb832e"/>
<circle cx="390.04" cy="340.63" r="2.0" fill="#cb832e"/>
<circle cx="393.92" cy="340.63" r="2.0" fill="#cb832e"/>
<circle cx="397.80" cy="340.63" r="2.0" fill="#cb832e"/>
<circle cx="401.68" cy="340.63" r="2.0" fill="#cb832e"/>
<circle cx="462.50" cy="298.00" r="2.0" fill="#f3d3a5"/>
<circle cx="466.38" cy="298.00" r="2.0" fill="#f3d3a5"/>
<circle cx="470.26" cy="298.00" r="2.0" fill="#f3d3a5"/>
<circle cx="474.14" cy="298.00" r="2.0" fill="#f3d3a5"/>
<circle cx="478.02" cy="298.00" r="2.0" fill="#505050"/>
<circle cx="481.90" cy="298.00" r="2.0" fill="#505050"/>
<circle cx="485.78" cy="298.00" r="2.0" fill="#505050"/>
<circle cx="489.66" cy="298.00" r="2.0" fill="#505050"/>
<circle cx="493.54" cy="298.00" r="2.0" fill="#505050"/>
<circle cx="497.42" cy="298.00" r="2.0" fill="#505050"/>
<circle cx="501.30" cy="298.00" r="2.0" fill="#505050"/>
<circle cx="505.18" cy="298.00" r="2.0" fill="#505050"/>
<circle cx="509.06" cy="298.00" r="2.0" fill="#505050"/>
<circle cx="512.94" cy="298.00" r="2.0" fill="#505050"/>
<circle cx="516.82" cy="298.00" r="2.0" fill="#505050"/>
<circle cx="462.50" cy="301.93" r="2.0" fill="#505050"/>
<circle cx="466.38" cy="301.93" r="2.0" fill="#505050"/>
<circle cx="470.26" cy="301.93" r="2.0" fill="#505050"/>
<circle cx="474.14" cy="301.93" r="2.0" fill="#505050"/>
<circle cx="478.02" cy="301.93" r="2.0" fill="#505050"/>
<circle cx="481.90" cy="301.93" r="2.0" fill="#505050"/>
<circle cx="485.78" cy="301.93" r="2.0" fill="#505050"/>
<circle cx="489.66" cy="301.93" r="2.0" fill="#505050"/>
<circle cx="493.54" cy="301.93" r="2.0" fill="#505050"/>
<circle cx="497.42" cy="301.93" r="2.0" fill="#505050"/>
<circle cx="501.30" cy="301.93" r="2.0" fill="#505050"/>
<text x="157.3" y="365.4" font-size="6.9" fill="#9a9a9a" textLength="68.6" lengthAdjust="spacingAndGlyphs"><tspan font-weight="bold" fill="#333">True Positive Rate</tspan> 92%</text>
<text x="157.3" y="374.1" font-size="6.8" fill="#c2c2c2" textLength="58.7" lengthAdjust="spacingAndGlyphs">percentage of paying</text>
<text x="157.3" y="382.5" font-size="6.8" fill="#c2c2c2" textLength="71.7" lengthAdjust="spacingAndGlyphs">applications getting loans</text>
<text x="239.7" y="365.4" font-size="6.9" fill="#9a9a9a" textLength="52.8" lengthAdjust="spacingAndGlyphs"><tspan font-weight="bold" fill="#333">Positive Rate</tspan> 66%</text>
<text x="241.9" y="374.1" font-size="6.8" fill="#c2c2c2" textLength="46.5" lengthAdjust="spacingAndGlyphs">percentage of all</text>
<text x="241.9" y="382.5" font-size="6.8" fill="#c2c2c2" textLength="71.7" lengthAdjust="spacingAndGlyphs">applications getting loans</text>
<text x="376.0" y="365.4" font-size="6.9" fill="#9a9a9a" textLength="68.6" lengthAdjust="spacingAndGlyphs"><tspan font-weight="bold" fill="#333">True Positive Rate</tspan> 78%</text>
<text x="376.0" y="374.1" font-size="6.8" fill="#c2c2c2" textLength="58.7" lengthAdjust="spacingAndGlyphs">percentage of paying</text>
<text x="376.0" y="382.5" font-size="6.8" fill="#c2c2c2" textLength="71.7" lengthAdjust="spacingAndGlyphs">applications getting loans</text>
<text x="458.7" y="365.4" font-size="6.9" fill="#9a9a9a" textLength="52.8" lengthAdjust="spacingAndGlyphs"><tspan font-weight="bold" fill="#333">Positive Rate</tspan> 41%</text>
<text x="460.9" y="374.1" font-size="6.8" fill="#c2c2c2" textLength="46.5" lengthAdjust="spacingAndGlyphs">percentage of all</text>
<text x="460.9" y="382.5" font-size="6.8" fill="#c2c2c2" textLength="71.7" lengthAdjust="spacingAndGlyphs">applications getting loans</text>
<path d="M181.50,412.00L181.50,389.80A22.2,22.2 0 0 1 192.19,392.55Z" fill="#686868"/>
<path d="M181.50,412.00L192.19,392.55A22.2,22.2 0 1 1 181.50,389.80Z" fill="#143496"/>
<path d="M264.20,412.00L264.20,389.80A22.2,22.2 0 0 1 268.82,390.29Z" fill="#686868"/>
<path d="M264.20,412.00L268.82,390.29A22.2,22.2 0 0 1 283.23,423.43Z" fill="#cfcfcf"/>
<path d="M264.20,412.00L283.23,423.43A22.2,22.2 0 0 1 242.86,405.88Z" fill="#143496"/>
<path d="M264.20,412.00L242.86,405.88A22.2,22.2 0 0 1 264.20,389.80Z" fill="#96a5d0"/>
<path d="M401.00,412.00L401.00,389.80A22.2,22.2 0 0 1 422.93,408.53Z" fill="#686868"/>
<path d="M401.00,412.00L422.93,408.53A22.2,22.2 0 1 1 401.00,389.80Z" fill="#cb832e"/>
<path d="M483.70,412.00L483.70,389.80A22.2,22.2 0 0 1 497.97,394.99Z" fill="#686868"/>
<path d="M483.70,412.00L497.97,394.99A22.2,22.2 0 0 1 471.74,430.70Z" fill="#cfcfcf"/>
<path d="M483.70,412.00L471.74,430.70A22.2,22.2 0 0 1 481.88,389.87Z" fill="#cb832e"/>
<path d="M483.70,412.00L481.88,389.87A22.2,22.2 0 0 1 483.70,389.80Z" fill="#f3d3a5"/>
<text x="156.9" y="446.7" font-size="8" fill="#4a4a4a" textLength="36.0" lengthAdjust="spacingAndGlyphs">Profit: <tspan font-weight="bold" fill="#e0472e">-700</tspan></text>
<text x="376.0" y="446.7" font-size="8" fill="#4a4a4a" textLength="42.0" lengthAdjust="spacingAndGlyphs">Profit: <tspan font-weight="bold" fill="#333">20300</tspan></text>
</g>
<text x="9.0" y="485.9" font-size="17.6" fill="#1a1a1a" textLength="511.0" lengthAdjust="spacingAndGlyphs">https://research.google.com/bigpicture/attacking-discrimination-in-ml/</text>
<text x="625.5" y="486.7" font-size="16.6" fill="#1a1a1a" textLength="121.5" lengthAdjust="spacingAndGlyphs">Ahn &amp; Lin (2019).</text>
<g filter="url(#bR)">
<defs><pattern id="cg" width="1.55" height="1.55" patternUnits="userSpaceOnUse"><rect width="1.55" height="1.55" fill="#ececec"/><rect width="1.15" height="1.15" fill="#cbcbcb"/></pattern><pattern id="cr" width="1.55" height="1.55" patternUnits="userSpaceOnUse"><rect width="1.55" height="1.55" fill="#e57373"/><rect width="1.15" height="1.15" fill="#d32f2f"/></pattern><filter id="bl" x="-5%" y="-5%" width="110%" height="110%"><feGaussianBlur stdDeviation="0.28"/></filter></defs>
<rect x="610.00" y="5.20" width="309.00" height="0.90" fill="#ececec"/>
<path d="M610.5,251.5V10.8H1097.5V250" fill="none" stroke="#f0f0f0" stroke-width="0.8"/>
<rect x="614.4" y="14.8" width="57.8" height="15.4" fill="#f6f6f6" stroke="#ebebeb" stroke-width="0.6"/>
<path d="M672.2,30.2V14.8H724.4V29.6H1094" fill="#fff" stroke="#ebebeb" stroke-width="0.6"/>
<text x="620.7" y="24.4" font-size="5.6" fill="#555" textLength="44.9" lengthAdjust="spacingAndGlyphs">Individual Fairness</text>
<text x="679.8" y="24.4" font-size="5.6" fill="#3d8fd6" textLength="37.7" lengthAdjust="spacingAndGlyphs">Group Fairness</text>
<rect x="614.40" y="36.40" width="326.00" height="13.20" fill="#163364"/>
<rect x="951.00" y="36.40" width="143.00" height="13.30" fill="#163364"/>
<rect x="608.80" y="41.50" width="1.20" height="5.00" fill="#b9cbe6"/>
<text x="618.2" y="45.4" font-size="5.6" fill="#eef1f6" font-weight="bold" textLength="51.3" lengthAdjust="spacingAndGlyphs">GLOBAL INSPECTOR</text>
<text x="955.1" y="45.6" font-size="5.6" fill="#eef1f6" font-weight="bold" textLength="48.0" lengthAdjust="spacingAndGlyphs">LOCAL INSPECTOR</text>
<circle cx="939.5" cy="44.1" r="9.2" fill="#f5f5f5" stroke="#1d3b66" stroke-width="2"/>
<text x="939.3" y="49.1" font-size="14" fill="#000" font-weight="bold" text-anchor="middle" textLength="8.2" lengthAdjust="spacingAndGlyphs">d</text>
<rect x="732.2" y="94.5" width="147" height="154.2" fill="none" stroke="#f1f1f1" stroke-width="0.8"/>
<rect x="882.5" y="94.5" width="63" height="154" fill="none" stroke="#f1f1f1" stroke-width="0.8"/>
<text x="650.2" y="60.6" font-size="5.8" fill="#34466e" font-weight="bold" textLength="34.6" lengthAdjust="spacingAndGlyphs">INPUT SPACE</text>
<rect x="650.20" y="62.80" width="34.60" height="0.90" fill="#8a8a8a"/>
<text x="795.3" y="60.6" font-size="5.8" fill="#34466e" font-weight="bold" textLength="24.4" lengthAdjust="spacingAndGlyphs">MAPPING</text>
<rect x="795.30" y="62.80" width="24.40" height="0.90" fill="#8a8a8a"/>
<text x="900.2" y="60.6" font-size="5.8" fill="#34466e" font-weight="bold" textLength="40.4" lengthAdjust="spacingAndGlyphs">OUTPUT SPACE</text>
<rect x="900.20" y="62.80" width="40.40" height="0.90" fill="#8a8a8a"/>
<text x="645.2" y="72.2" font-size="5.8" fill="#666" textLength="35.2" lengthAdjust="spacingAndGlyphs">Input Distance</text>
<text x="786.5" y="72.2" font-size="5.8" fill="#666" textLength="29.5" lengthAdjust="spacingAndGlyphs">Group Skew</text>
<text x="900.0" y="72.2" font-size="5.8" fill="#666" textLength="19.9" lengthAdjust="spacingAndGlyphs">Fairness</text>
<circle cx="685.4" cy="70" r="2.9" fill="#e4f0fb" stroke="#8cbbe6" stroke-width="0.7"/>
<text x="685.4" y="71.3" font-size="3.6" fill="#7fb3e3" text-anchor="middle">?</text>
<circle cx="729.1" cy="70.4" r="2.9" fill="#e4f0fb" stroke="#8cbbe6" stroke-width="0.7"/>
<text x="729.1" y="71.7" font-size="3.6" fill="#7fb3e3" text-anchor="middle">?</text>
<circle cx="885.6" cy="70.7" r="2.9" fill="#e4f0fb" stroke="#8cbbe6" stroke-width="0.7"/>
<text x="885.6" y="72.0" font-size="3.6" fill="#7fb3e3" text-anchor="middle">?</text>
<rect x="647.70" y="78.60" width="22.60" height="4.30" fill="#ececec" stroke="#dcdcdc" stroke-width="0.4"/>
<rect x="650.15" y="76.80" width="0.70" height="7.00" fill="#222"/>
<path d="M649.2,85L651.8,85L650.5,82.8Z" fill="#111"/>
<rect x="670.20" y="77.40" width="0.80" height="6.00" fill="#c2185b"/>
<circle cx="670.60" cy="77.20" r="1.05" fill="#c2185b"/>
<text x="672.8" y="83.6" font-size="6.8" fill="#1e1e1e" textLength="12.6" lengthAdjust="spacingAndGlyphs">0.12</text>
<text x="649.2" y="87.2" font-size="3.4" fill="#999" text-anchor="middle">0.0</text>
<text x="670.3" y="87.2" font-size="3.4" fill="#999" text-anchor="middle">1.0</text>
<rect x="789.00" y="78.60" width="23.80" height="4.30" fill="#ececec" stroke="#dcdcdc" stroke-width="0.4"/>
<rect x="800.85" y="76.80" width="0.70" height="7.00" fill="#222"/>
<path d="M799.9000000000001,85L802.5,85L801.2,82.8Z" fill="#111"/>
<rect x="800.80" y="77.40" width="0.80" height="6.00" fill="#2b4f86"/>
<circle cx="801.20" cy="77.20" r="1.05" fill="#2b4f86"/>
<text x="814.7" y="83.6" font-size="6.8" fill="#1e1e1e" textLength="12.6" lengthAdjust="spacingAndGlyphs">1.03</text>
<text x="790.5" y="87.2" font-size="3.4" fill="#999" text-anchor="middle">0.5</text>
<text x="812.8" y="87.2" font-size="3.4" fill="#999" text-anchor="middle">1.5</text>
<rect x="902.30" y="78.60" width="23.10" height="4.30" fill="#ececec" stroke="#dcdcdc" stroke-width="0.4"/>
<rect x="910.45" y="76.80" width="0.70" height="7.00" fill="#222"/>
<path d="M909.5,85L912.0999999999999,85L910.8,82.8Z" fill="#111"/>
<rect x="914.00" y="77.40" width="0.80" height="6.00" fill="#2b4f86"/>
<circle cx="914.40" cy="77.20" r="1.05" fill="#2b4f86"/>
<text x="928.0" y="83.6" font-size="6.8" fill="#1e1e1e" textLength="12.0" lengthAdjust="spacingAndGlyphs">0.68</text>
<text x="903.8" y="87.2" font-size="3.4" fill="#999" text-anchor="middle">0.0</text>
<text x="925.4" y="87.2" font-size="3.4" fill="#999" text-anchor="middle">2.0</text>
<rect x="616" y="94.4" width="106.5" height="102" fill="none" stroke="#ececec" stroke-width="0.6" stroke-dasharray="1,0.6"/>
<circle cx="664.90" cy="113.30" r="2.25" fill="#e07b5f" opacity="0.9"/>
<circle cx="664.90" cy="121.00" r="2.25" fill="#e07b5f" opacity="0.9"/>
<circle cx="658.20" cy="128.10" r="2.25" fill="#e07b5f" opacity="0.9"/>
<circle cx="650.50" cy="138.30" r="2.25" fill="#e07b5f" opacity="0.9"/>
<circle cx="648.70" cy="148.10" r="2.25" fill="#e07b5f" opacity="0.9"/>
<circle cx="624.50" cy="155.40" r="2.25" fill="#e07b5f" opacity="0.9"/>
<circle cx="635.60" cy="157.20" r="2.25" fill="#e07b5f" opacity="0.9"/>
<circle cx="639.80" cy="161.00" r="2.25" fill="#e07b5f" opacity="0.9"/>
<circle cx="646.50" cy="168.00" r="2.25" fill="#e07b5f" opacity="0.9"/>
<circle cx="647.80" cy="171.60" r="2.25" fill="#e07b5f" opacity="0.9"/>
<circle cx="636.00" cy="172.00" r="2.25" fill="#e07b5f" opacity="0.9"/>
<circle cx="697.00" cy="118.40" r="2.25" fill="#e07b5f" opacity="0.9"/>
<circle cx="706.60" cy="155.40" r="2.25" fill="#e07b5f" opacity="0.9"/>
<circle cx="702.10" cy="159.20" r="2.25" fill="#e07b5f" opacity="0.9"/>
<circle cx="713.60" cy="162.10" r="2.25" fill="#e07b5f" opacity="0.9"/>
<circle cx="696.40" cy="173.10" r="2.25" fill="#e07b5f" opacity="0.9"/>
<circle cx="650.90" cy="102.90" r="2.25" fill="#72da9c" opacity="0.9"/>
<circle cx="660.40" cy="114.80" r="2.25" fill="#72da9c" opacity="0.9"/>
<circle cx="663.80" cy="126.10" r="2.25" fill="#72da9c" opacity="0.9"/>
<circle cx="657.80" cy="128.80" r="2.25" fill="#72da9c" opacity="0.9"/>
<circle cx="654.90" cy="135.90" r="2.25" fill="#72da9c" opacity="0.9"/>
<circle cx="653.80" cy="141.40" r="2.25" fill="#72da9c" opacity="0.9"/>
<circle cx="652.70" cy="141.60" r="2.25" fill="#72da9c" opacity="0.9"/>
<circle cx="650.50" cy="151.00" r="2.25" fill="#72da9c" opacity="0.9"/>
<circle cx="651.60" cy="153.20" r="2.25" fill="#72da9c" opacity="0.9"/>
<circle cx="652.60" cy="154.20" r="2.25" fill="#72da9c" opacity="0.9"/>
<circle cx="647.10" cy="157.60" r="2.25" fill="#72da9c" opacity="0.9"/>
<circle cx="640.50" cy="156.50" r="2.25" fill="#72da9c" opacity="0.9"/>
<circle cx="648.20" cy="167.60" r="2.25" fill="#72da9c" opacity="0.9"/>
<circle cx="646.00" cy="170.90" r="2.25" fill="#72da9c" opacity="0.9"/>
<circle cx="653.80" cy="194.20" r="2.25" fill="#72da9c" opacity="0.9"/>
<circle cx="696.40" cy="112.60" r="2.25" fill="#72da9c" opacity="0.9"/>
<circle cx="706.30" cy="143.20" r="2.25" fill="#72da9c" opacity="0.9"/>
<circle cx="707.40" cy="148.10" r="2.25" fill="#72da9c" opacity="0.9"/>
<circle cx="708.20" cy="146.00" r="2.25" fill="#72da9c" opacity="0.9"/>
<circle cx="699.20" cy="161.00" r="2.25" fill="#72da9c" opacity="0.9"/>
<circle cx="713.20" cy="160.50" r="2.25" fill="#72da9c" opacity="0.9"/>
<circle cx="708.50" cy="168.00" r="2.25" fill="#72da9c" opacity="0.9"/>
<circle cx="640.60" cy="158.60" r="2.25" fill="#72da9c" opacity="0.9"/>
<circle cx="641.60" cy="180.90" r="2.25" fill="#3f8a63" opacity="0.85"/>
<circle cx="690.40" cy="121.50" r="2.25" fill="#3f8a63" opacity="0.85"/>
<circle cx="699.90" cy="119.90" r="2.25" fill="#3f8a63" opacity="0.85"/>
<circle cx="696.60" cy="173.60" r="2.25" fill="#3f8a63" opacity="0.85"/>
<circle cx="706.00" cy="143.60" r="2.25" fill="#3f8a63" opacity="0.85"/>
<rect x="616.30" y="199.60" width="104.50" height="51.10" fill="#f6f6f6"/>
<text x="618.4" y="208.2" font-size="5.6" fill="#555" textLength="25.0" lengthAdjust="spacingAndGlyphs">Individuals</text>
<circle cx="619.60" cy="213.60" r="1.8" fill="#6fd89a"/>
<text x="624.0" y="215.6" font-size="5.6" fill="#555" textLength="10.5" lengthAdjust="spacingAndGlyphs">Male</text>
<circle cx="619.60" cy="220.40" r="1.8" fill="#e07b5f"/>
<text x="624.0" y="222.4" font-size="5.6" fill="#555" textLength="15.0" lengthAdjust="spacingAndGlyphs">Female</text>
<text x="618.4" y="229.6" font-size="5.4" fill="#666" textLength="35.8" lengthAdjust="spacingAndGlyphs">Within-group pairs</text>
<text x="618.4" y="235.8" font-size="5.4" fill="#666" textLength="13.8" lengthAdjust="spacingAndGlyphs">low(0)</text>
<defs><linearGradient id="gp"><stop offset="0" stop-color="#fff"/><stop offset="1" stop-color="#c2185b"/></linearGradient><linearGradient id="gb"><stop offset="0" stop-color="#fff"/><stop offset="1" stop-color="#3949ab"/></linearGradient></defs>
<rect x="634.00" y="232.10" width="10.50" height="3.60" fill="url(#gp)" stroke="#aaa" stroke-width="0.3"/>
<text x="646.5" y="235.8" font-size="5.4" fill="#666" textLength="20.0" lengthAdjust="spacingAndGlyphs">high(0.7)</text>
<text x="618.4" y="241.9" font-size="5.4" fill="#666" textLength="39.0" lengthAdjust="spacingAndGlyphs">Between-group pairs</text>
<text x="618.4" y="248.3" font-size="5.4" fill="#666" textLength="13.8" lengthAdjust="spacingAndGlyphs">low(0)</text>
<rect x="634.00" y="244.60" width="10.50" height="3.60" fill="url(#gb)" stroke="#aaa" stroke-width="0.3"/>
<text x="646.5" y="248.3" font-size="5.4" fill="#666" textLength="20.0" lengthAdjust="spacingAndGlyphs">high(0.7)</text>
<rect x="832.5" y="101.3" width="36.3" height="9" fill="#fff" stroke="#cfcfcf" stroke-width="0.5" rx="0.8"/>
<text x="850.3" y="107.7" font-size="4.6" fill="#444" text-anchor="middle" textLength="19.0" lengthAdjust="spacingAndGlyphs">ranking ▾</text>
<rect x="750.00" y="115.40" width="1.53" height="9.10" fill="#7fdca2"/>
<rect x="751.88" y="115.40" width="1.53" height="9.10" fill="#e07c5c"/>
<rect x="753.76" y="113.98" width="1.53" height="10.52" fill="#e07c5c"/>
<rect x="755.64" y="115.40" width="1.53" height="9.10" fill="#7fdca2"/>
<rect x="757.52" y="115.40" width="1.53" height="9.10" fill="#7fdca2"/>
<rect x="759.40" y="115.99" width="1.53" height="8.51" fill="#e07c5c"/>
<rect x="761.28" y="115.40" width="1.53" height="9.10" fill="#7fdca2"/>
<rect x="763.16" y="115.40" width="1.53" height="9.10" fill="#7fdca2"/>
<rect x="765.04" y="116.18" width="1.53" height="8.32" fill="#e07c5c"/>
<rect x="766.92" y="115.40" width="1.53" height="9.10" fill="#e07c5c"/>
<rect x="768.80" y="115.72" width="1.53" height="8.78" fill="#7fdca2"/>
<rect x="770.68" y="115.40" width="1.53" height="9.10" fill="#7fdca2"/>
<rect x="772.56" y="115.40" width="1.53" height="9.10" fill="#7fdca2"/>
<rect x="774.44" y="116.02" width="1.53" height="8.48" fill="#e07c5c"/>
<rect x="776.32" y="115.46" width="1.53" height="9.04" fill="#e07c5c"/>
<rect x="778.20" y="115.40" width="1.53" height="9.10" fill="#7fdca2"/>
<rect x="780.09" y="115.40" width="1.53" height="9.10" fill="#e07c5c"/>
<rect x="781.97" y="115.40" width="1.53" height="9.10" fill="#e07c5c"/>
<rect x="783.85" y="115.40" width="1.53" height="9.10" fill="#e07c5c"/>
<rect x="785.73" y="115.40" width="1.53" height="9.10" fill="#e07c5c"/>
<rect x="787.61" y="116.13" width="1.53" height="8.37" fill="#7fdca2"/>
<rect x="789.49" y="115.55" width="1.53" height="8.95" fill="#7fdca2"/>
<rect x="791.37" y="115.40" width="1.53" height="9.10" fill="#e07c5c"/>
<rect x="793.25" y="115.40" width="1.53" height="9.10" fill="#7fdca2"/>
<rect x="795.13" y="115.40" width="1.53" height="9.10" fill="#7fdca2"/>
<rect x="797.01" y="115.43" width="1.53" height="9.07" fill="#7fdca2"/>
<rect x="798.89" y="115.96" width="1.53" height="8.54" fill="#7fdca2"/>
<rect x="800.77" y="115.40" width="1.53" height="9.10" fill="#7fdca2"/>
<rect x="802.65" y="115.54" width="1.53" height="8.96" fill="#7fdca2"/>
<rect x="804.53" y="115.58" width="1.53" height="8.92" fill="#e07c5c"/>
<rect x="806.41" y="115.40" width="1.53" height="9.10" fill="#7fdca2"/>
<rect x="808.29" y="116.13" width="1.53" height="8.37" fill="#e07c5c"/>
<rect x="810.17" y="115.62" width="1.53" height="8.88" fill="#7fdca2"/>
<rect x="812.05" y="115.54" width="1.53" height="8.96" fill="#e07c5c"/>
<rect x="813.93" y="115.40" width="1.53" height="9.10" fill="#7fdca2"/>
<rect x="815.81" y="115.40" width="1.53" height="9.10" fill="#7fdca2"/>
<rect x="817.69" y="115.40" width="1.53" height="9.10" fill="#e07c5c"/>
<rect x="819.57" y="115.40" width="1.53" height="9.10" fill="#e07c5c"/>
<rect x="821.45" y="113.93" width="1.53" height="10.57" fill="#e07c5c"/>
<rect x="823.33" y="115.40" width="1.53" height="9.10" fill="#e07c5c"/>
<rect x="825.21" y="113.90" width="1.53" height="10.60" fill="#7fdca2"/>
<rect x="827.09" y="115.40" width="1.53" height="9.10" fill="#7fdca2"/>
<rect x="828.97" y="115.40" width="1.53" height="9.10" fill="#7fdca2"/>
<rect x="830.85" y="113.90" width="1.53" height="10.60" fill="#7fdca2"/>
<rect x="832.73" y="115.40" width="1.53" height="9.10" fill="#e07c5c"/>
<rect x="834.61" y="115.40" width="1.53" height="9.10" fill="#7fdca2"/>
<rect x="836.50" y="115.40" width="1.53" height="9.10" fill="#e07c5c"/>
<rect x="838.38" y="115.40" width="1.53" height="9.10" fill="#7fdca2"/>
<rect x="840.26" y="115.40" width="1.53" height="9.10" fill="#e07c5c"/>
<rect x="842.14" y="115.40" width="1.53" height="9.10" fill="#e07c5c"/>
<rect x="844.02" y="115.40" width="1.53" height="9.10" fill="#7fdca2"/>
<rect x="845.90" y="115.40" width="1.53" height="9.10" fill="#7fdca2"/>
<rect x="847.78" y="115.40" width="1.53" height="9.10" fill="#e07c5c"/>
<rect x="849.66" y="115.40" width="1.53" height="9.10" fill="#7fdca2"/>
<rect x="851.54" y="115.40" width="1.53" height="9.10" fill="#e07c5c"/>
<rect x="853.42" y="115.40" width="1.53" height="9.10" fill="#7fdca2"/>
<rect x="855.30" y="115.40" width="1.53" height="9.10" fill="#7fdca2"/>
<rect x="857.18" y="115.40" width="1.53" height="9.10" fill="#e07c5c"/>
<rect x="859.06" y="115.40" width="1.53" height="9.10" fill="#e07c5c"/>
<rect x="860.94" y="113.90" width="1.53" height="10.60" fill="#7fdca2"/>
<rect x="862.82" y="115.40" width="1.53" height="9.10" fill="#7fdca2"/>
<rect x="750.00" y="126.00" width="114.70" height="116.70" fill="#fff"/>
<g transform="translate(750,126) scale(1.8803,1.9131)"><path fill="#adade5" d="M1 0h2v1h-2zM5 0h1v1h-1zM16 0h1v1h-1zM18 0h1v1h-1zM39 0h1v1h-1zM44 0h1v1h-1zM54 0h1v1h-1zM15 1h1v1h-1zM32 1h1v1h-1zM34 1h1v1h-1zM45 1h1v1h-1zM0 2h1v1h-1zM6 2h1v1h-1zM45 2h1v1h-1zM8 3h2v1h-2zM19 3h1v1h-1zM8 4h1v1h-1zM14 4h1v1h-1zM17 4h1v1h-1zM48 4h1v1h-1zM0 5h1v1h-1zM34 5h1v1h-1zM40 5h1v1h-1zM47 5h1v1h-1zM59 5h2v1h-2zM2 6h1v1h-1zM31 6h1v1h-1zM36 6h1v1h-1zM38 7h1v1h-1zM44 7h1v1h-1zM48 7h1v1h-1zM52 7h1v1h-1zM3 8h2v1h-2zM10 8h1v1h-1zM23 8h2v1h-2zM28 8h1v1h-1zM40 8h2v1h-2zM3 9h1v1h-1zM15 9h1v1h-1zM23 9h2v1h-2zM30 9h1v1h-1zM42 9h1v1h-1zM45 9h1v1h-1zM55 9h1v1h-1zM18 10h1v1h-1zM52 10h1v1h-1zM58 10h1v1h-1zM46 11h1v1h-1zM58 11h1v1h-1zM17 12h1v1h-1zM49 12h1v1h-1zM15 13h1v1h-1zM24 13h1v1h-1zM42 13h1v1h-1zM51 13h1v1h-1zM60 13h1v1h-1zM32 14h1v1h-1zM1 15h1v1h-1zM9 15h1v1h-1zM13 15h1v1h-1zM29 15h1v1h-1zM44 15h1v1h-1zM0 16h1v1h-1zM21 16h1v1h-1zM24 16h1v1h-1zM35 16h1v1h-1zM55 16h1v1h-1zM4 17h1v1h-1zM12 17h1v1h-1zM23 17h1v1h-1zM30 17h1v1h-1zM32 17h1v1h-1zM40 17h1v1h-1zM42 17h2v1h-2zM47 17h1v1h-1zM51 17h1v1h-1zM55 17h2v1h-2zM10 18h1v1h-1zM23 18h1v1h-1zM43 18h1v1h-1zM50 18h1v1h-1zM21 19h1v1h-1zM26 19h1v1h-1zM32 19h1v1h-1zM42 19h1v1h-1zM17 20h1v1h-1zM48 20h2v1h-2zM16 21h1v1h-1zM18 21h2v1h-2zM49 21h1v1h-1zM3 22h1v1h-1zM23 22h1v1h-1zM34 22h1v1h-1zM43 22h1v1h-1zM51 22h1v1h-1zM53 22h1v1h-1zM8 23h2v1h-2zM17 23h2v1h-2zM22 23h1v1h-1zM36 23h1v1h-1zM39 23h1v1h-1zM52 23h1v1h-1zM2 24h1v1h-1zM8 24h2v1h-2zM16 24h1v1h-1zM22 24h1v1h-1zM36 24h1v1h-1zM49 24h1v1h-1zM54 24h1v1h-1zM14 25h1v1h-1zM38 25h1v1h-1zM49 25h1v1h-1zM58 25h1v1h-1zM52 27h1v1h-1zM57 27h1v1h-1zM8 28h1v1h-1zM29 28h1v1h-1zM58 28h1v1h-1zM15 29h1v1h-1zM27 29h2v1h-2zM35 29h1v1h-1zM17 30h1v1h-1zM54 30h1v1h-1zM42 31h1v1h-1zM60 31h1v1h-1zM1 32h1v1h-1zM14 32h1v1h-1zM17 32h1v1h-1zM19 32h1v1h-1zM52 32h1v1h-1zM54 32h1v1h-1zM26 33h1v1h-1zM35 33h1v1h-1zM42 33h1v1h-1zM47 33h1v1h-1zM1 34h1v1h-1zM5 34h1v1h-1zM19 34h1v1h-1zM22 34h1v1h-1zM16 35h1v1h-1zM29 35h1v1h-1zM33 35h1v1h-1zM38 35h2v1h-2zM52 35h1v1h-1zM4 36h1v1h-1zM23 36h1v1h-1zM32 36h1v1h-1zM41 36h1v1h-1zM51 36h1v1h-1zM56 36h1v1h-1zM43 37h1v1h-1zM59 37h1v1h-1zM25 38h1v1h-1zM35 38h1v1h-1zM41 38h1v1h-1zM50 38h1v1h-1zM55 38h1v1h-1zM0 39h1v1h-1zM20 39h1v1h-1zM23 39h2v1h-2zM35 39h1v1h-1zM41 39h3v1h-3zM17 40h1v1h-1zM39 40h1v1h-1zM8 41h1v1h-1zM38 41h2v1h-2zM54 41h1v1h-1zM57 41h1v1h-1zM9 42h1v1h-1zM13 42h1v1h-1zM19 42h1v1h-1zM39 42h1v1h-1zM17 43h2v1h-2zM33 43h1v1h-1zM36 43h2v1h-2zM39 43h1v1h-1zM48 43h1v1h-1zM0 44h1v1h-1zM7 44h1v1h-1zM15 44h1v1h-1zM47 44h1v1h-1zM53 44h1v1h-1zM55 44h1v1h-1zM2 45h1v1h-1zM9 45h1v1h-1zM22 45h1v1h-1zM44 45h1v1h-1zM48 45h2v1h-2zM0 46h1v1h-1zM11 46h1v1h-1zM26 46h1v1h-1zM53 46h1v1h-1zM5 47h1v1h-1zM17 47h1v1h-1zM33 47h1v1h-1zM44 47h1v1h-1zM49 47h1v1h-1zM4 48h1v1h-1zM7 48h1v1h-1zM20 48h1v1h-1zM43 48h1v1h-1zM45 48h1v1h-1zM50 48h1v1h-1zM10 49h1v1h-1zM12 49h1v1h-1zM21 49h1v1h-1zM24 49h2v1h-2zM45 49h1v1h-1zM47 49h1v1h-1zM59 49h2v1h-2zM18 50h1v1h-1zM13 51h1v1h-1zM17 51h1v1h-1zM22 51h1v1h-1zM36 51h1v1h-1zM57 51h1v1h-1zM10 52h1v1h-1zM23 52h1v1h-1zM27 52h1v1h-1zM32 52h1v1h-1zM35 52h1v1h-1zM22 53h1v1h-1zM44 53h1v1h-1zM46 53h1v1h-1zM0 54h1v1h-1zM24 54h1v1h-1zM32 54h1v1h-1zM34 54h1v1h-1zM41 54h1v1h-1zM56 54h1v1h-1zM9 55h1v1h-1zM16 55h2v1h-2zM44 55h1v1h-1zM17 56h1v1h-1zM33 56h1v1h-1zM36 56h1v1h-1zM44 56h1v1h-1zM54 56h1v1h-1zM0 57h1v1h-1zM27 57h1v1h-1zM41 57h1v1h-1zM51 57h1v1h-1zM10 58h1v1h-1zM28 58h1v1h-1zM30 58h1v1h-1zM5 59h1v1h-1zM9 59h1v1h-1zM49 59h1v1h-1zM5 60h1v1h-1zM13 60h1v1h-1zM31 60h1v1h-1zM46 60h1v1h-1zM49 60h1v1h-1z"/><path fill="#d274ae" d="M3 0h1v1h-1zM11 0h1v1h-1zM27 0h1v1h-1zM40 0h1v1h-1zM42 0h2v1h-2zM59 0h1v1h-1zM7 1h1v1h-1zM9 1h1v1h-1zM11 1h1v1h-1zM17 1h3v1h-3zM39 1h1v1h-1zM52 1h1v1h-1zM58 1h1v1h-1zM27 2h1v1h-1zM31 2h1v1h-1zM35 2h1v1h-1zM44 2h1v1h-1zM54 2h1v1h-1zM0 3h1v1h-1zM51 3h1v1h-1zM56 3h1v1h-1zM59 3h1v1h-1zM9 4h2v1h-2zM15 4h1v1h-1zM50 4h1v1h-1zM55 4h2v1h-2zM60 4h1v1h-1zM13 5h1v1h-1zM16 5h1v1h-1zM41 5h1v1h-1zM49 5h1v1h-1zM12 6h1v1h-1zM30 6h1v1h-1zM40 6h1v1h-1zM47 6h1v1h-1zM1 7h1v1h-1zM11 7h2v1h-2zM51 7h1v1h-1zM53 7h1v1h-1zM59 7h2v1h-2zM13 8h1v1h-1zM18 8h1v1h-1zM22 8h1v1h-1zM26 8h1v1h-1zM36 8h1v1h-1zM38 8h2v1h-2zM1 9h1v1h-1zM31 9h1v1h-1zM36 9h1v1h-1zM57 9h1v1h-1zM4 10h1v1h-1zM11 10h1v1h-1zM22 10h1v1h-1zM24 10h1v1h-1zM26 10h1v1h-1zM41 10h1v1h-1zM0 11h1v1h-1zM7 11h1v1h-1zM10 11h1v1h-1zM18 11h1v1h-1zM25 11h1v1h-1zM32 11h1v1h-1zM45 11h1v1h-1zM6 12h2v1h-2zM20 12h1v1h-1zM30 12h1v1h-1zM32 12h1v1h-1zM50 12h1v1h-1zM5 13h1v1h-1zM8 13h1v1h-1zM29 13h1v1h-1zM46 13h1v1h-1zM50 13h1v1h-1zM56 13h2v1h-2zM16 14h1v1h-1zM24 14h1v1h-1zM44 14h1v1h-1zM4 15h1v1h-1zM21 15h1v1h-1zM24 15h1v1h-1zM32 15h1v1h-1zM35 15h1v1h-1zM47 15h1v1h-1zM59 15h1v1h-1zM5 16h1v1h-1zM14 16h1v1h-1zM22 16h1v1h-1zM37 16h1v1h-1zM52 16h1v1h-1zM54 16h1v1h-1zM1 17h1v1h-1zM18 17h1v1h-1zM33 17h1v1h-1zM1 18h1v1h-1zM8 18h1v1h-1zM15 18h1v1h-1zM17 18h1v1h-1zM20 18h1v1h-1zM29 18h1v1h-1zM31 18h1v1h-1zM39 18h1v1h-1zM46 18h1v1h-1zM1 19h1v1h-1zM2 20h1v1h-1zM12 20h1v1h-1zM51 20h1v1h-1zM15 21h1v1h-1zM30 21h1v1h-1zM34 21h1v1h-1zM42 21h1v1h-1zM8 22h1v1h-1zM16 22h1v1h-1zM26 22h1v1h-1zM2 23h1v1h-1zM40 23h2v1h-2zM44 23h1v1h-1zM10 24h1v1h-1zM15 24h1v1h-1zM42 24h1v1h-1zM47 24h1v1h-1zM56 24h1v1h-1zM59 24h1v1h-1zM8 25h1v1h-1zM11 25h1v1h-1zM26 25h2v1h-2zM30 25h1v1h-1zM35 25h1v1h-1zM42 25h1v1h-1zM45 25h1v1h-1zM59 25h1v1h-1zM10 26h1v1h-1zM17 26h1v1h-1zM22 26h1v1h-1zM25 26h1v1h-1zM28 26h1v1h-1zM34 26h1v1h-1zM0 27h1v1h-1zM25 27h1v1h-1zM35 27h1v1h-1zM43 27h1v1h-1zM26 28h1v1h-1zM32 28h1v1h-1zM57 28h1v1h-1zM13 29h1v1h-1zM18 29h1v1h-1zM43 29h1v1h-1zM6 30h1v1h-1zM12 30h1v1h-1zM21 30h1v1h-1zM25 30h1v1h-1zM32 30h1v1h-1zM34 30h1v1h-1zM39 30h1v1h-1zM44 30h1v1h-1zM50 30h1v1h-1zM2 31h2v1h-2zM9 31h1v1h-1zM12 31h1v1h-1zM18 31h1v1h-1zM36 31h1v1h-1zM43 31h1v1h-1zM49 31h1v1h-1zM11 32h2v1h-2zM15 32h1v1h-1zM28 32h1v1h-1zM30 32h1v1h-1zM38 32h1v1h-1zM47 32h1v1h-1zM56 32h1v1h-1zM59 32h1v1h-1zM0 33h1v1h-1zM17 33h1v1h-1zM32 33h1v1h-1zM54 33h1v1h-1zM21 34h1v1h-1zM26 34h1v1h-1zM30 34h1v1h-1zM49 34h2v1h-2zM52 34h1v1h-1zM14 35h2v1h-2zM25 35h1v1h-1zM27 35h1v1h-1zM47 35h1v1h-1zM60 35h1v1h-1zM8 36h2v1h-2zM31 36h1v1h-1zM46 36h1v1h-1zM49 36h1v1h-1zM52 36h1v1h-1zM58 36h1v1h-1zM16 37h1v1h-1zM32 37h1v1h-1zM48 37h2v1h-2zM54 37h1v1h-1zM8 38h1v1h-1zM39 38h1v1h-1zM48 38h1v1h-1zM58 38h1v1h-1zM1 39h1v1h-1zM8 39h1v1h-1zM18 39h1v1h-1zM38 39h1v1h-1zM44 39h1v1h-1zM48 39h1v1h-1zM0 40h1v1h-1zM6 40h1v1h-1zM23 40h1v1h-1zM50 40h1v1h-1zM10 41h1v1h-1zM23 41h1v1h-1zM47 41h1v1h-1zM0 42h1v1h-1zM21 42h1v1h-1zM24 42h2v1h-2zM47 42h1v1h-1zM50 42h1v1h-1zM60 42h1v1h-1zM0 43h1v1h-1zM8 43h1v1h-1zM27 43h1v1h-1zM55 43h1v1h-1zM2 44h1v1h-1zM4 44h1v1h-1zM14 44h1v1h-1zM23 44h1v1h-1zM39 44h1v1h-1zM11 45h1v1h-1zM25 45h1v1h-1zM56 45h1v1h-1zM13 46h1v1h-1zM18 46h1v1h-1zM36 46h1v1h-1zM6 47h1v1h-1zM9 47h1v1h-1zM15 47h1v1h-1zM24 47h1v1h-1zM32 47h1v1h-1zM35 47h1v1h-1zM41 47h2v1h-2zM54 47h1v1h-1zM28 48h1v1h-1zM37 48h3v1h-3zM59 48h1v1h-1zM5 49h1v1h-1zM31 49h1v1h-1zM34 49h1v1h-1zM36 49h2v1h-2zM4 50h2v1h-2zM12 50h1v1h-1zM30 50h1v1h-1zM34 50h1v1h-1zM40 50h1v1h-1zM42 50h1v1h-1zM56 50h1v1h-1zM3 51h1v1h-1zM7 51h1v1h-1zM20 51h1v1h-1zM59 51h1v1h-1zM1 52h1v1h-1zM16 52h1v1h-1zM36 52h1v1h-1zM7 53h1v1h-1zM29 53h1v1h-1zM59 53h1v1h-1zM2 54h2v1h-2zM11 54h1v1h-1zM16 54h1v1h-1zM20 54h1v1h-1zM33 54h1v1h-1zM37 54h1v1h-1zM4 55h2v1h-2zM14 55h1v1h-1zM43 55h1v1h-1zM54 55h1v1h-1zM3 56h2v1h-2zM13 56h1v1h-1zM24 56h1v1h-1zM32 56h1v1h-1zM39 56h1v1h-1zM45 56h1v1h-1zM50 56h1v1h-1zM9 57h1v1h-1zM13 57h1v1h-1zM1 58h1v1h-1zM36 58h1v1h-1zM38 58h1v1h-1zM0 59h1v1h-1zM3 59h1v1h-1zM7 59h1v1h-1zM15 59h1v1h-1zM24 59h2v1h-2zM32 59h1v1h-1zM51 59h1v1h-1zM53 59h1v1h-1zM4 60h1v1h-1zM7 60h1v1h-1zM35 60h1v1h-1zM42 60h1v1h-1z"/><path fill="#c4569c" d="M4 0h1v1h-1zM20 0h2v1h-2zM23 0h1v1h-1zM28 0h1v1h-1zM8 1h1v1h-1zM12 1h1v1h-1zM36 1h1v1h-1zM46 1h1v1h-1zM53 1h1v1h-1zM28 2h1v1h-1zM37 2h2v1h-2zM15 3h1v1h-1zM20 3h1v1h-1zM27 3h2v1h-2zM40 3h2v1h-2zM45 3h1v1h-1zM50 3h1v1h-1zM53 3h1v1h-1zM55 3h1v1h-1zM0 4h1v1h-1zM12 4h1v1h-1zM20 4h2v1h-2zM23 4h1v1h-1zM26 4h1v1h-1zM34 4h1v1h-1zM40 4h2v1h-2zM53 4h1v1h-1zM59 4h1v1h-1zM18 5h2v1h-2zM27 5h1v1h-1zM48 5h1v1h-1zM11 6h1v1h-1zM21 7h1v1h-1zM23 7h1v1h-1zM29 7h2v1h-2zM41 7h1v1h-1zM45 7h1v1h-1zM1 8h1v1h-1zM16 8h1v1h-1zM21 8h1v1h-1zM29 8h3v1h-3zM33 8h1v1h-1zM44 8h1v1h-1zM28 10h1v1h-1zM30 10h1v1h-1zM47 10h1v1h-1zM6 11h1v1h-1zM21 11h1v1h-1zM23 11h1v1h-1zM27 11h1v1h-1zM35 11h1v1h-1zM43 11h1v1h-1zM47 11h1v1h-1zM55 11h2v1h-2zM4 12h1v1h-1zM23 12h1v1h-1zM28 12h1v1h-1zM34 12h1v1h-1zM40 12h1v1h-1zM42 12h1v1h-1zM53 12h1v1h-1zM55 12h1v1h-1zM60 12h1v1h-1zM3 13h1v1h-1zM16 13h1v1h-1zM22 13h1v1h-1zM27 13h1v1h-1zM19 14h1v1h-1zM22 14h1v1h-1zM28 14h1v1h-1zM47 14h1v1h-1zM49 14h1v1h-1zM3 15h1v1h-1zM27 15h2v1h-2zM40 15h1v1h-1zM50 15h1v1h-1zM8 16h1v1h-1zM13 16h1v1h-1zM19 16h2v1h-2zM48 16h2v1h-2zM5 18h1v1h-1zM36 18h1v1h-1zM5 19h1v1h-1zM14 19h1v1h-1zM16 19h1v1h-1zM20 19h1v1h-1zM31 19h1v1h-1zM33 19h1v1h-1zM36 19h1v1h-1zM38 19h1v1h-1zM49 19h1v1h-1zM0 20h1v1h-1zM3 20h2v1h-2zM23 20h1v1h-1zM27 20h1v1h-1zM30 20h1v1h-1zM45 20h1v1h-1zM53 20h1v1h-1zM0 21h1v1h-1zM4 21h1v1h-1zM7 21h1v1h-1zM11 21h1v1h-1zM22 21h1v1h-1zM31 21h2v1h-2zM35 21h1v1h-1zM40 21h1v1h-1zM55 21h1v1h-1zM13 22h2v1h-2zM0 23h1v1h-1zM4 23h1v1h-1zM7 23h1v1h-1zM11 23h3v1h-3zM19 23h2v1h-2zM45 23h1v1h-1zM48 23h1v1h-1zM50 23h1v1h-1zM53 23h1v1h-1zM55 24h1v1h-1zM50 25h1v1h-1zM4 26h1v1h-1zM14 26h1v1h-1zM30 26h1v1h-1zM59 26h1v1h-1zM1 27h1v1h-1zM3 27h1v1h-1zM8 27h1v1h-1zM11 27h1v1h-1zM15 27h1v1h-1zM20 27h1v1h-1zM28 27h1v1h-1zM39 27h2v1h-2zM42 27h1v1h-1zM50 27h1v1h-1zM55 27h1v1h-1zM59 27h2v1h-2zM0 28h1v1h-1zM3 28h1v1h-1zM10 28h1v1h-1zM12 28h1v1h-1zM15 28h1v1h-1zM27 28h1v1h-1zM30 28h1v1h-1zM35 28h1v1h-1zM41 28h1v1h-1zM45 28h1v1h-1zM51 28h1v1h-1zM55 28h1v1h-1zM59 28h1v1h-1zM8 29h1v1h-1zM39 29h1v1h-1zM54 29h1v1h-1zM58 29h1v1h-1zM7 30h1v1h-1zM10 30h1v1h-1zM18 30h3v1h-3zM26 30h1v1h-1zM28 30h1v1h-1zM35 30h1v1h-1zM41 30h2v1h-2zM55 30h2v1h-2zM59 30h2v1h-2zM8 31h1v1h-1zM19 31h1v1h-1zM38 31h1v1h-1zM55 31h1v1h-1zM21 32h1v1h-1zM40 32h2v1h-2zM8 33h1v1h-1zM19 33h1v1h-1zM4 34h1v1h-1zM12 34h1v1h-1zM41 34h1v1h-1zM47 34h1v1h-1zM8 35h1v1h-1zM11 35h1v1h-1zM21 35h1v1h-1zM28 35h1v1h-1zM30 35h1v1h-1zM59 35h1v1h-1zM1 36h1v1h-1zM18 36h3v1h-3zM2 37h1v1h-1zM28 37h1v1h-1zM2 38h1v1h-1zM19 38h1v1h-1zM31 38h1v1h-1zM60 38h1v1h-1zM21 39h1v1h-1zM27 39h3v1h-3zM3 40h2v1h-2zM12 40h1v1h-1zM15 40h2v1h-2zM21 40h2v1h-2zM27 40h1v1h-1zM32 40h1v1h-1zM44 40h1v1h-1zM47 40h2v1h-2zM55 40h1v1h-1zM3 41h2v1h-2zM7 41h1v1h-1zM28 41h1v1h-1zM30 41h1v1h-1zM32 41h1v1h-1zM34 41h1v1h-1zM45 41h1v1h-1zM56 41h1v1h-1zM60 41h1v1h-1zM12 42h1v1h-1zM27 42h1v1h-1zM30 42h1v1h-1zM45 42h1v1h-1zM55 42h1v1h-1zM11 43h1v1h-1zM45 43h1v1h-1zM50 43h1v1h-1zM8 44h1v1h-1zM3 45h1v1h-1zM7 45h1v1h-1zM20 45h1v1h-1zM23 45h1v1h-1zM28 45h1v1h-1zM41 45h3v1h-3zM55 45h1v1h-1zM1 46h1v1h-1zM10 47h2v1h-2zM34 47h1v1h-1zM36 47h1v1h-1zM40 47h1v1h-1zM50 47h1v1h-1zM5 48h1v1h-1zM12 48h1v1h-1zM16 48h1v1h-1zM47 48h1v1h-1zM57 48h1v1h-1zM14 49h1v1h-1zM16 49h1v1h-1zM19 49h1v1h-1zM3 50h1v1h-1zM15 50h1v1h-1zM22 50h2v1h-2zM25 50h1v1h-1zM27 50h1v1h-1zM29 50h1v1h-1zM43 50h1v1h-1zM47 50h1v1h-1zM51 50h1v1h-1zM59 50h1v1h-1zM28 51h1v1h-1zM50 51h1v1h-1zM3 53h2v1h-2zM12 53h1v1h-1zM20 53h1v1h-1zM23 53h1v1h-1zM37 53h1v1h-1zM55 53h1v1h-1zM29 54h1v1h-1zM3 55h1v1h-1zM11 55h3v1h-3zM21 55h1v1h-1zM24 55h1v1h-1zM27 55h2v1h-2zM30 55h1v1h-1zM37 55h1v1h-1zM40 55h1v1h-1zM42 55h1v1h-1zM45 55h1v1h-1zM49 55h1v1h-1zM53 55h1v1h-1zM11 56h1v1h-1zM30 56h1v1h-1zM41 56h1v1h-1zM48 57h1v1h-1zM29 58h1v1h-1zM4 59h1v1h-1zM26 59h3v1h-3zM30 59h1v1h-1zM35 59h1v1h-1zM50 59h1v1h-1zM12 60h1v1h-1zM27 60h1v1h-1zM30 60h1v1h-1zM41 60h1v1h-1z"/><path fill="#f8eef6" d="M6 0h1v1h-1zM25 0h1v1h-1zM51 0h1v1h-1zM56 0h1v1h-1zM13 1h1v1h-1zM43 1h1v1h-1zM10 2h1v1h-1zM39 2h1v1h-1zM50 2h1v1h-1zM2 3h1v1h-1zM4 3h1v1h-1zM6 3h1v1h-1zM10 3h1v1h-1zM26 3h1v1h-1zM60 3h1v1h-1zM3 4h1v1h-1zM7 4h1v1h-1zM24 4h1v1h-1zM32 4h1v1h-1zM42 4h1v1h-1zM45 4h1v1h-1zM9 5h1v1h-1zM17 5h1v1h-1zM33 5h1v1h-1zM37 5h1v1h-1zM39 5h1v1h-1zM52 5h1v1h-1zM0 6h1v1h-1zM3 6h1v1h-1zM9 6h1v1h-1zM14 6h2v1h-2zM21 6h2v1h-2zM32 6h1v1h-1zM50 6h1v1h-1zM53 6h1v1h-1zM59 6h1v1h-1zM4 7h1v1h-1zM43 7h1v1h-1zM47 7h1v1h-1zM9 8h1v1h-1zM57 8h1v1h-1zM5 9h1v1h-1zM7 9h2v1h-2zM44 9h1v1h-1zM3 10h1v1h-1zM12 10h1v1h-1zM34 10h1v1h-1zM50 10h1v1h-1zM56 10h1v1h-1zM28 11h1v1h-1zM30 11h1v1h-1zM42 11h1v1h-1zM59 11h1v1h-1zM10 12h1v1h-1zM15 12h1v1h-1zM1 13h1v1h-1zM19 13h1v1h-1zM31 13h1v1h-1zM21 14h1v1h-1zM29 14h1v1h-1zM34 14h1v1h-1zM52 14h1v1h-1zM54 14h1v1h-1zM57 14h1v1h-1zM6 15h1v1h-1zM12 15h1v1h-1zM23 15h1v1h-1zM43 15h1v1h-1zM45 15h1v1h-1zM56 15h1v1h-1zM31 16h1v1h-1zM36 16h1v1h-1zM5 17h1v1h-1zM39 17h1v1h-1zM44 17h1v1h-1zM46 17h1v1h-1zM52 17h1v1h-1zM58 17h1v1h-1zM37 18h1v1h-1zM44 18h1v1h-1zM52 18h1v1h-1zM13 19h1v1h-1zM54 19h1v1h-1zM58 19h1v1h-1zM32 20h1v1h-1zM35 20h1v1h-1zM40 20h1v1h-1zM43 20h1v1h-1zM6 21h1v1h-1zM27 21h2v1h-2zM43 21h1v1h-1zM6 22h1v1h-1zM27 22h1v1h-1zM32 22h1v1h-1zM38 22h1v1h-1zM44 22h1v1h-1zM15 23h1v1h-1zM24 23h2v1h-2zM35 23h1v1h-1zM4 24h1v1h-1zM23 24h1v1h-1zM32 24h1v1h-1zM34 24h2v1h-2zM0 25h1v1h-1zM17 25h1v1h-1zM23 25h1v1h-1zM28 25h1v1h-1zM32 25h1v1h-1zM47 25h1v1h-1zM51 25h1v1h-1zM53 25h1v1h-1zM3 26h1v1h-1zM35 26h1v1h-1zM43 26h1v1h-1zM52 26h2v1h-2zM56 26h1v1h-1zM21 27h1v1h-1zM45 27h1v1h-1zM53 27h1v1h-1zM56 27h1v1h-1zM11 28h1v1h-1zM21 28h1v1h-1zM25 28h1v1h-1zM34 28h1v1h-1zM40 28h1v1h-1zM53 28h1v1h-1zM14 29h1v1h-1zM34 29h1v1h-1zM44 29h1v1h-1zM11 30h1v1h-1zM51 30h1v1h-1zM13 31h1v1h-1zM16 31h1v1h-1zM37 31h1v1h-1zM48 31h1v1h-1zM4 32h1v1h-1zM6 32h1v1h-1zM20 32h1v1h-1zM24 32h2v1h-2zM42 32h1v1h-1zM45 32h1v1h-1zM55 32h1v1h-1zM5 33h2v1h-2zM24 33h1v1h-1zM27 33h1v1h-1zM37 33h1v1h-1zM44 33h1v1h-1zM48 33h2v1h-2zM10 34h1v1h-1zM13 34h1v1h-1zM24 34h1v1h-1zM28 34h1v1h-1zM20 35h1v1h-1zM23 35h2v1h-2zM26 35h1v1h-1zM42 35h1v1h-1zM51 35h1v1h-1zM53 35h1v1h-1zM16 36h1v1h-1zM37 36h1v1h-1zM53 36h1v1h-1zM5 37h1v1h-1zM18 37h1v1h-1zM25 37h1v1h-1zM31 37h1v1h-1zM33 37h1v1h-1zM36 37h1v1h-1zM52 37h1v1h-1zM10 38h1v1h-1zM22 38h1v1h-1zM44 38h1v1h-1zM57 38h1v1h-1zM2 39h1v1h-1zM5 39h1v1h-1zM17 39h1v1h-1zM46 39h1v1h-1zM54 39h1v1h-1zM20 40h1v1h-1zM28 40h1v1h-1zM41 40h1v1h-1zM43 40h1v1h-1zM40 41h1v1h-1zM44 41h1v1h-1zM51 41h1v1h-1zM4 42h1v1h-1zM11 42h1v1h-1zM32 42h1v1h-1zM35 42h1v1h-1zM43 42h1v1h-1zM56 42h1v1h-1zM7 43h1v1h-1zM13 43h1v1h-1zM15 43h1v1h-1zM20 43h2v1h-2zM26 43h1v1h-1zM40 43h1v1h-1zM42 43h1v1h-1zM59 43h1v1h-1zM9 44h1v1h-1zM17 44h2v1h-2zM22 44h1v1h-1zM25 44h1v1h-1zM29 44h1v1h-1zM33 44h1v1h-1zM38 44h1v1h-1zM48 44h1v1h-1zM52 44h1v1h-1zM58 44h1v1h-1zM4 45h1v1h-1zM15 45h1v1h-1zM27 45h1v1h-1zM32 45h1v1h-1zM53 45h1v1h-1zM58 45h1v1h-1zM17 46h1v1h-1zM20 46h1v1h-1zM39 46h1v1h-1zM41 46h1v1h-1zM54 46h1v1h-1zM57 46h1v1h-1zM7 47h1v1h-1zM25 47h1v1h-1zM53 47h1v1h-1zM31 48h1v1h-1zM33 48h1v1h-1zM44 48h1v1h-1zM33 49h1v1h-1zM54 49h1v1h-1zM6 50h1v1h-1zM10 50h1v1h-1zM60 50h1v1h-1zM0 51h1v1h-1zM25 51h1v1h-1zM30 51h1v1h-1zM35 51h1v1h-1zM38 51h1v1h-1zM41 51h1v1h-1zM56 51h1v1h-1zM60 51h1v1h-1zM4 52h2v1h-2zM14 52h2v1h-2zM17 52h2v1h-2zM37 52h1v1h-1zM44 52h1v1h-1zM54 52h1v1h-1zM58 52h1v1h-1zM6 53h1v1h-1zM8 53h1v1h-1zM25 53h4v1h-4zM35 53h1v1h-1zM45 53h1v1h-1zM47 53h1v1h-1zM7 54h1v1h-1zM14 54h1v1h-1zM19 54h1v1h-1zM39 54h1v1h-1zM45 54h2v1h-2zM49 54h1v1h-1zM52 54h1v1h-1zM32 55h1v1h-1zM0 56h1v1h-1zM10 56h1v1h-1zM15 56h1v1h-1zM26 56h2v1h-2zM42 56h1v1h-1zM51 56h1v1h-1zM7 57h2v1h-2zM14 57h1v1h-1zM21 57h1v1h-1zM34 57h1v1h-1zM38 57h1v1h-1zM42 57h1v1h-1zM46 57h1v1h-1zM50 57h1v1h-1zM0 58h1v1h-1zM17 58h1v1h-1zM19 58h1v1h-1zM44 58h1v1h-1zM52 58h1v1h-1zM6 59h1v1h-1zM11 59h1v1h-1zM43 59h1v1h-1zM3 60h1v1h-1zM50 60h2v1h-2z"/><path fill="#e9b6d4" d="M7 0h1v1h-1zM10 0h1v1h-1zM14 0h1v1h-1zM26 0h1v1h-1zM34 0h1v1h-1zM47 0h1v1h-1zM50 0h1v1h-1zM52 0h1v1h-1zM2 1h1v1h-1zM16 1h1v1h-1zM22 1h1v1h-1zM38 1h1v1h-1zM48 1h1v1h-1zM54 1h1v1h-1zM1 2h1v1h-1zM8 2h1v1h-1zM14 2h1v1h-1zM17 2h2v1h-2zM33 2h1v1h-1zM48 2h1v1h-1zM58 2h1v1h-1zM21 3h1v1h-1zM24 3h1v1h-1zM32 3h1v1h-1zM42 3h1v1h-1zM47 3h1v1h-1zM6 4h1v1h-1zM11 4h1v1h-1zM27 4h1v1h-1zM4 5h1v1h-1zM14 5h1v1h-1zM22 5h2v1h-2zM29 5h1v1h-1zM38 5h1v1h-1zM44 5h2v1h-2zM58 5h1v1h-1zM4 6h1v1h-1zM7 6h1v1h-1zM24 6h2v1h-2zM27 6h1v1h-1zM35 6h1v1h-1zM41 6h1v1h-1zM51 6h1v1h-1zM54 6h3v1h-3zM0 7h1v1h-1zM6 7h1v1h-1zM24 7h1v1h-1zM27 7h2v1h-2zM33 7h1v1h-1zM35 7h1v1h-1zM2 8h1v1h-1zM14 8h1v1h-1zM58 8h1v1h-1zM29 9h1v1h-1zM37 9h3v1h-3zM49 9h1v1h-1zM0 10h1v1h-1zM27 10h1v1h-1zM32 10h1v1h-1zM43 10h1v1h-1zM45 10h1v1h-1zM54 10h2v1h-2zM4 11h1v1h-1zM12 11h1v1h-1zM15 11h1v1h-1zM17 11h1v1h-1zM26 11h1v1h-1zM34 11h1v1h-1zM50 11h2v1h-2zM60 11h1v1h-1zM11 12h1v1h-1zM16 12h1v1h-1zM25 12h1v1h-1zM41 12h1v1h-1zM43 12h1v1h-1zM59 12h1v1h-1zM28 13h1v1h-1zM33 13h1v1h-1zM49 13h1v1h-1zM54 13h1v1h-1zM58 13h2v1h-2zM2 14h1v1h-1zM5 14h1v1h-1zM8 14h1v1h-1zM27 14h1v1h-1zM37 14h3v1h-3zM46 14h1v1h-1zM11 15h1v1h-1zM20 15h1v1h-1zM26 15h1v1h-1zM1 16h1v1h-1zM29 16h1v1h-1zM38 16h1v1h-1zM0 17h1v1h-1zM2 17h1v1h-1zM38 17h1v1h-1zM48 17h2v1h-2zM54 17h1v1h-1zM2 18h1v1h-1zM6 18h1v1h-1zM19 18h1v1h-1zM33 18h1v1h-1zM48 18h1v1h-1zM58 18h1v1h-1zM18 19h1v1h-1zM22 19h1v1h-1zM29 19h1v1h-1zM40 19h1v1h-1zM46 19h2v1h-2zM56 19h1v1h-1zM60 19h1v1h-1zM15 20h1v1h-1zM24 20h2v1h-2zM33 20h2v1h-2zM47 20h1v1h-1zM60 20h1v1h-1zM3 21h1v1h-1zM24 21h2v1h-2zM41 21h1v1h-1zM50 21h1v1h-1zM1 22h1v1h-1zM5 22h1v1h-1zM19 22h1v1h-1zM29 22h1v1h-1zM31 22h1v1h-1zM33 22h1v1h-1zM39 22h1v1h-1zM46 22h1v1h-1zM48 22h1v1h-1zM27 23h2v1h-2zM37 23h1v1h-1zM47 23h1v1h-1zM49 23h1v1h-1zM59 23h1v1h-1zM3 24h1v1h-1zM6 24h2v1h-2zM20 24h2v1h-2zM53 24h1v1h-1zM6 25h1v1h-1zM12 25h1v1h-1zM20 25h2v1h-2zM29 25h1v1h-1zM34 25h1v1h-1zM41 25h1v1h-1zM0 26h1v1h-1zM11 26h1v1h-1zM15 26h1v1h-1zM27 26h1v1h-1zM42 26h1v1h-1zM44 26h1v1h-1zM47 26h1v1h-1zM50 26h1v1h-1zM55 26h1v1h-1zM58 26h1v1h-1zM4 27h1v1h-1zM6 27h2v1h-2zM10 27h1v1h-1zM23 27h1v1h-1zM26 27h1v1h-1zM32 27h1v1h-1zM7 28h1v1h-1zM23 28h1v1h-1zM43 28h1v1h-1zM49 28h2v1h-2zM0 29h1v1h-1zM5 29h1v1h-1zM9 29h1v1h-1zM16 29h1v1h-1zM19 29h1v1h-1zM22 29h1v1h-1zM32 29h1v1h-1zM36 29h2v1h-2zM46 29h1v1h-1zM49 29h1v1h-1zM57 29h1v1h-1zM43 30h1v1h-1zM47 30h1v1h-1zM22 31h1v1h-1zM39 31h1v1h-1zM46 31h1v1h-1zM54 31h1v1h-1zM58 31h1v1h-1zM3 32h1v1h-1zM10 32h1v1h-1zM27 32h1v1h-1zM34 32h1v1h-1zM39 32h1v1h-1zM2 33h1v1h-1zM7 33h1v1h-1zM13 33h1v1h-1zM18 33h1v1h-1zM22 33h1v1h-1zM36 33h1v1h-1zM38 33h1v1h-1zM0 34h1v1h-1zM11 34h1v1h-1zM20 34h1v1h-1zM25 34h1v1h-1zM32 34h1v1h-1zM42 34h1v1h-1zM51 34h1v1h-1zM53 34h1v1h-1zM56 34h1v1h-1zM60 34h1v1h-1zM6 35h2v1h-2zM41 35h1v1h-1zM45 35h1v1h-1zM55 35h1v1h-1zM15 36h1v1h-1zM29 36h1v1h-1zM33 36h1v1h-1zM39 36h1v1h-1zM44 36h1v1h-1zM48 36h1v1h-1zM54 36h2v1h-2zM60 36h1v1h-1zM9 37h1v1h-1zM14 37h1v1h-1zM23 37h1v1h-1zM27 37h1v1h-1zM29 37h1v1h-1zM39 37h1v1h-1zM51 37h1v1h-1zM57 37h2v1h-2zM1 38h1v1h-1zM5 38h2v1h-2zM9 38h1v1h-1zM14 38h1v1h-1zM16 38h2v1h-2zM33 38h2v1h-2zM40 38h1v1h-1zM46 38h1v1h-1zM54 38h1v1h-1zM9 39h1v1h-1zM14 39h1v1h-1zM22 39h1v1h-1zM31 39h1v1h-1zM36 39h2v1h-2zM52 39h1v1h-1zM14 40h1v1h-1zM36 40h1v1h-1zM42 40h1v1h-1zM45 40h2v1h-2zM53 40h1v1h-1zM58 40h1v1h-1zM60 40h1v1h-1zM6 41h1v1h-1zM12 41h1v1h-1zM21 41h1v1h-1zM25 41h1v1h-1zM35 41h1v1h-1zM50 41h1v1h-1zM53 41h1v1h-1zM55 41h1v1h-1zM3 42h1v1h-1zM26 42h1v1h-1zM34 42h1v1h-1zM40 42h1v1h-1zM51 42h1v1h-1zM10 43h1v1h-1zM12 43h1v1h-1zM28 43h1v1h-1zM30 43h1v1h-1zM56 43h1v1h-1zM5 44h1v1h-1zM12 44h1v1h-1zM36 44h1v1h-1zM51 44h1v1h-1zM10 45h1v1h-1zM16 45h1v1h-1zM35 45h1v1h-1zM40 45h1v1h-1zM51 45h1v1h-1zM60 45h1v1h-1zM6 46h1v1h-1zM14 46h1v1h-1zM19 46h1v1h-1zM22 46h1v1h-1zM29 46h1v1h-1zM31 46h1v1h-1zM38 46h1v1h-1zM48 46h1v1h-1zM52 46h1v1h-1zM0 47h1v1h-1zM3 47h1v1h-1zM20 47h1v1h-1zM23 47h1v1h-1zM26 47h1v1h-1zM30 47h1v1h-1zM51 47h1v1h-1zM60 47h1v1h-1zM1 48h2v1h-2zM17 48h2v1h-2zM22 48h1v1h-1zM36 48h1v1h-1zM46 48h1v1h-1zM9 49h1v1h-1zM13 49h1v1h-1zM17 49h1v1h-1zM28 49h2v1h-2zM52 49h1v1h-1zM58 49h1v1h-1zM0 50h1v1h-1zM11 50h1v1h-1zM21 50h1v1h-1zM26 50h1v1h-1zM28 50h1v1h-1zM41 50h1v1h-1zM55 50h1v1h-1zM1 51h1v1h-1zM6 51h1v1h-1zM11 51h1v1h-1zM33 51h2v1h-2zM37 51h1v1h-1zM42 51h1v1h-1zM44 51h2v1h-2zM47 51h1v1h-1zM53 51h3v1h-3zM39 52h1v1h-1zM46 52h1v1h-1zM49 52h1v1h-1zM51 52h1v1h-1zM57 52h1v1h-1zM24 53h1v1h-1zM31 53h1v1h-1zM34 53h1v1h-1zM40 53h2v1h-2zM51 53h1v1h-1zM1 54h1v1h-1zM13 54h1v1h-1zM17 54h1v1h-1zM31 54h1v1h-1zM36 54h1v1h-1zM38 54h1v1h-1zM6 55h1v1h-1zM10 55h1v1h-1zM26 55h1v1h-1zM29 55h1v1h-1zM35 55h1v1h-1zM39 55h1v1h-1zM41 55h1v1h-1zM50 55h2v1h-2zM6 56h1v1h-1zM34 56h1v1h-1zM43 56h1v1h-1zM60 56h1v1h-1zM24 57h1v1h-1zM29 57h1v1h-1zM37 57h1v1h-1zM52 57h1v1h-1zM2 58h1v1h-1zM5 58h1v1h-1zM8 58h1v1h-1zM13 58h1v1h-1zM18 58h1v1h-1zM31 58h1v1h-1zM37 58h1v1h-1zM43 58h1v1h-1zM49 58h1v1h-1zM12 59h1v1h-1zM22 59h2v1h-2zM33 59h1v1h-1zM11 60h1v1h-1zM18 60h1v1h-1zM20 60h1v1h-1zM34 60h1v1h-1zM40 60h1v1h-1zM45 60h1v1h-1zM47 60h1v1h-1zM56 60h1v1h-1z"/><path fill="#dcdcf5" d="M8 0h1v1h-1zM13 0h1v1h-1zM36 0h1v1h-1zM4 1h1v1h-1zM50 1h1v1h-1zM56 1h1v1h-1zM59 1h1v1h-1zM4 2h1v1h-1zM7 2h1v1h-1zM15 2h1v1h-1zM21 2h1v1h-1zM40 2h1v1h-1zM42 2h1v1h-1zM47 2h1v1h-1zM60 2h1v1h-1zM33 3h1v1h-1zM1 4h2v1h-2zM49 4h1v1h-1zM6 5h1v1h-1zM10 5h1v1h-1zM12 5h1v1h-1zM25 5h1v1h-1zM43 5h1v1h-1zM5 6h1v1h-1zM16 6h2v1h-2zM37 6h1v1h-1zM39 6h1v1h-1zM44 6h1v1h-1zM49 6h1v1h-1zM57 6h1v1h-1zM14 7h1v1h-1zM17 7h1v1h-1zM31 7h1v1h-1zM37 7h1v1h-1zM46 7h1v1h-1zM0 8h1v1h-1zM15 8h1v1h-1zM42 8h1v1h-1zM47 8h1v1h-1zM12 9h1v1h-1zM20 9h1v1h-1zM26 9h1v1h-1zM40 9h1v1h-1zM43 9h1v1h-1zM50 9h1v1h-1zM53 9h1v1h-1zM5 10h1v1h-1zM17 10h1v1h-1zM36 10h2v1h-2zM39 10h1v1h-1zM46 10h1v1h-1zM8 11h1v1h-1zM29 11h1v1h-1zM33 11h1v1h-1zM38 11h2v1h-2zM5 12h1v1h-1zM9 12h1v1h-1zM33 12h1v1h-1zM36 12h1v1h-1zM52 12h1v1h-1zM0 13h1v1h-1zM7 13h1v1h-1zM21 13h1v1h-1zM25 13h1v1h-1zM32 13h1v1h-1zM45 13h1v1h-1zM7 14h1v1h-1zM30 14h1v1h-1zM2 15h1v1h-1zM8 15h1v1h-1zM31 15h1v1h-1zM38 15h1v1h-1zM57 15h2v1h-2zM6 16h1v1h-1zM25 16h1v1h-1zM47 16h1v1h-1zM56 16h1v1h-1zM6 17h2v1h-2zM10 17h1v1h-1zM27 17h1v1h-1zM34 17h1v1h-1zM50 17h1v1h-1zM59 17h1v1h-1zM26 18h2v1h-2zM35 18h1v1h-1zM41 18h1v1h-1zM45 18h1v1h-1zM47 18h1v1h-1zM56 18h1v1h-1zM59 18h1v1h-1zM41 19h1v1h-1zM43 19h1v1h-1zM9 20h1v1h-1zM44 20h1v1h-1zM52 20h1v1h-1zM57 20h1v1h-1zM2 21h1v1h-1zM13 21h1v1h-1zM36 21h1v1h-1zM54 21h1v1h-1zM42 22h1v1h-1zM56 22h1v1h-1zM31 23h1v1h-1zM46 23h1v1h-1zM52 24h1v1h-1zM58 24h1v1h-1zM5 25h1v1h-1zM13 25h1v1h-1zM31 25h1v1h-1zM48 25h1v1h-1zM1 26h1v1h-1zM9 26h1v1h-1zM39 26h1v1h-1zM48 26h1v1h-1zM57 26h1v1h-1zM18 27h1v1h-1zM44 27h1v1h-1zM46 27h1v1h-1zM18 28h1v1h-1zM38 28h1v1h-1zM3 29h1v1h-1zM11 29h1v1h-1zM40 29h1v1h-1zM51 29h1v1h-1zM56 29h1v1h-1zM59 29h1v1h-1zM14 30h1v1h-1zM29 30h1v1h-1zM33 30h1v1h-1zM57 30h1v1h-1zM15 31h1v1h-1zM25 31h1v1h-1zM32 31h1v1h-1zM40 31h1v1h-1zM51 31h1v1h-1zM13 32h1v1h-1zM46 32h1v1h-1zM57 32h1v1h-1zM3 33h1v1h-1zM11 33h1v1h-1zM34 33h1v1h-1zM45 33h1v1h-1zM53 33h1v1h-1zM60 33h1v1h-1zM2 34h1v1h-1zM17 34h1v1h-1zM44 34h1v1h-1zM46 34h1v1h-1zM48 34h1v1h-1zM58 34h1v1h-1zM18 35h1v1h-1zM37 35h1v1h-1zM44 35h1v1h-1zM46 35h1v1h-1zM54 35h1v1h-1zM58 35h1v1h-1zM0 36h1v1h-1zM10 36h1v1h-1zM12 36h1v1h-1zM21 36h1v1h-1zM26 36h1v1h-1zM42 36h1v1h-1zM59 36h1v1h-1zM7 37h1v1h-1zM10 37h1v1h-1zM35 37h1v1h-1zM42 37h1v1h-1zM50 37h1v1h-1zM12 38h1v1h-1zM15 38h1v1h-1zM23 38h1v1h-1zM28 38h1v1h-1zM10 39h2v1h-2zM26 39h1v1h-1zM47 39h1v1h-1zM2 40h1v1h-1zM9 40h1v1h-1zM29 40h1v1h-1zM31 40h1v1h-1zM54 40h1v1h-1zM18 41h2v1h-2zM8 42h1v1h-1zM22 42h1v1h-1zM36 42h2v1h-2zM49 42h1v1h-1zM52 42h1v1h-1zM9 43h1v1h-1zM44 43h1v1h-1zM46 43h1v1h-1zM52 43h1v1h-1zM6 44h1v1h-1zM20 44h1v1h-1zM27 44h1v1h-1zM35 44h1v1h-1zM43 44h1v1h-1zM13 45h1v1h-1zM17 45h3v1h-3zM33 45h1v1h-1zM7 46h1v1h-1zM10 46h1v1h-1zM23 46h1v1h-1zM27 46h1v1h-1zM32 46h1v1h-1zM34 46h2v1h-2zM42 46h2v1h-2zM50 46h2v1h-2zM2 47h1v1h-1zM16 47h1v1h-1zM18 47h1v1h-1zM39 47h1v1h-1zM25 48h1v1h-1zM34 48h1v1h-1zM60 48h1v1h-1zM4 49h1v1h-1zM6 49h1v1h-1zM42 49h1v1h-1zM50 49h1v1h-1zM53 49h1v1h-1zM56 49h1v1h-1zM1 50h1v1h-1zM9 50h1v1h-1zM17 50h1v1h-1zM37 50h1v1h-1zM46 50h1v1h-1zM49 50h1v1h-1zM58 50h1v1h-1zM2 51h1v1h-1zM5 51h1v1h-1zM29 51h1v1h-1zM31 51h1v1h-1zM46 51h1v1h-1zM12 52h1v1h-1zM20 52h1v1h-1zM24 52h2v1h-2zM43 52h1v1h-1zM33 53h1v1h-1zM49 53h1v1h-1zM57 53h1v1h-1zM21 54h1v1h-1zM35 54h1v1h-1zM40 54h1v1h-1zM52 55h1v1h-1zM58 55h1v1h-1zM1 56h1v1h-1zM5 56h1v1h-1zM18 56h1v1h-1zM22 56h1v1h-1zM29 56h1v1h-1zM31 56h1v1h-1zM49 56h1v1h-1zM57 56h2v1h-2zM6 57h1v1h-1zM20 57h1v1h-1zM25 57h2v1h-2zM30 57h1v1h-1zM32 57h1v1h-1zM55 57h2v1h-2zM59 57h1v1h-1zM4 58h1v1h-1zM15 58h1v1h-1zM24 58h1v1h-1zM50 58h1v1h-1zM55 58h2v1h-2zM1 59h1v1h-1zM17 59h2v1h-2zM29 59h1v1h-1zM36 59h1v1h-1zM38 59h1v1h-1zM57 59h1v1h-1zM2 60h1v1h-1zM33 60h1v1h-1z"/><path fill="#eeeefa" d="M9 0h1v1h-1zM22 0h1v1h-1zM58 0h1v1h-1zM35 1h1v1h-1zM3 2h1v1h-1zM12 2h1v1h-1zM43 2h1v1h-1zM55 2h1v1h-1zM5 3h1v1h-1zM16 3h2v1h-2zM36 3h1v1h-1zM29 4h1v1h-1zM52 4h1v1h-1zM3 5h1v1h-1zM11 5h1v1h-1zM20 5h1v1h-1zM19 6h1v1h-1zM33 6h1v1h-1zM52 6h1v1h-1zM9 7h1v1h-1zM18 7h1v1h-1zM54 7h1v1h-1zM57 7h2v1h-2zM51 8h1v1h-1zM53 8h1v1h-1zM0 9h1v1h-1zM6 9h1v1h-1zM10 9h2v1h-2zM34 9h1v1h-1zM51 9h1v1h-1zM60 9h1v1h-1zM2 10h1v1h-1zM9 10h1v1h-1zM16 10h1v1h-1zM19 10h1v1h-1zM29 10h1v1h-1zM38 10h1v1h-1zM44 10h1v1h-1zM5 11h1v1h-1zM9 11h1v1h-1zM37 11h1v1h-1zM52 11h1v1h-1zM2 12h1v1h-1zM37 12h1v1h-1zM57 12h1v1h-1zM20 13h1v1h-1zM34 13h1v1h-1zM43 13h1v1h-1zM6 14h1v1h-1zM41 14h1v1h-1zM16 15h1v1h-1zM22 15h1v1h-1zM46 15h1v1h-1zM52 15h1v1h-1zM3 16h1v1h-1zM10 16h1v1h-1zM15 16h1v1h-1zM41 16h1v1h-1zM50 16h1v1h-1zM3 17h1v1h-1zM25 17h1v1h-1zM60 17h1v1h-1zM7 18h1v1h-1zM24 18h1v1h-1zM32 18h1v1h-1zM51 18h1v1h-1zM6 19h1v1h-1zM10 19h1v1h-1zM25 19h1v1h-1zM28 19h1v1h-1zM5 20h1v1h-1zM13 20h1v1h-1zM46 20h1v1h-1zM14 21h1v1h-1zM46 21h1v1h-1zM57 21h1v1h-1zM0 22h1v1h-1zM15 22h1v1h-1zM30 22h1v1h-1zM18 24h1v1h-1zM33 24h1v1h-1zM37 24h1v1h-1zM44 24h1v1h-1zM19 25h1v1h-1zM33 25h1v1h-1zM37 25h1v1h-1zM44 25h1v1h-1zM46 25h1v1h-1zM37 26h1v1h-1zM22 27h1v1h-1zM33 27h1v1h-1zM48 27h1v1h-1zM19 28h1v1h-1zM4 29h1v1h-1zM10 29h1v1h-1zM22 30h1v1h-1zM59 31h1v1h-1zM18 32h1v1h-1zM22 32h1v1h-1zM44 32h1v1h-1zM49 32h1v1h-1zM25 33h1v1h-1zM9 34h1v1h-1zM14 34h1v1h-1zM29 34h1v1h-1zM57 34h1v1h-1zM1 35h1v1h-1zM3 36h1v1h-1zM11 37h2v1h-2zM24 37h1v1h-1zM26 37h1v1h-1zM41 37h1v1h-1zM56 37h1v1h-1zM60 37h1v1h-1zM42 38h1v1h-1zM45 38h1v1h-1zM51 38h1v1h-1zM51 39h1v1h-1zM53 39h1v1h-1zM59 39h1v1h-1zM14 41h1v1h-1zM16 41h1v1h-1zM37 41h1v1h-1zM46 41h1v1h-1zM58 41h1v1h-1zM38 42h1v1h-1zM57 42h1v1h-1zM1 43h2v1h-2zM49 43h1v1h-1zM57 43h1v1h-1zM10 44h1v1h-1zM24 44h1v1h-1zM32 44h1v1h-1zM41 44h1v1h-1zM38 45h1v1h-1zM54 45h1v1h-1zM15 46h1v1h-1zM21 46h1v1h-1zM25 46h1v1h-1zM27 48h1v1h-1zM32 49h1v1h-1zM43 49h1v1h-1zM2 50h1v1h-1zM16 50h1v1h-1zM57 50h1v1h-1zM8 51h2v1h-2zM18 51h1v1h-1zM39 51h1v1h-1zM6 52h1v1h-1zM11 52h1v1h-1zM26 52h1v1h-1zM36 53h1v1h-1zM39 53h1v1h-1zM59 54h1v1h-1zM2 55h1v1h-1zM37 56h1v1h-1zM12 57h1v1h-1zM43 57h1v1h-1zM7 58h1v1h-1zM41 58h1v1h-1zM45 58h1v1h-1zM31 59h1v1h-1zM39 59h1v1h-1zM54 59h1v1h-1zM9 60h1v1h-1zM17 60h1v1h-1zM37 60h1v1h-1z"/><path fill="#f2d6e8" d="M12 0h1v1h-1zM41 0h1v1h-1zM60 0h1v1h-1zM5 1h1v1h-1zM14 1h1v1h-1zM26 1h1v1h-1zM31 1h1v1h-1zM5 2h1v1h-1zM22 2h1v1h-1zM29 2h1v1h-1zM34 2h1v1h-1zM36 2h1v1h-1zM51 2h1v1h-1zM11 3h2v1h-2zM29 3h1v1h-1zM34 3h1v1h-1zM30 4h1v1h-1zM47 4h1v1h-1zM58 4h1v1h-1zM1 5h2v1h-2zM8 5h1v1h-1zM36 5h1v1h-1zM51 5h1v1h-1zM56 5h2v1h-2zM10 6h1v1h-1zM26 6h1v1h-1zM28 6h1v1h-1zM60 6h1v1h-1zM2 7h1v1h-1zM10 7h1v1h-1zM13 7h1v1h-1zM15 7h1v1h-1zM26 7h1v1h-1zM32 7h1v1h-1zM34 7h1v1h-1zM5 8h1v1h-1zM11 8h1v1h-1zM46 8h1v1h-1zM49 8h1v1h-1zM52 8h1v1h-1zM56 8h1v1h-1zM13 9h2v1h-2zM17 9h3v1h-3zM22 9h1v1h-1zM33 9h1v1h-1zM46 9h1v1h-1zM52 9h1v1h-1zM58 9h1v1h-1zM6 10h2v1h-2zM25 10h1v1h-1zM31 10h1v1h-1zM42 10h1v1h-1zM51 10h1v1h-1zM53 10h1v1h-1zM59 10h1v1h-1zM3 11h1v1h-1zM20 11h1v1h-1zM40 11h1v1h-1zM0 12h1v1h-1zM3 12h1v1h-1zM21 12h1v1h-1zM27 12h1v1h-1zM38 12h1v1h-1zM45 12h1v1h-1zM47 12h1v1h-1zM9 13h1v1h-1zM14 13h1v1h-1zM17 13h1v1h-1zM37 13h1v1h-1zM39 13h1v1h-1zM1 14h1v1h-1zM9 14h1v1h-1zM13 14h1v1h-1zM48 14h1v1h-1zM58 14h1v1h-1zM7 15h1v1h-1zM25 15h1v1h-1zM30 15h1v1h-1zM34 15h1v1h-1zM41 15h1v1h-1zM60 15h1v1h-1zM17 16h2v1h-2zM39 16h1v1h-1zM44 16h1v1h-1zM9 17h1v1h-1zM13 17h1v1h-1zM16 17h1v1h-1zM29 17h1v1h-1zM36 17h1v1h-1zM45 17h1v1h-1zM57 17h1v1h-1zM9 18h1v1h-1zM16 18h1v1h-1zM22 18h1v1h-1zM28 18h1v1h-1zM49 18h1v1h-1zM57 18h1v1h-1zM9 19h1v1h-1zM39 19h1v1h-1zM44 19h2v1h-2zM52 19h1v1h-1zM57 19h1v1h-1zM59 19h1v1h-1zM11 20h1v1h-1zM26 20h1v1h-1zM42 20h1v1h-1zM50 20h1v1h-1zM55 20h2v1h-2zM12 21h1v1h-1zM23 21h1v1h-1zM26 21h1v1h-1zM51 21h1v1h-1zM56 21h1v1h-1zM60 21h1v1h-1zM2 22h1v1h-1zM9 22h1v1h-1zM18 22h1v1h-1zM36 22h2v1h-2zM54 22h1v1h-1zM21 23h1v1h-1zM30 23h1v1h-1zM32 23h1v1h-1zM34 23h1v1h-1zM38 23h1v1h-1zM55 23h1v1h-1zM60 23h1v1h-1zM27 24h2v1h-2zM30 24h1v1h-1zM41 24h1v1h-1zM45 24h1v1h-1zM50 24h1v1h-1zM10 25h1v1h-1zM15 25h2v1h-2zM52 25h1v1h-1zM56 25h2v1h-2zM60 25h1v1h-1zM6 26h2v1h-2zM18 26h1v1h-1zM20 26h2v1h-2zM36 26h1v1h-1zM41 26h1v1h-1zM45 26h1v1h-1zM51 26h1v1h-1zM60 26h1v1h-1zM12 27h1v1h-1zM17 27h1v1h-1zM24 27h1v1h-1zM47 27h1v1h-1zM51 27h1v1h-1zM54 27h1v1h-1zM6 28h1v1h-1zM24 28h1v1h-1zM42 28h1v1h-1zM56 28h1v1h-1zM60 28h1v1h-1zM2 29h1v1h-1zM17 29h1v1h-1zM30 29h2v1h-2zM48 29h1v1h-1zM52 29h1v1h-1zM4 30h1v1h-1zM15 30h1v1h-1zM23 30h2v1h-2zM40 30h1v1h-1zM1 31h1v1h-1zM7 31h1v1h-1zM10 31h1v1h-1zM23 31h1v1h-1zM29 31h1v1h-1zM56 31h2v1h-2zM7 32h1v1h-1zM23 32h1v1h-1zM31 32h1v1h-1zM35 32h1v1h-1zM43 32h1v1h-1zM50 32h2v1h-2zM9 33h1v1h-1zM12 33h1v1h-1zM30 33h1v1h-1zM39 33h1v1h-1zM52 33h1v1h-1zM57 33h2v1h-2zM3 34h1v1h-1zM7 34h1v1h-1zM15 34h1v1h-1zM23 34h1v1h-1zM33 34h1v1h-1zM59 34h1v1h-1zM32 35h1v1h-1zM40 35h1v1h-1zM2 36h1v1h-1zM5 36h1v1h-1zM17 36h1v1h-1zM22 36h1v1h-1zM57 36h1v1h-1zM6 37h1v1h-1zM13 37h1v1h-1zM22 37h1v1h-1zM38 37h1v1h-1zM46 37h1v1h-1zM11 38h1v1h-1zM37 38h1v1h-1zM49 38h1v1h-1zM52 38h1v1h-1zM59 38h1v1h-1zM6 39h1v1h-1zM13 39h1v1h-1zM16 39h1v1h-1zM19 39h1v1h-1zM33 39h1v1h-1zM11 40h1v1h-1zM30 40h1v1h-1zM35 40h1v1h-1zM56 40h1v1h-1zM0 41h1v1h-1zM15 41h1v1h-1zM24 41h1v1h-1zM26 41h1v1h-1zM2 42h1v1h-1zM10 42h1v1h-1zM20 42h1v1h-1zM28 42h1v1h-1zM46 42h1v1h-1zM58 42h2v1h-2zM5 43h1v1h-1zM19 43h1v1h-1zM32 43h1v1h-1zM47 43h1v1h-1zM53 43h1v1h-1zM16 44h1v1h-1zM19 44h1v1h-1zM34 44h1v1h-1zM54 44h1v1h-1zM12 45h1v1h-1zM24 45h1v1h-1zM26 45h1v1h-1zM50 45h1v1h-1zM59 45h1v1h-1zM8 46h2v1h-2zM37 46h1v1h-1zM58 46h1v1h-1zM4 47h1v1h-1zM8 47h1v1h-1zM12 47h1v1h-1zM27 47h1v1h-1zM43 47h1v1h-1zM55 47h1v1h-1zM57 47h1v1h-1zM59 47h1v1h-1zM14 48h1v1h-1zM26 48h1v1h-1zM29 48h1v1h-1zM54 48h1v1h-1zM58 48h1v1h-1zM8 49h1v1h-1zM18 49h1v1h-1zM38 49h1v1h-1zM20 50h1v1h-1zM24 50h1v1h-1zM32 50h1v1h-1zM45 50h1v1h-1zM10 51h1v1h-1zM21 51h1v1h-1zM26 51h2v1h-2zM32 51h1v1h-1zM8 52h2v1h-2zM19 52h1v1h-1zM29 52h1v1h-1zM33 52h1v1h-1zM38 52h1v1h-1zM42 52h1v1h-1zM55 52h1v1h-1zM9 53h2v1h-2zM43 53h1v1h-1zM60 53h1v1h-1zM22 54h1v1h-1zM27 54h1v1h-1zM44 54h1v1h-1zM48 54h1v1h-1zM57 54h2v1h-2zM20 55h1v1h-1zM23 55h1v1h-1zM47 55h1v1h-1zM56 55h2v1h-2zM59 55h1v1h-1zM8 56h1v1h-1zM16 56h1v1h-1zM20 56h2v1h-2zM25 56h1v1h-1zM28 56h1v1h-1zM40 56h1v1h-1zM55 56h1v1h-1zM59 56h1v1h-1zM5 57h1v1h-1zM15 57h1v1h-1zM17 57h3v1h-3zM31 57h1v1h-1zM33 57h1v1h-1zM36 57h1v1h-1zM47 57h1v1h-1zM53 57h2v1h-2zM9 58h1v1h-1zM14 58h1v1h-1zM33 58h3v1h-3zM42 58h1v1h-1zM46 58h1v1h-1zM48 58h1v1h-1zM54 58h1v1h-1zM10 59h1v1h-1zM19 59h1v1h-1zM34 59h1v1h-1zM42 59h1v1h-1zM45 59h1v1h-1zM47 59h1v1h-1zM55 59h2v1h-2zM0 60h1v1h-1zM6 60h1v1h-1zM15 60h1v1h-1zM21 60h1v1h-1zM23 60h1v1h-1zM25 60h2v1h-2zM28 60h1v1h-1zM48 60h1v1h-1zM53 60h1v1h-1z"/><path fill="#de94c0" d="M15 0h1v1h-1zM24 0h1v1h-1zM30 0h1v1h-1zM32 0h1v1h-1zM35 0h1v1h-1zM45 0h2v1h-2zM53 0h1v1h-1zM55 0h1v1h-1zM57 0h1v1h-1zM0 1h1v1h-1zM29 1h1v1h-1zM33 1h1v1h-1zM37 1h1v1h-1zM44 1h1v1h-1zM49 1h1v1h-1zM57 1h1v1h-1zM9 2h1v1h-1zM13 2h1v1h-1zM16 2h1v1h-1zM19 2h1v1h-1zM24 2h1v1h-1zM46 2h1v1h-1zM49 2h1v1h-1zM52 2h1v1h-1zM57 2h1v1h-1zM7 3h1v1h-1zM22 3h2v1h-2zM25 3h1v1h-1zM30 3h1v1h-1zM35 3h1v1h-1zM43 3h1v1h-1zM25 4h1v1h-1zM28 4h1v1h-1zM35 4h2v1h-2zM43 4h1v1h-1zM51 4h1v1h-1zM7 5h1v1h-1zM31 5h1v1h-1zM46 5h1v1h-1zM54 5h1v1h-1zM20 6h1v1h-1zM23 6h1v1h-1zM34 6h1v1h-1zM42 6h2v1h-2zM45 6h1v1h-1zM3 7h1v1h-1zM5 7h1v1h-1zM20 7h1v1h-1zM25 7h1v1h-1zM40 7h1v1h-1zM42 7h1v1h-1zM50 7h1v1h-1zM55 7h2v1h-2zM17 8h1v1h-1zM19 8h1v1h-1zM37 8h1v1h-1zM45 8h1v1h-1zM48 8h1v1h-1zM54 8h1v1h-1zM2 9h1v1h-1zM16 9h1v1h-1zM48 9h1v1h-1zM54 9h1v1h-1zM59 9h1v1h-1zM8 10h1v1h-1zM15 10h1v1h-1zM20 10h2v1h-2zM23 10h1v1h-1zM35 10h1v1h-1zM40 10h1v1h-1zM49 10h1v1h-1zM60 10h1v1h-1zM24 11h1v1h-1zM41 11h1v1h-1zM53 11h1v1h-1zM24 12h1v1h-1zM26 12h1v1h-1zM35 12h1v1h-1zM39 12h1v1h-1zM51 12h1v1h-1zM56 12h1v1h-1zM2 13h1v1h-1zM18 13h1v1h-1zM36 13h1v1h-1zM38 13h1v1h-1zM44 13h1v1h-1zM48 13h1v1h-1zM52 13h1v1h-1zM4 14h1v1h-1zM17 14h2v1h-2zM25 14h1v1h-1zM31 14h1v1h-1zM33 14h1v1h-1zM36 14h1v1h-1zM0 15h1v1h-1zM10 15h1v1h-1zM42 15h1v1h-1zM51 15h1v1h-1zM53 15h1v1h-1zM55 15h1v1h-1zM2 16h1v1h-1zM9 16h1v1h-1zM33 16h2v1h-2zM46 16h1v1h-1zM57 16h2v1h-2zM8 17h1v1h-1zM14 17h1v1h-1zM19 17h2v1h-2zM22 17h1v1h-1zM28 17h1v1h-1zM31 17h1v1h-1zM37 17h1v1h-1zM0 18h1v1h-1zM13 18h2v1h-2zM21 18h1v1h-1zM38 18h1v1h-1zM54 18h1v1h-1zM2 19h2v1h-2zM8 19h1v1h-1zM17 19h1v1h-1zM34 19h1v1h-1zM37 19h1v1h-1zM48 19h1v1h-1zM6 20h2v1h-2zM10 20h1v1h-1zM21 20h1v1h-1zM28 20h1v1h-1zM39 20h1v1h-1zM41 20h1v1h-1zM59 20h1v1h-1zM10 21h1v1h-1zM20 21h1v1h-1zM45 21h1v1h-1zM47 21h1v1h-1zM53 21h1v1h-1zM59 21h1v1h-1zM17 22h1v1h-1zM24 22h1v1h-1zM45 22h1v1h-1zM49 22h1v1h-1zM52 22h1v1h-1zM57 22h2v1h-2zM3 23h1v1h-1zM6 23h1v1h-1zM10 23h1v1h-1zM26 23h1v1h-1zM42 23h2v1h-2zM51 23h1v1h-1zM56 23h1v1h-1zM0 24h1v1h-1zM11 24h3v1h-3zM25 24h2v1h-2zM39 24h2v1h-2zM43 24h1v1h-1zM51 24h1v1h-1zM60 24h1v1h-1zM3 25h2v1h-2zM7 25h1v1h-1zM24 25h1v1h-1zM40 25h1v1h-1zM43 25h1v1h-1zM55 25h1v1h-1zM12 26h1v1h-1zM19 26h1v1h-1zM23 26h2v1h-2zM32 26h2v1h-2zM40 26h1v1h-1zM46 26h1v1h-1zM29 27h2v1h-2zM34 27h1v1h-1zM41 27h1v1h-1zM4 28h1v1h-1zM17 28h1v1h-1zM20 28h1v1h-1zM47 28h1v1h-1zM1 29h1v1h-1zM33 29h1v1h-1zM38 29h1v1h-1zM0 30h1v1h-1zM3 30h1v1h-1zM9 30h1v1h-1zM27 30h1v1h-1zM38 30h1v1h-1zM45 30h1v1h-1zM53 30h1v1h-1zM58 30h1v1h-1zM5 31h2v1h-2zM14 31h1v1h-1zM17 31h1v1h-1zM33 31h1v1h-1zM44 31h1v1h-1zM52 31h1v1h-1zM0 32h1v1h-1zM26 32h1v1h-1zM36 32h1v1h-1zM53 32h1v1h-1zM60 32h1v1h-1zM1 33h1v1h-1zM14 33h1v1h-1zM16 33h1v1h-1zM29 33h1v1h-1zM31 33h1v1h-1zM43 33h1v1h-1zM46 33h1v1h-1zM56 33h1v1h-1zM6 34h1v1h-1zM16 34h1v1h-1zM27 34h1v1h-1zM35 34h1v1h-1zM40 34h1v1h-1zM43 34h1v1h-1zM45 34h1v1h-1zM54 34h2v1h-2zM0 35h1v1h-1zM3 35h2v1h-2zM10 35h1v1h-1zM12 35h1v1h-1zM34 35h1v1h-1zM43 35h1v1h-1zM50 35h1v1h-1zM56 35h1v1h-1zM6 36h1v1h-1zM13 36h2v1h-2zM24 36h1v1h-1zM38 36h1v1h-1zM43 36h1v1h-1zM1 37h1v1h-1zM8 37h1v1h-1zM17 37h1v1h-1zM19 37h1v1h-1zM44 37h1v1h-1zM7 38h1v1h-1zM13 38h1v1h-1zM18 38h1v1h-1zM29 38h2v1h-2zM36 38h1v1h-1zM12 39h1v1h-1zM40 39h1v1h-1zM49 39h1v1h-1zM57 39h2v1h-2zM5 40h1v1h-1zM7 40h2v1h-2zM10 40h1v1h-1zM24 40h3v1h-3zM34 40h1v1h-1zM51 40h1v1h-1zM59 40h1v1h-1zM11 41h1v1h-1zM20 41h1v1h-1zM27 41h1v1h-1zM36 41h1v1h-1zM42 41h2v1h-2zM59 41h1v1h-1zM6 42h2v1h-2zM15 42h1v1h-1zM17 42h1v1h-1zM23 42h1v1h-1zM31 42h1v1h-1zM33 42h1v1h-1zM41 42h1v1h-1zM53 42h1v1h-1zM3 43h2v1h-2zM6 43h1v1h-1zM22 43h4v1h-4zM34 43h2v1h-2zM41 43h1v1h-1zM51 43h1v1h-1zM60 43h1v1h-1zM1 44h1v1h-1zM13 44h1v1h-1zM31 44h1v1h-1zM37 44h1v1h-1zM45 44h2v1h-2zM49 44h1v1h-1zM56 44h2v1h-2zM0 45h2v1h-2zM6 45h1v1h-1zM8 45h1v1h-1zM21 45h1v1h-1zM30 45h1v1h-1zM34 45h1v1h-1zM47 45h1v1h-1zM57 45h1v1h-1zM2 46h1v1h-1zM5 46h1v1h-1zM16 46h1v1h-1zM33 46h1v1h-1zM44 46h1v1h-1zM49 46h1v1h-1zM60 46h1v1h-1zM21 47h1v1h-1zM28 47h1v1h-1zM45 47h1v1h-1zM56 47h1v1h-1zM8 48h2v1h-2zM13 48h1v1h-1zM19 48h1v1h-1zM49 48h1v1h-1zM52 48h1v1h-1zM1 49h2v1h-2zM20 49h1v1h-1zM22 49h1v1h-1zM39 49h1v1h-1zM44 49h1v1h-1zM46 49h1v1h-1zM48 49h1v1h-1zM51 49h1v1h-1zM57 49h1v1h-1zM7 50h1v1h-1zM35 50h1v1h-1zM38 50h1v1h-1zM48 50h1v1h-1zM53 50h1v1h-1zM4 51h1v1h-1zM12 51h1v1h-1zM15 51h1v1h-1zM23 51h2v1h-2zM40 51h1v1h-1zM43 51h1v1h-1zM49 51h1v1h-1zM2 52h1v1h-1zM7 52h1v1h-1zM13 52h1v1h-1zM22 52h1v1h-1zM31 52h1v1h-1zM48 52h1v1h-1zM53 52h1v1h-1zM0 53h1v1h-1zM11 53h1v1h-1zM15 53h1v1h-1zM21 53h1v1h-1zM30 53h1v1h-1zM32 53h1v1h-1zM42 53h1v1h-1zM50 53h1v1h-1zM52 53h1v1h-1zM56 53h1v1h-1zM5 54h1v1h-1zM8 54h2v1h-2zM18 54h1v1h-1zM30 54h1v1h-1zM0 55h1v1h-1zM7 55h1v1h-1zM15 55h1v1h-1zM25 55h1v1h-1zM34 55h1v1h-1zM38 55h1v1h-1zM60 55h1v1h-1zM7 56h1v1h-1zM12 56h1v1h-1zM23 56h1v1h-1zM35 56h1v1h-1zM47 56h1v1h-1zM53 56h1v1h-1zM1 57h2v1h-2zM16 57h1v1h-1zM22 57h1v1h-1zM39 57h1v1h-1zM44 57h2v1h-2zM49 57h1v1h-1zM58 57h1v1h-1zM11 58h1v1h-1zM16 58h1v1h-1zM22 58h1v1h-1zM25 58h1v1h-1zM39 58h1v1h-1zM57 58h1v1h-1zM20 59h2v1h-2zM37 59h1v1h-1zM40 59h2v1h-2zM60 59h1v1h-1zM10 60h1v1h-1zM24 60h1v1h-1zM32 60h1v1h-1zM43 60h1v1h-1zM55 60h1v1h-1zM59 60h1v1h-1z"/><path fill="#c6c6ee" d="M17 0h1v1h-1zM19 0h1v1h-1zM29 0h1v1h-1zM6 1h1v1h-1zM23 1h1v1h-1zM51 1h1v1h-1zM55 1h1v1h-1zM25 2h1v1h-1zM56 2h1v1h-1zM44 3h1v1h-1zM52 3h1v1h-1zM58 3h1v1h-1zM5 4h1v1h-1zM18 4h1v1h-1zM31 4h1v1h-1zM33 4h1v1h-1zM54 4h1v1h-1zM57 4h1v1h-1zM26 5h1v1h-1zM32 5h1v1h-1zM35 5h1v1h-1zM42 5h1v1h-1zM1 6h1v1h-1zM18 6h1v1h-1zM29 6h1v1h-1zM38 6h1v1h-1zM46 6h1v1h-1zM48 6h1v1h-1zM58 6h1v1h-1zM36 7h1v1h-1zM49 7h1v1h-1zM20 8h1v1h-1zM25 9h1v1h-1zM32 9h1v1h-1zM56 9h1v1h-1zM33 10h1v1h-1zM13 11h1v1h-1zM16 11h1v1h-1zM19 11h1v1h-1zM22 11h1v1h-1zM44 11h1v1h-1zM49 11h1v1h-1zM13 12h1v1h-1zM44 12h1v1h-1zM11 13h2v1h-2zM35 13h1v1h-1zM41 13h1v1h-1zM0 14h1v1h-1zM20 14h1v1h-1zM40 14h1v1h-1zM59 14h2v1h-2zM19 15h1v1h-1zM36 15h2v1h-2zM48 15h1v1h-1zM11 16h2v1h-2zM26 16h1v1h-1zM42 16h1v1h-1zM45 16h1v1h-1zM51 16h1v1h-1zM53 16h1v1h-1zM59 16h1v1h-1zM11 17h1v1h-1zM35 17h1v1h-1zM4 18h1v1h-1zM34 18h1v1h-1zM42 18h1v1h-1zM60 18h1v1h-1zM0 19h1v1h-1zM11 19h1v1h-1zM15 19h1v1h-1zM35 19h1v1h-1zM53 19h1v1h-1zM8 20h1v1h-1zM14 20h1v1h-1zM37 20h1v1h-1zM33 21h1v1h-1zM44 21h1v1h-1zM48 21h1v1h-1zM52 21h1v1h-1zM58 21h1v1h-1zM11 22h1v1h-1zM25 22h1v1h-1zM28 22h1v1h-1zM35 22h1v1h-1zM55 22h1v1h-1zM59 22h1v1h-1zM1 23h1v1h-1zM5 23h1v1h-1zM57 23h2v1h-2zM29 24h1v1h-1zM31 24h1v1h-1zM38 24h1v1h-1zM46 24h1v1h-1zM48 24h1v1h-1zM57 24h1v1h-1zM2 25h1v1h-1zM9 25h1v1h-1zM22 25h1v1h-1zM39 25h1v1h-1zM54 25h1v1h-1zM5 26h1v1h-1zM16 26h1v1h-1zM31 26h1v1h-1zM49 26h1v1h-1zM14 27h1v1h-1zM37 27h1v1h-1zM49 27h1v1h-1zM13 28h1v1h-1zM22 28h1v1h-1zM36 28h1v1h-1zM44 28h1v1h-1zM52 28h1v1h-1zM54 28h1v1h-1zM6 29h1v1h-1zM24 29h2v1h-2zM42 29h1v1h-1zM55 29h1v1h-1zM31 30h1v1h-1zM46 30h1v1h-1zM4 31h1v1h-1zM24 31h1v1h-1zM26 31h1v1h-1zM30 31h1v1h-1zM35 31h1v1h-1zM53 31h1v1h-1zM5 32h1v1h-1zM9 32h1v1h-1zM29 32h1v1h-1zM58 32h1v1h-1zM4 33h1v1h-1zM10 33h1v1h-1zM20 33h2v1h-2zM41 33h1v1h-1zM51 33h1v1h-1zM59 33h1v1h-1zM18 34h1v1h-1zM36 34h1v1h-1zM38 34h2v1h-2zM5 35h1v1h-1zM13 35h1v1h-1zM17 35h1v1h-1zM19 35h1v1h-1zM22 35h1v1h-1zM31 35h1v1h-1zM49 35h1v1h-1zM57 35h1v1h-1zM7 36h1v1h-1zM28 36h1v1h-1zM34 36h1v1h-1zM40 36h1v1h-1zM15 37h1v1h-1zM20 37h1v1h-1zM24 38h1v1h-1zM43 38h1v1h-1zM47 38h1v1h-1zM53 38h1v1h-1zM25 39h1v1h-1zM32 39h1v1h-1zM34 39h1v1h-1zM45 39h1v1h-1zM55 39h1v1h-1zM60 39h1v1h-1zM19 40h1v1h-1zM38 40h1v1h-1zM57 40h1v1h-1zM13 41h1v1h-1zM33 41h1v1h-1zM49 41h1v1h-1zM52 41h1v1h-1zM5 42h1v1h-1zM16 42h1v1h-1zM18 42h1v1h-1zM29 42h1v1h-1zM44 42h1v1h-1zM48 42h1v1h-1zM54 42h1v1h-1zM38 43h1v1h-1zM54 43h1v1h-1zM58 43h1v1h-1zM3 44h1v1h-1zM11 44h1v1h-1zM21 44h1v1h-1zM26 44h1v1h-1zM28 44h1v1h-1zM42 44h1v1h-1zM60 44h1v1h-1zM5 45h1v1h-1zM39 45h1v1h-1zM24 46h1v1h-1zM30 46h1v1h-1zM40 46h1v1h-1zM56 46h1v1h-1zM59 46h1v1h-1zM19 47h1v1h-1zM38 47h1v1h-1zM58 47h1v1h-1zM6 48h1v1h-1zM15 48h1v1h-1zM21 48h1v1h-1zM24 48h1v1h-1zM42 48h1v1h-1zM51 48h1v1h-1zM56 48h1v1h-1zM7 49h1v1h-1zM11 49h1v1h-1zM23 49h1v1h-1zM26 49h2v1h-2zM35 49h1v1h-1zM41 49h1v1h-1zM54 50h1v1h-1zM16 51h1v1h-1zM48 51h1v1h-1zM52 51h1v1h-1zM58 51h1v1h-1zM0 52h1v1h-1zM3 52h1v1h-1zM21 52h1v1h-1zM28 52h1v1h-1zM41 52h1v1h-1zM56 52h1v1h-1zM60 52h1v1h-1zM16 53h1v1h-1zM19 53h1v1h-1zM38 53h1v1h-1zM4 54h1v1h-1zM6 54h1v1h-1zM10 54h1v1h-1zM25 54h1v1h-1zM28 54h1v1h-1zM42 54h2v1h-2zM50 54h2v1h-2zM60 54h1v1h-1zM1 55h1v1h-1zM22 55h1v1h-1zM36 55h1v1h-1zM2 56h1v1h-1zM9 56h1v1h-1zM19 56h1v1h-1zM46 56h1v1h-1zM48 56h1v1h-1zM52 56h1v1h-1zM4 57h1v1h-1zM23 57h1v1h-1zM35 57h1v1h-1zM40 57h1v1h-1zM3 58h1v1h-1zM6 58h1v1h-1zM21 58h1v1h-1zM23 58h1v1h-1zM26 58h1v1h-1zM32 58h1v1h-1zM40 58h1v1h-1zM47 58h1v1h-1zM51 58h1v1h-1zM60 58h1v1h-1zM13 59h2v1h-2zM16 59h1v1h-1zM46 59h1v1h-1zM14 60h1v1h-1zM19 60h1v1h-1zM36 60h1v1h-1zM39 60h1v1h-1zM44 60h1v1h-1zM52 60h1v1h-1zM54 60h1v1h-1zM58 60h1v1h-1z"/><path fill="#9494da" d="M31 0h1v1h-1zM33 0h1v1h-1zM37 0h2v1h-2zM49 0h1v1h-1zM21 1h1v1h-1zM30 1h1v1h-1zM40 1h3v1h-3zM20 2h1v1h-1zM23 2h1v1h-1zM32 2h1v1h-1zM59 2h1v1h-1zM31 3h1v1h-1zM39 3h1v1h-1zM46 3h1v1h-1zM49 3h1v1h-1zM54 3h1v1h-1zM57 3h1v1h-1zM13 4h1v1h-1zM16 4h1v1h-1zM38 4h1v1h-1zM44 4h1v1h-1zM15 5h1v1h-1zM24 5h1v1h-1zM28 5h1v1h-1zM50 5h1v1h-1zM53 5h1v1h-1zM55 5h1v1h-1zM8 6h1v1h-1zM13 6h1v1h-1zM8 7h1v1h-1zM16 7h1v1h-1zM19 7h1v1h-1zM22 7h1v1h-1zM39 7h1v1h-1zM6 8h2v1h-2zM25 8h1v1h-1zM32 8h1v1h-1zM43 8h1v1h-1zM59 8h1v1h-1zM4 9h1v1h-1zM21 9h1v1h-1zM35 9h1v1h-1zM47 9h1v1h-1zM13 10h1v1h-1zM48 10h1v1h-1zM57 10h1v1h-1zM1 11h1v1h-1zM14 11h1v1h-1zM31 11h1v1h-1zM36 11h1v1h-1zM54 11h1v1h-1zM57 11h1v1h-1zM22 12h1v1h-1zM31 12h1v1h-1zM58 12h1v1h-1zM4 13h1v1h-1zM6 13h1v1h-1zM10 13h1v1h-1zM26 13h1v1h-1zM40 13h1v1h-1zM47 13h1v1h-1zM53 13h1v1h-1zM11 14h1v1h-1zM35 14h1v1h-1zM50 14h1v1h-1zM55 14h1v1h-1zM5 15h1v1h-1zM17 15h2v1h-2zM33 15h1v1h-1zM39 15h1v1h-1zM49 15h1v1h-1zM54 15h1v1h-1zM4 16h1v1h-1zM7 16h1v1h-1zM43 16h1v1h-1zM60 16h1v1h-1zM15 17h1v1h-1zM24 17h1v1h-1zM26 17h1v1h-1zM41 17h1v1h-1zM53 17h1v1h-1zM11 18h1v1h-1zM25 18h1v1h-1zM7 19h1v1h-1zM24 19h1v1h-1zM51 19h1v1h-1zM18 20h1v1h-1zM54 20h1v1h-1zM58 20h1v1h-1zM1 21h1v1h-1zM9 21h1v1h-1zM38 21h1v1h-1zM7 22h1v1h-1zM10 22h1v1h-1zM12 22h1v1h-1zM41 22h1v1h-1zM33 23h1v1h-1zM54 23h1v1h-1zM5 24h1v1h-1zM14 24h1v1h-1zM17 24h1v1h-1zM19 24h1v1h-1zM18 25h1v1h-1zM36 25h1v1h-1zM8 26h1v1h-1zM13 26h1v1h-1zM54 26h1v1h-1zM2 27h1v1h-1zM36 27h1v1h-1zM58 27h1v1h-1zM5 28h1v1h-1zM46 28h1v1h-1zM48 28h1v1h-1zM53 29h1v1h-1zM60 29h1v1h-1zM1 30h1v1h-1zM37 30h1v1h-1zM48 30h2v1h-2zM52 30h1v1h-1zM0 31h1v1h-1zM11 31h1v1h-1zM34 31h1v1h-1zM50 31h1v1h-1zM2 32h1v1h-1zM8 32h1v1h-1zM33 32h1v1h-1zM37 32h1v1h-1zM48 32h1v1h-1zM15 33h1v1h-1zM23 33h1v1h-1zM40 33h1v1h-1zM55 33h1v1h-1zM31 34h1v1h-1zM37 34h1v1h-1zM2 35h1v1h-1zM9 35h1v1h-1zM36 35h1v1h-1zM48 35h1v1h-1zM11 36h1v1h-1zM25 36h1v1h-1zM27 36h1v1h-1zM35 36h1v1h-1zM50 36h1v1h-1zM0 37h1v1h-1zM30 37h1v1h-1zM34 37h1v1h-1zM0 38h1v1h-1zM4 38h1v1h-1zM21 38h1v1h-1zM32 38h1v1h-1zM56 38h1v1h-1zM3 39h1v1h-1zM7 39h1v1h-1zM15 39h1v1h-1zM30 39h1v1h-1zM50 39h1v1h-1zM56 39h1v1h-1zM1 40h1v1h-1zM13 40h1v1h-1zM33 40h1v1h-1zM1 41h1v1h-1zM5 41h1v1h-1zM17 41h1v1h-1zM22 41h1v1h-1zM48 41h1v1h-1zM1 42h1v1h-1zM16 43h1v1h-1zM29 43h1v1h-1zM31 43h1v1h-1zM30 44h1v1h-1zM50 44h1v1h-1zM59 44h1v1h-1zM46 45h1v1h-1zM52 45h1v1h-1zM3 46h1v1h-1zM28 46h1v1h-1zM45 46h1v1h-1zM13 47h1v1h-1zM52 47h1v1h-1zM10 48h1v1h-1zM30 48h1v1h-1zM32 48h1v1h-1zM35 48h1v1h-1zM41 48h1v1h-1zM55 48h1v1h-1zM0 49h1v1h-1zM3 49h1v1h-1zM15 49h1v1h-1zM30 49h1v1h-1zM13 50h2v1h-2zM31 50h1v1h-1zM36 50h1v1h-1zM39 50h1v1h-1zM44 50h1v1h-1zM19 51h1v1h-1zM30 52h1v1h-1zM34 52h1v1h-1zM45 52h1v1h-1zM47 52h1v1h-1zM59 52h1v1h-1zM5 53h1v1h-1zM13 53h1v1h-1zM17 53h1v1h-1zM54 53h1v1h-1zM58 53h1v1h-1zM15 54h1v1h-1zM23 54h1v1h-1zM26 54h1v1h-1zM47 54h1v1h-1zM53 54h1v1h-1zM55 54h1v1h-1zM33 55h1v1h-1zM48 55h1v1h-1zM38 56h1v1h-1zM3 57h1v1h-1zM10 57h2v1h-2zM28 57h1v1h-1zM60 57h1v1h-1zM12 58h1v1h-1zM20 58h1v1h-1zM27 58h1v1h-1zM53 58h1v1h-1zM59 58h1v1h-1zM2 59h1v1h-1zM8 59h1v1h-1zM44 59h1v1h-1zM48 59h1v1h-1zM52 59h1v1h-1zM58 59h1v1h-1zM16 60h1v1h-1zM29 60h1v1h-1zM57 60h1v1h-1z"/><path fill="#7b7bcf" d="M48 0h1v1h-1zM3 1h1v1h-1zM10 1h1v1h-1zM20 1h1v1h-1zM24 1h2v1h-2zM27 1h2v1h-2zM47 1h1v1h-1zM60 1h1v1h-1zM11 2h1v1h-1zM26 2h1v1h-1zM30 2h1v1h-1zM41 2h1v1h-1zM53 2h1v1h-1zM1 3h1v1h-1zM13 3h2v1h-2zM18 3h1v1h-1zM37 3h2v1h-2zM48 3h1v1h-1zM19 4h1v1h-1zM22 4h1v1h-1zM37 4h1v1h-1zM39 4h1v1h-1zM46 4h1v1h-1zM21 5h1v1h-1zM30 5h1v1h-1zM12 8h1v1h-1zM27 8h1v1h-1zM34 8h2v1h-2zM50 8h1v1h-1zM55 8h1v1h-1zM60 8h1v1h-1zM27 9h2v1h-2zM41 9h1v1h-1zM1 10h1v1h-1zM14 10h1v1h-1zM2 11h1v1h-1zM48 11h1v1h-1zM1 12h1v1h-1zM8 12h1v1h-1zM14 12h1v1h-1zM18 12h2v1h-2zM29 12h1v1h-1zM46 12h1v1h-1zM48 12h1v1h-1zM54 12h1v1h-1zM23 13h1v1h-1zM30 13h1v1h-1zM55 13h1v1h-1zM3 14h1v1h-1zM10 14h1v1h-1zM12 14h1v1h-1zM15 14h1v1h-1zM23 14h1v1h-1zM26 14h1v1h-1zM42 14h2v1h-2zM45 14h1v1h-1zM51 14h1v1h-1zM53 14h1v1h-1zM56 14h1v1h-1zM14 15h1v1h-1zM23 16h1v1h-1zM27 16h2v1h-2zM30 16h1v1h-1zM32 16h1v1h-1zM40 16h1v1h-1zM21 17h1v1h-1zM3 18h1v1h-1zM12 18h1v1h-1zM30 18h1v1h-1zM40 18h1v1h-1zM53 18h1v1h-1zM55 18h1v1h-1zM4 19h1v1h-1zM12 19h1v1h-1zM23 19h1v1h-1zM27 19h1v1h-1zM30 19h1v1h-1zM50 19h1v1h-1zM55 19h1v1h-1zM1 20h1v1h-1zM16 20h1v1h-1zM19 20h1v1h-1zM22 20h1v1h-1zM29 20h1v1h-1zM31 20h1v1h-1zM36 20h1v1h-1zM38 20h1v1h-1zM5 21h1v1h-1zM8 21h1v1h-1zM17 21h1v1h-1zM29 21h1v1h-1zM37 21h1v1h-1zM39 21h1v1h-1zM4 22h1v1h-1zM20 22h2v1h-2zM40 22h1v1h-1zM47 22h1v1h-1zM50 22h1v1h-1zM60 22h1v1h-1zM14 23h1v1h-1zM16 23h1v1h-1zM29 23h1v1h-1zM1 24h1v1h-1zM1 25h1v1h-1zM2 26h1v1h-1zM29 26h1v1h-1zM38 26h1v1h-1zM5 27h1v1h-1zM9 27h1v1h-1zM13 27h1v1h-1zM16 27h1v1h-1zM19 27h1v1h-1zM31 27h1v1h-1zM38 27h1v1h-1zM1 28h2v1h-2zM9 28h1v1h-1zM14 28h1v1h-1zM16 28h1v1h-1zM31 28h1v1h-1zM33 28h1v1h-1zM37 28h1v1h-1zM39 28h1v1h-1zM7 29h1v1h-1zM12 29h1v1h-1zM20 29h2v1h-2zM23 29h1v1h-1zM26 29h1v1h-1zM41 29h1v1h-1zM45 29h1v1h-1zM47 29h1v1h-1zM50 29h1v1h-1zM2 30h1v1h-1zM5 30h1v1h-1zM8 30h1v1h-1zM13 30h1v1h-1zM16 30h1v1h-1zM36 30h1v1h-1zM20 31h2v1h-2zM27 31h2v1h-2zM41 31h1v1h-1zM45 31h1v1h-1zM47 31h1v1h-1zM16 32h1v1h-1zM28 33h1v1h-1zM50 33h1v1h-1zM8 34h1v1h-1zM30 36h1v1h-1zM45 36h1v1h-1zM47 36h1v1h-1zM3 37h2v1h-2zM21 37h1v1h-1zM40 37h1v1h-1zM45 37h1v1h-1zM47 37h1v1h-1zM53 37h1v1h-1zM55 37h1v1h-1zM3 38h1v1h-1zM20 38h1v1h-1zM26 38h2v1h-2zM4 39h1v1h-1zM18 40h1v1h-1zM37 40h1v1h-1zM49 40h1v1h-1zM52 40h1v1h-1zM2 41h1v1h-1zM9 41h1v1h-1zM29 41h1v1h-1zM31 41h1v1h-1zM14 42h1v1h-1zM14 43h1v1h-1zM40 44h1v1h-1zM14 45h1v1h-1zM29 45h1v1h-1zM31 45h1v1h-1zM36 45h2v1h-2zM4 46h1v1h-1zM12 46h1v1h-1zM47 46h1v1h-1zM55 46h1v1h-1zM1 47h1v1h-1zM14 47h1v1h-1zM22 47h1v1h-1zM29 47h1v1h-1zM31 47h1v1h-1zM37 47h1v1h-1zM46 47h1v1h-1zM48 47h1v1h-1zM0 48h1v1h-1zM3 48h1v1h-1zM11 48h1v1h-1zM23 48h1v1h-1zM40 48h1v1h-1zM53 48h1v1h-1zM40 49h1v1h-1zM55 49h1v1h-1zM8 50h1v1h-1zM19 50h1v1h-1zM33 50h1v1h-1zM52 50h1v1h-1zM14 51h1v1h-1zM40 52h1v1h-1zM50 52h1v1h-1zM1 53h2v1h-2zM14 53h1v1h-1zM18 53h1v1h-1zM48 53h1v1h-1zM12 54h1v1h-1zM8 55h1v1h-1zM18 55h2v1h-2zM31 55h1v1h-1zM46 55h1v1h-1zM14 56h1v1h-1zM1 60h1v1h-1zM8 60h1v1h-1zM22 60h1v1h-1zM38 60h1v1h-1z"/></g>
<rect x="750" y="126" width="114.7" height="116.7" fill="none" stroke="#9fb3e6" stroke-width="0.5"/>
<rect x="750.3" y="126.3" width="74.4" height="76" fill="none" stroke="#3a45c8" stroke-width="0.9"/>
<text x="748.5" y="128.0" font-size="3.6" fill="#888" text-anchor="end">1</text>
<text x="748.5" y="203.5" font-size="3.6" fill="#888" text-anchor="end">40</text>
<text x="748.5" y="244.0" font-size="3.6" fill="#888" text-anchor="end">50</text>
<text x="751.0" y="248.0" font-size="3.6" fill="#888" text-anchor="middle">1</text>
<text x="825.0" y="248.0" font-size="3.6" fill="#888" text-anchor="middle">40</text>
<text x="863.0" y="248.0" font-size="3.6" fill="#888" text-anchor="middle">50</text>
<rect x="896.20" y="104.70" width="0.60" height="143.30" fill="#999"/>
<rect x="899.70" y="104.70" width="12.20" height="2.41" fill="#7fdca2"/>
<rect x="899.70" y="107.46" width="12.20" height="2.41" fill="#7fdca2"/>
<rect x="899.70" y="110.21" width="12.20" height="2.41" fill="#e07c5c"/>
<rect x="899.70" y="112.97" width="12.20" height="2.41" fill="#e07c5c"/>
<rect x="899.70" y="115.72" width="12.20" height="2.41" fill="#e07c5c"/>
<rect x="899.70" y="118.48" width="12.20" height="2.41" fill="#7fdca2"/>
<rect x="899.70" y="121.23" width="12.20" height="2.41" fill="#7fdca2"/>
<rect x="899.70" y="123.99" width="12.20" height="2.41" fill="#7fdca2"/>
<rect x="899.70" y="126.75" width="12.20" height="2.41" fill="#7fdca2"/>
<rect x="899.70" y="129.50" width="12.20" height="2.41" fill="#7fdca2"/>
<rect x="899.70" y="132.26" width="12.20" height="2.41" fill="#7fdca2"/>
<rect x="899.70" y="135.01" width="12.20" height="2.41" fill="#e07c5c"/>
<rect x="899.70" y="137.77" width="12.20" height="2.41" fill="#7fdca2"/>
<rect x="899.70" y="140.53" width="12.20" height="2.41" fill="#e07c5c"/>
<rect x="899.70" y="143.28" width="12.20" height="2.41" fill="#e07c5c"/>
<rect x="899.70" y="146.04" width="12.20" height="2.41" fill="#7fdca2"/>
<rect x="899.70" y="148.79" width="12.20" height="2.41" fill="#e07c5c"/>
<rect x="899.70" y="151.55" width="12.20" height="2.41" fill="#7fdca2"/>
<rect x="899.70" y="154.30" width="12.20" height="2.41" fill="#7fdca2"/>
<rect x="899.70" y="157.06" width="12.20" height="2.41" fill="#e07c5c"/>
<rect x="899.70" y="159.82" width="12.20" height="2.41" fill="#e07c5c"/>
<rect x="899.70" y="162.57" width="12.20" height="2.41" fill="#7fdca2"/>
<rect x="899.70" y="165.33" width="12.20" height="2.41" fill="#7fdca2"/>
<rect x="899.70" y="168.08" width="12.20" height="2.41" fill="#7fdca2"/>
<rect x="899.70" y="170.84" width="12.20" height="2.41" fill="#e07c5c"/>
<rect x="899.70" y="173.59" width="12.20" height="2.41" fill="#7fdca2"/>
<rect x="899.70" y="176.35" width="12.20" height="2.41" fill="#e07c5c"/>
<rect x="899.70" y="179.11" width="12.20" height="2.41" fill="#7fdca2"/>
<rect x="899.70" y="181.86" width="12.20" height="2.41" fill="#7fdca2"/>
<rect x="899.70" y="184.62" width="12.20" height="2.41" fill="#e07c5c"/>
<rect x="899.70" y="187.37" width="12.20" height="2.41" fill="#7fdca2"/>
<rect x="899.70" y="190.13" width="12.20" height="2.41" fill="#7fdca2"/>
<rect x="899.70" y="192.88" width="12.20" height="2.41" fill="#7fdca2"/>
<rect x="899.70" y="195.64" width="12.20" height="2.41" fill="#e07c5c"/>
<rect x="899.70" y="198.40" width="12.20" height="2.41" fill="#7fdca2"/>
<rect x="899.70" y="201.15" width="12.20" height="2.41" fill="#7fdca2"/>
<rect x="899.70" y="203.91" width="12.20" height="2.41" fill="#7fdca2"/>
<rect x="899.70" y="206.66" width="12.20" height="2.41" fill="#4a7a5e"/>
<rect x="899.70" y="209.42" width="12.20" height="2.41" fill="#e07c5c"/>
<rect x="899.70" y="212.18" width="12.20" height="2.41" fill="#7fdca2"/>
<rect x="899.70" y="214.93" width="12.20" height="2.41" fill="#7fdca2"/>
<rect x="899.70" y="217.69" width="12.20" height="2.41" fill="#e07c5c"/>
<rect x="899.70" y="220.44" width="12.20" height="2.41" fill="#7fdca2"/>
<rect x="899.70" y="223.20" width="12.20" height="2.41" fill="#4a7a5e"/>
<rect x="899.70" y="225.95" width="12.20" height="2.41" fill="#4a7a5e"/>
<rect x="899.70" y="228.71" width="12.20" height="2.41" fill="#e07c5c"/>
<rect x="899.70" y="231.47" width="12.20" height="2.41" fill="#7fdca2"/>
<rect x="899.70" y="234.22" width="12.20" height="2.41" fill="#7fdca2"/>
<rect x="899.70" y="236.98" width="12.20" height="2.41" fill="#e07c5c"/>
<rect x="899.70" y="239.73" width="12.20" height="2.41" fill="#7fdca2"/>
<rect x="899.70" y="242.49" width="12.20" height="2.41" fill="#e07c5c"/>
<rect x="899.70" y="245.24" width="12.20" height="2.41" fill="#7fdca2"/>
<rect x="894.80" y="106.09" width="1.40" height="0.50" fill="#999"/>
<text x="893.6" y="107.5" font-size="3.6" fill="#888" text-anchor="end">1</text>
<rect x="894.80" y="117.05" width="1.40" height="0.50" fill="#999"/>
<text x="893.6" y="118.5" font-size="3.6" fill="#888" text-anchor="end">5</text>
<rect x="894.80" y="130.75" width="1.40" height="0.50" fill="#999"/>
<text x="893.6" y="132.2" font-size="3.6" fill="#888" text-anchor="end">10</text>
<rect x="894.80" y="144.45" width="1.40" height="0.50" fill="#999"/>
<text x="893.6" y="145.9" font-size="3.6" fill="#888" text-anchor="end">15</text>
<rect x="894.80" y="158.15" width="1.40" height="0.50" fill="#999"/>
<text x="893.6" y="159.6" font-size="3.6" fill="#888" text-anchor="end">20</text>
<rect x="894.80" y="171.85" width="1.40" height="0.50" fill="#999"/>
<text x="893.6" y="173.3" font-size="3.6" fill="#888" text-anchor="end">25</text>
<rect x="894.80" y="185.55" width="1.40" height="0.50" fill="#999"/>
<text x="893.6" y="187.0" font-size="3.6" fill="#888" text-anchor="end">30</text>
<rect x="894.80" y="199.25" width="1.40" height="0.50" fill="#999"/>
<text x="893.6" y="200.7" font-size="3.6" fill="#888" text-anchor="end">35</text>
<rect x="894.80" y="211.31" width="1.40" height="0.50" fill="#999"/>
<text x="893.6" y="212.8" font-size="3.6" fill="#888" text-anchor="end">40</text>
<rect x="894.80" y="214.05" width="1.40" height="0.50" fill="#999"/>
<text x="893.6" y="215.5" font-size="3.6" fill="#888" text-anchor="end">37</text>
<rect x="894.80" y="229.39" width="1.40" height="0.50" fill="#999"/>
<text x="893.6" y="230.8" font-size="3.6" fill="#888" text-anchor="end">46</text>
<rect x="894.80" y="243.09" width="1.40" height="0.50" fill="#999"/>
<text x="893.6" y="244.5" font-size="3.6" fill="#888" text-anchor="end">51</text>
<text x="951.1" y="58.6" font-size="6.8" fill="#3a3a3a" font-weight="bold" textLength="61.6" lengthAdjust="spacingAndGlyphs">Individual Inspection</text>
<rect x="951.00" y="60.30" width="143.00" height="0.80" fill="#d6d6d6"/>
<rect x="951.20" y="67.10" width="1.50" height="1.50" fill="#5cb85c"/>
<text x="956.6" y="69.7" font-size="5.9" fill="#4a90d9" textLength="31.0" lengthAdjust="spacingAndGlyphs">INSTANCE ID:</text>
<rect x="951.20" y="76.10" width="1.50" height="1.50" fill="#5cb85c"/>
<text x="956.6" y="78.7" font-size="5.9" textLength="49.7" lengthAdjust="spacingAndGlyphs">Ranking: undefined</text>
<rect x="951.20" y="85.00" width="1.50" height="1.50" fill="#5cb85c"/>
<text x="956.6" y="87.6" font-size="5.9" textLength="16.6" lengthAdjust="spacingAndGlyphs">rNN: 0</text>
<rect x="951.20" y="93.90" width="1.50" height="1.50" fill="#5cb85c"/>
<text x="956.6" y="96.5" font-size="5.9" textLength="33.2" lengthAdjust="spacingAndGlyphs">rNN (gain): 0</text>
<rect x="951.00" y="102.80" width="142.60" height="8.90" fill="#ededed"/>
<text x="952.5" y="109.3" font-size="5.4" fill="#3a3a3a" font-weight="bold" textLength="17.5" lengthAdjust="spacingAndGlyphs">Feature</text>
<text x="1037.7" y="109.3" font-size="5.4" fill="#3a3a3a" font-weight="bold" textLength="22.6" lengthAdjust="spacingAndGlyphs">Individual</text>
<text x="1066.3" y="109.3" font-size="5.4" fill="#3a3a3a" font-weight="bold" textLength="23.9" lengthAdjust="spacingAndGlyphs">Neighbors</text>
<line x1="951.00" y1="111.70" x2="1093.60" y2="111.70" stroke="#e6e6e6" stroke-width="0.6"/>
<text x="952.5" y="118.3" font-size="5.15" fill="#666">account check status</text>
<line x1="951.00" y1="121.05" x2="1093.60" y2="121.05" stroke="#e6e6e6" stroke-width="0.6"/>
<text x="952.5" y="127.6" font-size="5.15" fill="#666">credit history</text>
<line x1="951.00" y1="130.40" x2="1093.60" y2="130.40" stroke="#e6e6e6" stroke-width="0.6"/>
<text x="952.5" y="137.0" font-size="5.15" fill="#666">credit amount</text>
<line x1="951.00" y1="139.75" x2="1093.60" y2="139.75" stroke="#e6e6e6" stroke-width="0.6"/>
<text x="952.5" y="146.3" font-size="5.15" fill="#666">present employment since</text>
<line x1="951.00" y1="149.10" x2="1093.60" y2="149.10" stroke="#e6e6e6" stroke-width="0.6"/>
<text x="952.5" y="155.7" font-size="5.15" fill="#666">age in years</text>
<line x1="951.00" y1="158.45" x2="1093.60" y2="158.45" stroke="#e6e6e6" stroke-width="0.6"/>
<text x="952.5" y="165.0" font-size="5.15" fill="#666">foreign worker</text>
<line x1="951.00" y1="167.80" x2="1093.60" y2="167.80" stroke="#e6e6e6" stroke-width="0.6"/>
<text x="952.5" y="174.4" font-size="5.15" fill="#666">job</text>
<line x1="951.00" y1="177.15" x2="1093.60" y2="177.15" stroke="#e6e6e6" stroke-width="0.6"/>
<line x1="951.30" y1="102.80" x2="951.30" y2="177.15" stroke="#e6e6e6" stroke-width="0.6"/>
<line x1="1036.00" y1="102.80" x2="1036.00" y2="177.15" stroke="#e6e6e6" stroke-width="0.6"/>
<line x1="1065.20" y1="102.80" x2="1065.20" y2="177.15" stroke="#e6e6e6" stroke-width="0.6"/>
<line x1="1093.30" y1="102.80" x2="1093.30" y2="177.15" stroke="#e6e6e6" stroke-width="0.6"/>
<text x="950.8" y="212.4" font-size="6.8" fill="#3a3a3a" font-weight="bold" textLength="51.2" lengthAdjust="spacingAndGlyphs">Group Inspection</text>
<rect x="951.00" y="214.90" width="143.00" height="0.80" fill="#d6d6d6"/>
<rect x="951.20" y="220.90" width="1.50" height="1.50" fill="#5cb85c"/>
<text x="956.6" y="223.5" font-size="5.9" textLength="83.8" lengthAdjust="spacingAndGlyphs">rNN (non-protected group): 0.38</text>
<rect x="951.20" y="230.10" width="1.50" height="1.50" fill="#5cb85c"/>
<text x="956.6" y="232.7" font-size="5.9" textLength="72.2" lengthAdjust="spacingAndGlyphs">rNN (protected group): 0.38</text>
<rect x="951.00" y="240.00" width="142.60" height="15.30" fill="#ededed"/>
<text x="952.5" y="249.7" font-size="5.4" fill="#3a3a3a" font-weight="bold" textLength="17.5" lengthAdjust="spacingAndGlyphs">Feature</text>
<text x="1037.5" y="246.0" font-size="5.4" fill="#3a3a3a" font-weight="bold" textLength="10.0" lengthAdjust="spacingAndGlyphs">Non-</text>
<text x="1037.5" y="253.0" font-size="5.4" fill="#3a3a3a" font-weight="bold" textLength="23.0" lengthAdjust="spacingAndGlyphs">protected</text>
<text x="1066.5" y="249.7" font-size="5.4" fill="#3a3a3a" font-weight="bold" textLength="22.0" lengthAdjust="spacingAndGlyphs">Protected</text>
<line x1="951.00" y1="255.30" x2="1093.60" y2="255.30" stroke="#e6e6e6" stroke-width="0.6"/>
<text x="952.5" y="261.8" font-size="5.15" fill="#666">account check status</text>
<text x="1037.5" y="261.8" font-size="5.15" fill="#666">1.67</text>
<text x="1066.5" y="261.8" font-size="5.15" fill="#666">1.46</text>
<line x1="951.00" y1="264.60" x2="1093.60" y2="264.60" stroke="#e6e6e6" stroke-width="0.6"/>
<text x="952.5" y="271.1" font-size="5.15" fill="#666">credit history</text>
<text x="1037.5" y="271.1" font-size="5.15" fill="#666">2.66</text>
<text x="1066.5" y="271.1" font-size="5.15" fill="#666">2.27</text>
<line x1="951.00" y1="273.90" x2="1093.60" y2="273.90" stroke="#e6e6e6" stroke-width="0.6"/>
<text x="952.5" y="280.4" font-size="5.15" fill="#666">credit amount</text>
<text x="1037.5" y="280.4" font-size="5.15" fill="#666">3730.19</text>
<text x="1066.5" y="280.4" font-size="5.15" fill="#666">2668.69</text>
<line x1="951.00" y1="283.20" x2="1093.60" y2="283.20" stroke="#e6e6e6" stroke-width="0.6"/>
<line x1="951.30" y1="240.00" x2="951.30" y2="283.20" stroke="#e6e6e6" stroke-width="0.6"/>
<line x1="1036.00" y1="240.00" x2="1036.00" y2="283.20" stroke="#e6e6e6" stroke-width="0.6"/>
<line x1="1065.20" y1="240.00" x2="1065.20" y2="283.20" stroke="#e6e6e6" stroke-width="0.6"/>
<line x1="1093.30" y1="240.00" x2="1093.30" y2="283.20" stroke="#e6e6e6" stroke-width="0.6"/>
<g clip-path="url(#clip4)"><defs><clipPath id="clip4"><rect x="950" y="283.6" width="145" height="4.4"/></clipPath></defs>
<text x="952.5" y="289.9" font-size="5.4" fill="#666">present employment since</text>
<text x="1037.5" y="289.9" font-size="5.4" fill="#666">3.5</text>
<text x="1066.5" y="289.9" font-size="5.4" fill="#666">3</text>
</g>
<line x1="951.30" y1="283.60" x2="951.30" y2="288.80" stroke="#e6e6e6" stroke-width="0.6"/>
<line x1="1036.00" y1="283.60" x2="1036.00" y2="288.80" stroke="#e6e6e6" stroke-width="0.6"/>
<line x1="1065.20" y1="283.60" x2="1065.20" y2="288.80" stroke="#e6e6e6" stroke-width="0.6"/>
<line x1="1093.30" y1="283.60" x2="1093.30" y2="288.80" stroke="#e6e6e6" stroke-width="0.6"/>
<rect x="610.50" y="251.20" width="337.00" height="0.70" fill="#ececec"/>
<rect x="610.50" y="290.60" width="484.00" height="0.60" fill="#f0f0f0"/>
<rect x="1101.30" y="179.60" width="0.80" height="283.00" fill="#e4e4e4"/>
<rect x="614.20" y="292.00" width="479.60" height="13.40" fill="#163364"/>
<rect x="608.80" y="296.50" width="1.20" height="5.00" fill="#c9d6ea"/>
<text x="618.0" y="301.1" font-size="5.6" fill="#eef1f6" font-weight="bold" textLength="53.6" lengthAdjust="spacingAndGlyphs">FEATURE INSPECTOR</text>
<rect x="614.20" y="309.90" width="479.60" height="8.50" fill="#f0f0f0"/>
<text x="615.2" y="316.1" font-size="5.4" fill="#2e2e2e" textLength="17.3" lengthAdjust="spacingAndGlyphs" stroke="#2e2e2e" stroke-width="0.12">Feature</text>
<text x="654.4" y="316.1" font-size="5.4" fill="#2e2e2e" textLength="20.0" lengthAdjust="spacingAndGlyphs" stroke="#2e2e2e" stroke-width="0.12">Measure</text>
<text x="684.3" y="316.1" font-size="5.4" fill="#2e2e2e" textLength="15.5" lengthAdjust="spacingAndGlyphs" stroke="#2e2e2e" stroke-width="0.12">Outlier</text>
<text x="810.2" y="316.1" font-size="5.4" fill="#2e2e2e" textLength="3.6" lengthAdjust="spacingAndGlyphs" stroke="#2e2e2e" stroke-width="0.12">U</text>
<text x="844.4" y="316.1" font-size="5.4" fill="#2e2e2e" textLength="3.2" lengthAdjust="spacingAndGlyphs" stroke="#2e2e2e" stroke-width="0.12">F</text>
<text x="878.7" y="316.1" font-size="5.4" fill="#2e2e2e" textLength="29.2" lengthAdjust="spacingAndGlyphs" stroke="#2e2e2e" stroke-width="0.12">Perturbation</text>
<line x1="614.50" y1="367.20" x2="1094.50" y2="367.20" stroke="#ececec" stroke-width="0.7"/>
<line x1="614.50" y1="416.50" x2="1094.50" y2="416.50" stroke="#ececec" stroke-width="0.7"/>
<line x1="614.50" y1="463.40" x2="1094.50" y2="463.40" stroke="#ececec" stroke-width="0.7"/>
<rect x="746.00" y="346.20" width="1.45" height="12.40" fill="#c4c4c4"/>
<rect x="747.50" y="338.10" width="1.45" height="20.50" fill="#c4c4c4"/>
<rect x="749.00" y="344.20" width="1.45" height="14.40" fill="#c4c4c4"/>
<rect x="750.60" y="330.00" width="1.45" height="28.60" fill="#c4c4c4"/>
<rect x="752.10" y="341.20" width="1.45" height="17.40" fill="#c4c4c4"/>
<rect x="753.70" y="333.10" width="1.45" height="25.50" fill="#c4c4c4"/>
<rect x="755.20" y="344.20" width="1.45" height="14.40" fill="#c4c4c4"/>
<rect x="756.70" y="344.20" width="1.45" height="14.40" fill="#c4c4c4"/>
<rect x="758.30" y="349.20" width="1.45" height="9.40" fill="#c4c4c4"/>
<rect x="759.80" y="339.70" width="1.45" height="18.90" fill="#c4c4c4"/>
<rect x="761.40" y="351.20" width="1.45" height="7.40" fill="#c4c4c4"/>
<rect x="762.90" y="345.20" width="1.45" height="13.40" fill="#c4c4c4"/>
<rect x="764.40" y="352.20" width="1.45" height="6.40" fill="#c4c4c4"/>
<rect x="766.00" y="346.70" width="1.45" height="11.90" fill="#c4c4c4"/>
<rect x="767.50" y="352.20" width="1.45" height="6.40" fill="#c4c4c4"/>
<rect x="769.10" y="349.20" width="1.45" height="9.40" fill="#c4c4c4"/>
<rect x="770.60" y="350.50" width="1.45" height="8.10" fill="#c4c4c4"/>
<rect x="774.60" y="355.80" width="1.45" height="2.80" fill="#c4c4c4"/>
<rect x="688.60" y="358.20" width="87.20" height="0.90" fill="#8a8a8a"/>
<rect x="696.30" y="358.60" width="0.60" height="1.60" fill="#888"/>
<text x="696.6" y="364.8" font-size="3.6" fill="#999" text-anchor="middle">6</text>
<rect x="704.17" y="358.60" width="0.60" height="1.60" fill="#888"/>
<text x="704.5" y="364.8" font-size="3.6" fill="#999" text-anchor="middle">12</text>
<rect x="712.04" y="358.60" width="0.60" height="1.60" fill="#888"/>
<text x="712.3" y="364.8" font-size="3.6" fill="#999" text-anchor="middle">18</text>
<rect x="719.91" y="358.60" width="0.60" height="1.60" fill="#888"/>
<text x="720.2" y="364.8" font-size="3.6" fill="#999" text-anchor="middle">24</text>
<rect x="727.78" y="358.60" width="0.60" height="1.60" fill="#888"/>
<text x="728.1" y="364.8" font-size="3.6" fill="#999" text-anchor="middle">30</text>
<rect x="735.65" y="358.60" width="0.60" height="1.60" fill="#888"/>
<text x="736.0" y="364.8" font-size="3.6" fill="#999" text-anchor="middle">36</text>
<rect x="743.52" y="358.60" width="0.60" height="1.60" fill="#888"/>
<text x="743.8" y="364.8" font-size="3.6" fill="#999" text-anchor="middle">42</text>
<rect x="751.39" y="358.60" width="0.60" height="1.60" fill="#888"/>
<text x="751.7" y="364.8" font-size="3.6" fill="#999" text-anchor="middle">48</text>
<rect x="759.26" y="358.60" width="0.60" height="1.60" fill="#888"/>
<text x="759.6" y="364.8" font-size="3.6" fill="#999" text-anchor="middle">54</text>
<rect x="767.13" y="358.60" width="0.60" height="1.60" fill="#888"/>
<text x="767.4" y="364.8" font-size="3.6" fill="#999" text-anchor="middle">60</text>
<rect x="775.00" y="358.60" width="0.60" height="1.60" fill="#888"/>
<text x="775.3" y="364.8" font-size="3.6" fill="#999" text-anchor="middle">66</text>
<rect x="688.30" y="358.60" width="0.60" height="1.60" fill="#888"/>
<rect x="691.80" y="371.50" width="11.50" height="35.50" fill="url(#cg)"/>
<rect x="713.80" y="371.50" width="9.20" height="35.50" fill="url(#cg)"/>
<rect x="723.00" y="404.50" width="2.00" height="2.50" fill="url(#cg)"/>
<rect x="735.80" y="378.60" width="1.90" height="28.40" fill="url(#cg)"/>
<rect x="757.40" y="371.10" width="14.30" height="35.90" fill="url(#cg)"/>
<rect x="771.70" y="377.70" width="1.50" height="29.30" fill="url(#cg)"/>
<rect x="691.80" y="389.70" width="2.10" height="17.30" fill="url(#cr)"/>
<rect x="713.80" y="392.00" width="2.10" height="15.00" fill="url(#cr)"/>
<rect x="757.40" y="396.60" width="2.50" height="10.40" fill="url(#cr)"/>
<rect x="684.60" y="407.20" width="88.00" height="0.90" fill="#8a8a8a"/>
<rect x="694.70" y="407.60" width="0.60" height="1.60" fill="#888"/>
<text x="695.0" y="412.9" font-size="3.8" fill="#999" text-anchor="middle">0</text>
<rect x="717.20" y="407.60" width="0.60" height="1.60" fill="#888"/>
<text x="717.5" y="412.9" font-size="3.8" fill="#999" text-anchor="middle">1</text>
<rect x="738.70" y="407.60" width="0.60" height="1.60" fill="#888"/>
<text x="739.0" y="412.9" font-size="3.8" fill="#999" text-anchor="middle">2</text>
<rect x="760.70" y="407.60" width="0.60" height="1.60" fill="#888"/>
<text x="761.0" y="412.9" font-size="3.8" fill="#999" text-anchor="middle">3</text>
<rect x="690.40" y="439.40" width="1.90" height="16.20" fill="url(#cg)"/>
<rect x="707.60" y="420.00" width="2.10" height="35.60" fill="url(#cg)"/>
<rect x="709.70" y="448.00" width="2.20" height="7.60" fill="url(#cg)"/>
<rect x="725.20" y="420.00" width="19.70" height="35.60" fill="url(#cg)"/>
<rect x="744.90" y="440.80" width="2.90" height="14.80" fill="url(#cg)"/>
<rect x="760.70" y="420.30" width="8.80" height="35.30" fill="url(#cg)"/>
<rect x="769.50" y="443.00" width="3.30" height="12.60" fill="url(#cg)"/>
<rect x="690.40" y="452.00" width="1.90" height="3.60" fill="url(#cr)"/>
<rect x="725.20" y="447.60" width="2.30" height="8.00" fill="url(#cr)"/>
<rect x="742.70" y="447.60" width="2.30" height="8.00" fill="url(#cr)"/>
<rect x="760.70" y="431.40" width="2.60" height="24.20" fill="url(#cr)"/>
<rect x="684.60" y="455.80" width="88.00" height="0.90" fill="#8a8a8a"/>
<rect x="692.70" y="456.20" width="0.60" height="1.60" fill="#888"/>
<text x="693.0" y="461.5" font-size="3.8" fill="#999" text-anchor="middle">0</text>
<rect x="710.30" y="456.20" width="0.60" height="1.60" fill="#888"/>
<text x="710.6" y="461.5" font-size="3.8" fill="#999" text-anchor="middle">1</text>
<rect x="727.90" y="456.20" width="0.60" height="1.60" fill="#888"/>
<text x="728.2" y="461.5" font-size="3.8" fill="#999" text-anchor="middle">2</text>
<rect x="745.70" y="456.20" width="0.60" height="1.60" fill="#888"/>
<text x="746.0" y="461.5" font-size="3.8" fill="#999" text-anchor="middle">3</text>
<rect x="762.70" y="456.20" width="0.60" height="1.60" fill="#888"/>
<text x="763.0" y="461.5" font-size="3.8" fill="#999" text-anchor="middle">4</text>
<text x="614.8" y="390.0" font-size="5.4" fill="#6a6a6a" textLength="23.9" lengthAdjust="spacingAndGlyphs">ACCOUNT</text>
<text x="614.8" y="397.6" font-size="5.4" fill="#6a6a6a" textLength="36.4" lengthAdjust="spacingAndGlyphs">CHECK STATUS</text>
<text x="654.5" y="393.6" font-size="5.4" fill="#808080" textLength="10.5" lengthAdjust="spacingAndGlyphs">0.48</text>
<text x="810.2" y="393.8" font-size="5.4" fill="#808080" textLength="8.2" lengthAdjust="spacingAndGlyphs">-3%</text>
<text x="844.0" y="393.8" font-size="5.4" fill="#808080" textLength="10.4" lengthAdjust="spacingAndGlyphs">0.33</text>
<text x="614.8" y="439.1" font-size="5.4" fill="#6a6a6a" textLength="18.5" lengthAdjust="spacingAndGlyphs">CREDIT</text>
<text x="614.8" y="446.5" font-size="5.4" fill="#6a6a6a" textLength="21.5" lengthAdjust="spacingAndGlyphs">HISTORY</text>
<text x="654.5" y="442.5" font-size="5.4" fill="#808080" textLength="10.5" lengthAdjust="spacingAndGlyphs">0.44</text>
<text x="810.2" y="442.6" font-size="5.4" fill="#808080" textLength="11.0" lengthAdjust="spacingAndGlyphs">-10%</text>
<text x="844.0" y="442.6" font-size="5.4" fill="#808080" textLength="10.4" lengthAdjust="spacingAndGlyphs">0.33</text>
<rect x="882.30" y="339.30" width="106.70" height="7.50" fill="#5b8fd8"/>
<rect x="884.15" y="339.30" width="0.50" height="7.50" fill="#c8daf4"/>
<rect x="886.52" y="339.30" width="0.50" height="7.50" fill="#c8daf4"/>
<rect x="888.89" y="339.30" width="0.50" height="7.50" fill="#c8daf4"/>
<rect x="891.26" y="339.30" width="0.50" height="7.50" fill="#c8daf4"/>
<rect x="893.63" y="339.30" width="0.50" height="7.50" fill="#c8daf4"/>
<rect x="896.00" y="339.30" width="0.50" height="7.50" fill="#c8daf4"/>
<rect x="898.37" y="339.30" width="0.50" height="7.50" fill="#c8daf4"/>
<rect x="900.74" y="339.30" width="0.50" height="7.50" fill="#c8daf4"/>
<rect x="903.11" y="339.30" width="0.50" height="7.50" fill="#c8daf4"/>
<rect x="905.48" y="339.30" width="0.50" height="7.50" fill="#c8daf4"/>
<rect x="907.85" y="339.30" width="0.50" height="7.50" fill="#c8daf4"/>
<rect x="910.22" y="339.30" width="0.50" height="7.50" fill="#c8daf4"/>
<rect x="912.59" y="339.30" width="0.50" height="7.50" fill="#c8daf4"/>
<rect x="914.96" y="339.30" width="0.50" height="7.50" fill="#c8daf4"/>
<rect x="917.33" y="339.30" width="0.50" height="7.50" fill="#c8daf4"/>
<rect x="919.70" y="339.30" width="0.50" height="7.50" fill="#c8daf4"/>
<rect x="922.07" y="339.30" width="0.50" height="7.50" fill="#c8daf4"/>
<rect x="924.44" y="339.30" width="0.50" height="7.50" fill="#c8daf4"/>
<rect x="926.81" y="339.30" width="0.50" height="7.50" fill="#c8daf4"/>
<rect x="929.18" y="339.30" width="0.50" height="7.50" fill="#c8daf4"/>
<rect x="931.55" y="339.30" width="0.50" height="7.50" fill="#c8daf4"/>
<rect x="933.92" y="339.30" width="0.50" height="7.50" fill="#c8daf4"/>
<rect x="936.29" y="339.30" width="0.50" height="7.50" fill="#c8daf4"/>
<rect x="938.66" y="339.30" width="0.50" height="7.50" fill="#c8daf4"/>
<rect x="941.03" y="339.30" width="0.50" height="7.50" fill="#c8daf4"/>
<rect x="943.40" y="339.30" width="0.50" height="7.50" fill="#c8daf4"/>
<rect x="945.77" y="339.30" width="0.50" height="7.50" fill="#c8daf4"/>
<rect x="948.14" y="339.30" width="0.50" height="7.50" fill="#c8daf4"/>
<rect x="950.51" y="339.30" width="0.50" height="7.50" fill="#c8daf4"/>
<rect x="952.88" y="339.30" width="0.50" height="7.50" fill="#c8daf4"/>
<rect x="955.25" y="339.30" width="0.50" height="7.50" fill="#c8daf4"/>
<rect x="957.62" y="339.30" width="0.50" height="7.50" fill="#c8daf4"/>
<rect x="959.99" y="339.30" width="0.50" height="7.50" fill="#c8daf4"/>
<rect x="962.36" y="339.30" width="0.50" height="7.50" fill="#c8daf4"/>
<rect x="964.73" y="339.30" width="0.50" height="7.50" fill="#c8daf4"/>
<rect x="967.10" y="339.30" width="0.50" height="7.50" fill="#c8daf4"/>
<rect x="969.47" y="339.30" width="0.50" height="7.50" fill="#c8daf4"/>
<rect x="971.84" y="339.30" width="0.50" height="7.50" fill="#c8daf4"/>
<rect x="974.21" y="339.30" width="0.50" height="7.50" fill="#c8daf4"/>
<rect x="976.58" y="339.30" width="0.50" height="7.50" fill="#c8daf4"/>
<rect x="978.95" y="339.30" width="0.50" height="7.50" fill="#c8daf4"/>
<rect x="981.32" y="339.30" width="0.50" height="7.50" fill="#c8daf4"/>
<rect x="983.69" y="339.30" width="0.50" height="7.50" fill="#c8daf4"/>
<rect x="986.06" y="339.30" width="0.50" height="7.50" fill="#c8daf4"/>
<rect x="988.43" y="339.30" width="0.50" height="7.50" fill="#c8daf4"/>
<path d="M989,340.2L1050.2,344.2L1050.2,346.6L989,346.6Z" fill="#e8e8e8"/>
<rect x="882.00" y="350.85" width="168.50" height="0.90" fill="#8a8a8a"/>
<rect x="883.60" y="351.30" width="0.60" height="1.70" fill="#777"/>
<text x="883.9" y="355.9" font-size="3.6" fill="#999" text-anchor="middle">1</text>
<rect x="894.20" y="351.30" width="0.60" height="1.70" fill="#777"/>
<text x="894.5" y="355.9" font-size="3.6" fill="#999" text-anchor="middle">5</text>
<rect x="908.00" y="351.30" width="0.60" height="1.70" fill="#777"/>
<text x="908.3" y="355.9" font-size="3.6" fill="#999" text-anchor="middle">10</text>
<rect x="920.70" y="351.30" width="0.60" height="1.70" fill="#777"/>
<text x="921.0" y="355.9" font-size="3.6" fill="#999" text-anchor="middle">15</text>
<rect x="934.30" y="351.30" width="0.60" height="1.70" fill="#777"/>
<text x="934.6" y="355.9" font-size="3.6" fill="#999" text-anchor="middle">20</text>
<rect x="947.70" y="351.30" width="0.60" height="1.70" fill="#777"/>
<text x="948.0" y="355.9" font-size="3.6" fill="#999" text-anchor="middle">25</text>
<rect x="961.20" y="351.30" width="0.60" height="1.70" fill="#777"/>
<text x="961.5" y="355.9" font-size="3.6" fill="#999" text-anchor="middle">30</text>
<rect x="974.20" y="351.30" width="0.60" height="1.70" fill="#777"/>
<text x="974.5" y="355.9" font-size="3.6" fill="#999" text-anchor="middle">35</text>
<rect x="988.20" y="351.30" width="0.60" height="1.70" fill="#777"/>
<text x="988.5" y="355.9" font-size="3.6" fill="#999" text-anchor="middle">41</text>
<rect x="994.10" y="351.30" width="0.60" height="1.70" fill="#777"/>
<text x="994.4" y="355.9" font-size="3.6" fill="#999" text-anchor="middle">50</text>
<rect x="1009.20" y="351.30" width="0.60" height="1.70" fill="#777"/>
<text x="1009.5" y="355.9" font-size="3.6" fill="#999" text-anchor="middle">80</text>
<rect x="1024.40" y="351.30" width="0.60" height="1.70" fill="#777"/>
<text x="1024.7" y="355.9" font-size="3.6" fill="#999" text-anchor="middle">110</text>
<rect x="1040.10" y="351.30" width="0.60" height="1.70" fill="#777"/>
<text x="1040.4" y="355.9" font-size="3.6" fill="#999" text-anchor="middle">140</text>
<rect x="882.50" y="395.90" width="2.05" height="2.40" fill="#7fdca2"/>
<rect x="884.91" y="395.90" width="2.05" height="2.40" fill="#e07c5c"/>
<rect x="887.32" y="395.90" width="2.05" height="2.40" fill="#e07c5c"/>
<rect x="889.73" y="395.90" width="2.05" height="2.40" fill="#7fdca2"/>
<rect x="892.14" y="395.90" width="2.05" height="2.40" fill="#7fdca2"/>
<rect x="894.55" y="395.90" width="2.05" height="2.40" fill="#e07c5c"/>
<rect x="896.96" y="395.90" width="2.05" height="2.40" fill="#e07c5c"/>
<rect x="899.37" y="395.90" width="2.05" height="2.40" fill="#8a4a3a"/>
<rect x="901.78" y="395.90" width="2.05" height="2.40" fill="#e07c5c"/>
<rect x="904.19" y="395.90" width="2.05" height="2.40" fill="#7fdca2"/>
<rect x="906.60" y="395.90" width="2.05" height="2.40" fill="#e07c5c"/>
<rect x="909.01" y="395.90" width="2.05" height="2.40" fill="#7fdca2"/>
<rect x="911.42" y="395.90" width="2.05" height="2.40" fill="#e07c5c"/>
<rect x="913.83" y="395.90" width="2.05" height="2.40" fill="#7fdca2"/>
<rect x="916.24" y="395.90" width="2.05" height="2.40" fill="#e07c5c"/>
<rect x="918.65" y="395.90" width="2.05" height="2.40" fill="#7fdca2"/>
<rect x="921.06" y="395.90" width="2.05" height="2.40" fill="#7fdca2"/>
<rect x="923.47" y="395.90" width="2.05" height="2.40" fill="#8a4a3a"/>
<rect x="925.88" y="395.90" width="2.05" height="2.40" fill="#e07c5c"/>
<rect x="928.29" y="395.90" width="2.05" height="2.40" fill="#e07c5c"/>
<rect x="930.70" y="395.90" width="2.05" height="2.40" fill="#e07c5c"/>
<rect x="933.11" y="395.90" width="2.05" height="2.40" fill="#e07c5c"/>
<rect x="935.52" y="395.90" width="2.05" height="2.40" fill="#e07c5c"/>
<rect x="937.93" y="395.90" width="2.05" height="2.40" fill="#8a4a3a"/>
<rect x="940.34" y="395.90" width="2.05" height="2.40" fill="#7fdca2"/>
<rect x="942.75" y="395.90" width="2.05" height="2.40" fill="#7fdca2"/>
<rect x="945.16" y="395.90" width="2.05" height="2.40" fill="#8a4a3a"/>
<rect x="947.57" y="395.90" width="2.05" height="2.40" fill="#7fdca2"/>
<rect x="949.98" y="395.90" width="2.05" height="2.40" fill="#e07c5c"/>
<rect x="952.39" y="395.90" width="2.05" height="2.40" fill="#e07c5c"/>
<rect x="954.80" y="395.90" width="2.05" height="2.40" fill="#8a4a3a"/>
<rect x="957.21" y="395.90" width="2.05" height="2.40" fill="#7fdca2"/>
<rect x="959.62" y="395.90" width="2.05" height="2.40" fill="#8a4a3a"/>
<rect x="962.03" y="395.90" width="2.05" height="2.40" fill="#7fdca2"/>
<rect x="964.44" y="395.90" width="2.05" height="2.40" fill="#7fdca2"/>
<rect x="966.85" y="395.90" width="2.05" height="2.40" fill="#e07c5c"/>
<rect x="969.26" y="395.90" width="2.05" height="2.40" fill="#7fdca2"/>
<rect x="971.67" y="395.90" width="2.05" height="2.40" fill="#7fdca2"/>
<rect x="974.08" y="395.90" width="2.05" height="2.40" fill="#7fdca2"/>
<rect x="976.49" y="395.90" width="2.05" height="2.40" fill="#7fdca2"/>
<rect x="978.90" y="395.90" width="2.05" height="2.40" fill="#e07c5c"/>
<rect x="981.31" y="395.90" width="2.05" height="2.40" fill="#e07c5c"/>
<rect x="983.72" y="395.90" width="2.05" height="2.40" fill="#8a4a3a"/>
<rect x="986.13" y="395.90" width="2.05" height="2.40" fill="#e07c5c"/>
<rect x="885.30" y="388.79" width="2.00" height="6.91" fill="#3b5fcc"/>
<rect x="904.30" y="389.01" width="2.00" height="6.69" fill="#3b5fcc"/>
<rect x="909.20" y="388.43" width="2.00" height="7.27" fill="#3b5fcc"/>
<rect x="912.50" y="388.88" width="2.00" height="6.82" fill="#3b5fcc"/>
<rect x="925.40" y="388.49" width="2.00" height="7.21" fill="#3b5fcc"/>
<rect x="930.90" y="389.03" width="2.00" height="6.67" fill="#3b5fcc"/>
<rect x="938.70" y="388.97" width="2.00" height="6.73" fill="#3b5fcc"/>
<rect x="959.90" y="388.11" width="2.00" height="7.59" fill="#3b5fcc"/>
<rect x="970.70" y="388.15" width="2.00" height="7.55" fill="#3b5fcc"/>
<rect x="976.00" y="388.24" width="2.00" height="7.46" fill="#3b5fcc"/>
<rect x="895.70" y="393.21" width="1.80" height="2.49" fill="#7d7d7d"/>
<rect x="898.60" y="391.78" width="1.80" height="3.92" fill="#7d7d7d"/>
<rect x="914.70" y="392.29" width="1.80" height="3.41" fill="#7d7d7d"/>
<rect x="919.70" y="391.41" width="1.80" height="4.29" fill="#7d7d7d"/>
<rect x="923.00" y="391.97" width="1.80" height="3.73" fill="#7d7d7d"/>
<rect x="928.00" y="391.64" width="1.80" height="4.06" fill="#7d7d7d"/>
<rect x="936.30" y="391.55" width="1.80" height="4.15" fill="#7d7d7d"/>
<rect x="946.70" y="392.18" width="1.80" height="3.52" fill="#7d7d7d"/>
<rect x="965.00" y="392.18" width="1.80" height="3.52" fill="#7d7d7d"/>
<rect x="978.90" y="393.04" width="1.80" height="2.66" fill="#7d7d7d"/>
<rect x="997.70" y="389.09" width="1.60" height="6.61" fill="#95aae6"/>
<rect x="1000.20" y="389.41" width="1.60" height="6.29" fill="#95aae6"/>
<rect x="1004.40" y="389.31" width="1.60" height="6.39" fill="#95aae6"/>
<rect x="1006.90" y="389.49" width="1.60" height="6.21" fill="#95aae6"/>
<rect x="1010.20" y="389.07" width="1.60" height="6.63" fill="#95aae6"/>
<rect x="1013.50" y="388.41" width="1.60" height="7.29" fill="#95aae6"/>
<rect x="1017.20" y="389.32" width="1.60" height="6.38" fill="#95aae6"/>
<rect x="1018.50" y="389.45" width="1.60" height="6.25" fill="#95aae6"/>
<rect x="1019.80" y="389.38" width="1.60" height="6.32" fill="#95aae6"/>
<rect x="1021.80" y="388.94" width="1.60" height="6.76" fill="#95aae6"/>
<rect x="1029.20" y="389.13" width="1.60" height="6.57" fill="#95aae6"/>
<rect x="1037.50" y="388.47" width="1.60" height="7.23" fill="#95aae6"/>
<rect x="1039.50" y="389.28" width="1.60" height="6.42" fill="#95aae6"/>
<rect x="1044.20" y="388.95" width="1.60" height="6.75" fill="#95aae6"/>
<rect x="882.00" y="399.45" width="168.50" height="0.90" fill="#8a8a8a"/>
<rect x="882.70" y="399.90" width="0.60" height="1.70" fill="#777"/>
<text x="883.0" y="404.5" font-size="3.6" fill="#999" text-anchor="middle">1</text>
<rect x="896.30" y="399.90" width="0.60" height="1.70" fill="#777"/>
<text x="896.6" y="404.5" font-size="3.6" fill="#999" text-anchor="middle">6</text>
<rect x="910.20" y="399.90" width="0.60" height="1.70" fill="#777"/>
<text x="910.5" y="404.5" font-size="3.6" fill="#999" text-anchor="middle">11</text>
<rect x="923.40" y="399.90" width="0.60" height="1.70" fill="#777"/>
<text x="923.7" y="404.5" font-size="3.6" fill="#999" text-anchor="middle">16</text>
<rect x="937.20" y="399.90" width="0.60" height="1.70" fill="#777"/>
<text x="937.5" y="404.5" font-size="3.6" fill="#999" text-anchor="middle">21</text>
<rect x="950.40" y="399.90" width="0.60" height="1.70" fill="#777"/>
<text x="950.7" y="404.5" font-size="3.6" fill="#999" text-anchor="middle">26</text>
<rect x="963.70" y="399.90" width="0.60" height="1.70" fill="#777"/>
<text x="964.0" y="404.5" font-size="3.6" fill="#999" text-anchor="middle">31</text>
<rect x="976.90" y="399.90" width="0.60" height="1.70" fill="#777"/>
<text x="977.2" y="404.5" font-size="3.6" fill="#999" text-anchor="middle">36</text>
<rect x="988.70" y="399.90" width="0.60" height="1.70" fill="#777"/>
<text x="989.0" y="404.5" font-size="3.6" fill="#999" text-anchor="middle">41</text>
<rect x="993.20" y="399.90" width="0.60" height="1.70" fill="#777"/>
<text x="993.5" y="404.5" font-size="3.6" fill="#999" text-anchor="middle">50</text>
<rect x="1009.10" y="399.90" width="0.60" height="1.70" fill="#777"/>
<text x="1009.4" y="404.5" font-size="3.6" fill="#999" text-anchor="middle">80</text>
<rect x="1024.40" y="399.90" width="0.60" height="1.70" fill="#777"/>
<text x="1024.7" y="404.5" font-size="3.6" fill="#999" text-anchor="middle">110</text>
<rect x="1039.70" y="399.90" width="0.60" height="1.70" fill="#777"/>
<text x="1040.0" y="404.5" font-size="3.6" fill="#999" text-anchor="middle">140</text>
<rect x="882.50" y="444.90" width="2.05" height="2.40" fill="#e07c5c"/>
<rect x="884.91" y="444.90" width="2.05" height="2.40" fill="#7fdca2"/>
<rect x="887.32" y="444.90" width="2.05" height="2.40" fill="#8a4a3a"/>
<rect x="889.73" y="444.90" width="2.05" height="2.40" fill="#7fdca2"/>
<rect x="892.14" y="444.90" width="2.05" height="2.40" fill="#8a4a3a"/>
<rect x="894.55" y="444.90" width="2.05" height="2.40" fill="#8a4a3a"/>
<rect x="896.96" y="444.90" width="2.05" height="2.40" fill="#8a4a3a"/>
<rect x="899.37" y="444.90" width="2.05" height="2.40" fill="#e07c5c"/>
<rect x="901.78" y="444.90" width="2.05" height="2.40" fill="#7fdca2"/>
<rect x="904.19" y="444.90" width="2.05" height="2.40" fill="#e07c5c"/>
<rect x="906.60" y="444.90" width="2.05" height="2.40" fill="#7fdca2"/>
<rect x="909.01" y="444.90" width="2.05" height="2.40" fill="#8a4a3a"/>
<rect x="911.42" y="444.90" width="2.05" height="2.40" fill="#7fdca2"/>
<rect x="913.83" y="444.90" width="2.05" height="2.40" fill="#7fdca2"/>
<rect x="916.24" y="444.90" width="2.05" height="2.40" fill="#7fdca2"/>
<rect x="918.65" y="444.90" width="2.05" height="2.40" fill="#7fdca2"/>
<rect x="921.06" y="444.90" width="2.05" height="2.40" fill="#e07c5c"/>
<rect x="923.47" y="444.90" width="2.05" height="2.40" fill="#7fdca2"/>
<rect x="925.88" y="444.90" width="2.05" height="2.40" fill="#e07c5c"/>
<rect x="928.29" y="444.90" width="2.05" height="2.40" fill="#e07c5c"/>
<rect x="930.70" y="444.90" width="2.05" height="2.40" fill="#7fdca2"/>
<rect x="933.11" y="444.90" width="2.05" height="2.40" fill="#e07c5c"/>
<rect x="935.52" y="444.90" width="2.05" height="2.40" fill="#7fdca2"/>
<rect x="937.93" y="444.90" width="2.05" height="2.40" fill="#7fdca2"/>
<rect x="940.34" y="444.90" width="2.05" height="2.40" fill="#8a4a3a"/>
<rect x="942.75" y="444.90" width="2.05" height="2.40" fill="#7fdca2"/>
<rect x="945.16" y="444.90" width="2.05" height="2.40" fill="#e07c5c"/>
<rect x="947.57" y="444.90" width="2.05" height="2.40" fill="#7fdca2"/>
<rect x="949.98" y="444.90" width="2.05" height="2.40" fill="#7fdca2"/>
<rect x="952.39" y="444.90" width="2.05" height="2.40" fill="#e07c5c"/>
<rect x="954.80" y="444.90" width="2.05" height="2.40" fill="#7fdca2"/>
<rect x="957.21" y="444.90" width="2.05" height="2.40" fill="#7fdca2"/>
<rect x="959.62" y="444.90" width="2.05" height="2.40" fill="#7fdca2"/>
<rect x="962.03" y="444.90" width="2.05" height="2.40" fill="#e07c5c"/>
<rect x="964.44" y="444.90" width="2.05" height="2.40" fill="#e07c5c"/>
<rect x="966.85" y="444.90" width="2.05" height="2.40" fill="#e07c5c"/>
<rect x="969.26" y="444.90" width="2.05" height="2.40" fill="#7fdca2"/>
<rect x="971.67" y="444.90" width="2.05" height="2.40" fill="#7fdca2"/>
<rect x="974.08" y="444.90" width="2.05" height="2.40" fill="#7fdca2"/>
<rect x="976.49" y="444.90" width="2.05" height="2.40" fill="#7fdca2"/>
<rect x="978.90" y="444.90" width="2.05" height="2.40" fill="#7fdca2"/>
<rect x="981.31" y="444.90" width="2.05" height="2.40" fill="#7fdca2"/>
<rect x="983.72" y="444.90" width="2.05" height="2.40" fill="#7fdca2"/>
<rect x="986.13" y="444.90" width="2.05" height="2.40" fill="#7fdca2"/>
<rect x="888.10" y="437.42" width="2.00" height="7.28" fill="#3b5fcc"/>
<rect x="893.10" y="438.16" width="2.00" height="6.54" fill="#3b5fcc"/>
<rect x="906.70" y="437.69" width="2.00" height="7.01" fill="#3b5fcc"/>
<rect x="919.90" y="437.85" width="2.00" height="6.85" fill="#3b5fcc"/>
<rect x="949.50" y="437.33" width="2.00" height="7.37" fill="#3b5fcc"/>
<rect x="956.90" y="438.14" width="2.00" height="6.56" fill="#3b5fcc"/>
<rect x="970.20" y="437.86" width="2.00" height="6.84" fill="#3b5fcc"/>
<rect x="973.20" y="438.16" width="2.00" height="6.54" fill="#3b5fcc"/>
<rect x="978.50" y="438.08" width="2.00" height="6.62" fill="#3b5fcc"/>
<rect x="884.90" y="440.11" width="1.80" height="4.59" fill="#7d7d7d"/>
<rect x="904.00" y="440.28" width="1.80" height="4.42" fill="#7d7d7d"/>
<rect x="912.20" y="439.75" width="1.80" height="4.95" fill="#7d7d7d"/>
<rect x="922.50" y="439.69" width="1.80" height="5.01" fill="#7d7d7d"/>
<rect x="928.00" y="439.48" width="1.80" height="5.22" fill="#7d7d7d"/>
<rect x="930.50" y="440.11" width="1.80" height="4.59" fill="#7d7d7d"/>
<rect x="933.00" y="440.93" width="1.80" height="3.77" fill="#7d7d7d"/>
<rect x="935.80" y="439.31" width="1.80" height="5.39" fill="#7d7d7d"/>
<rect x="938.40" y="441.13" width="1.80" height="3.57" fill="#7d7d7d"/>
<rect x="946.70" y="440.21" width="1.80" height="4.49" fill="#7d7d7d"/>
<rect x="963.20" y="440.14" width="1.80" height="4.56" fill="#7d7d7d"/>
<rect x="986.90" y="441.51" width="1.80" height="3.19" fill="#7d7d7d"/>
<rect x="990.00" y="438.12" width="1.60" height="6.58" fill="#95aae6"/>
<rect x="995.20" y="437.91" width="1.60" height="6.79" fill="#95aae6"/>
<rect x="999.40" y="438.13" width="1.60" height="6.57" fill="#95aae6"/>
<rect x="1000.60" y="438.42" width="1.60" height="6.28" fill="#95aae6"/>
<rect x="1009.90" y="437.57" width="1.60" height="7.13" fill="#95aae6"/>
<rect x="1012.70" y="438.77" width="1.60" height="5.93" fill="#95aae6"/>
<rect x="1020.10" y="437.53" width="1.60" height="7.17" fill="#95aae6"/>
<rect x="1022.30" y="438.47" width="1.60" height="6.23" fill="#95aae6"/>
<rect x="1027.60" y="438.60" width="1.60" height="6.10" fill="#95aae6"/>
<rect x="1029.30" y="437.52" width="1.60" height="7.18" fill="#95aae6"/>
<rect x="1030.90" y="438.52" width="1.60" height="6.18" fill="#95aae6"/>
<rect x="1032.60" y="437.98" width="1.60" height="6.72" fill="#95aae6"/>
<rect x="1034.20" y="438.25" width="1.60" height="6.45" fill="#95aae6"/>
<rect x="1040.90" y="437.51" width="1.60" height="7.19" fill="#95aae6"/>
<rect x="1042.50" y="437.56" width="1.60" height="7.14" fill="#95aae6"/>
<rect x="1046.70" y="437.74" width="1.60" height="6.96" fill="#95aae6"/>
<rect x="882.00" y="448.15" width="168.50" height="0.90" fill="#8a8a8a"/>
<rect x="882.70" y="448.60" width="0.60" height="1.70" fill="#777"/>
<text x="883.0" y="453.2" font-size="3.6" fill="#999" text-anchor="middle">1</text>
<rect x="896.30" y="448.60" width="0.60" height="1.70" fill="#777"/>
<text x="896.6" y="453.2" font-size="3.6" fill="#999" text-anchor="middle">6</text>
<rect x="910.20" y="448.60" width="0.60" height="1.70" fill="#777"/>
<text x="910.5" y="453.2" font-size="3.6" fill="#999" text-anchor="middle">11</text>
<rect x="923.40" y="448.60" width="0.60" height="1.70" fill="#777"/>
<text x="923.7" y="453.2" font-size="3.6" fill="#999" text-anchor="middle">16</text>
<rect x="937.20" y="448.60" width="0.60" height="1.70" fill="#777"/>
<text x="937.5" y="453.2" font-size="3.6" fill="#999" text-anchor="middle">21</text>
<rect x="950.40" y="448.60" width="0.60" height="1.70" fill="#777"/>
<text x="950.7" y="453.2" font-size="3.6" fill="#999" text-anchor="middle">26</text>
<rect x="963.70" y="448.60" width="0.60" height="1.70" fill="#777"/>
<text x="964.0" y="453.2" font-size="3.6" fill="#999" text-anchor="middle">31</text>
<rect x="976.90" y="448.60" width="0.60" height="1.70" fill="#777"/>
<text x="977.2" y="453.2" font-size="3.6" fill="#999" text-anchor="middle">36</text>
<rect x="988.70" y="448.60" width="0.60" height="1.70" fill="#777"/>
<text x="989.0" y="453.2" font-size="3.6" fill="#999" text-anchor="middle">41</text>
<rect x="993.20" y="448.60" width="0.60" height="1.70" fill="#777"/>
<text x="993.5" y="453.2" font-size="3.6" fill="#999" text-anchor="middle">50</text>
<rect x="1009.10" y="448.60" width="0.60" height="1.70" fill="#777"/>
<text x="1009.4" y="453.2" font-size="3.6" fill="#999" text-anchor="middle">80</text>
<rect x="1024.40" y="448.60" width="0.60" height="1.70" fill="#777"/>
<text x="1024.7" y="453.2" font-size="3.6" fill="#999" text-anchor="middle">110</text>
<rect x="1039.70" y="448.60" width="0.60" height="1.70" fill="#777"/>
<text x="1040.0" y="453.2" font-size="3.6" fill="#999" text-anchor="middle">140</text>
</g>
</svg>
</body></html>
